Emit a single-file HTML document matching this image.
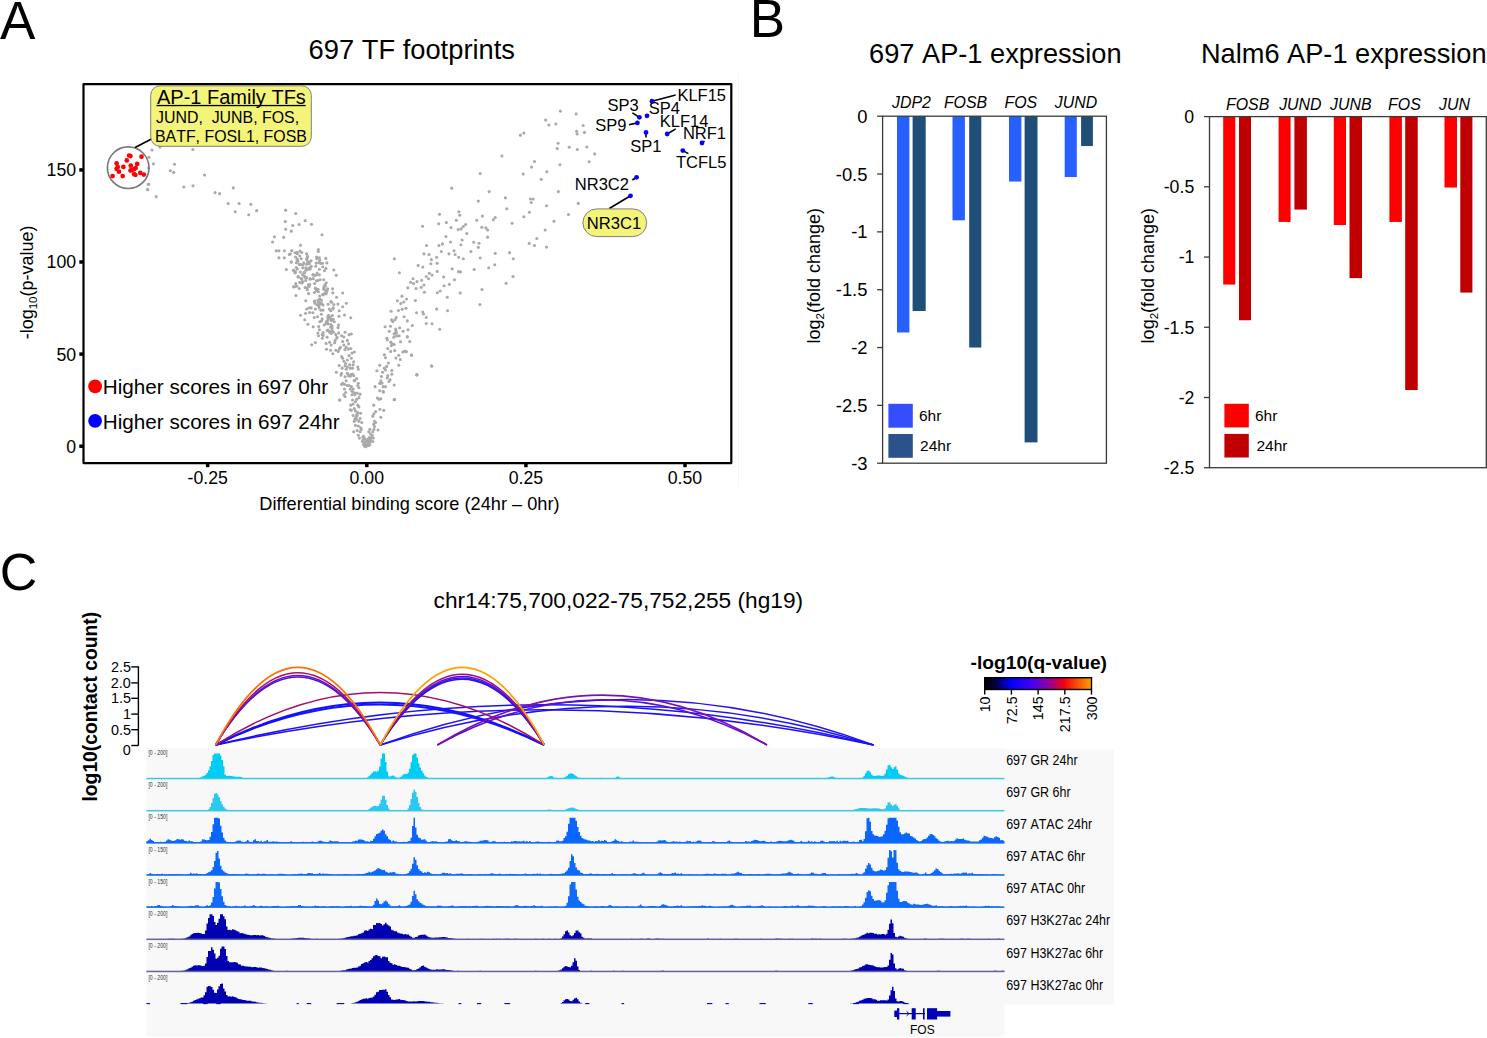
<!DOCTYPE html>
<html><head><meta charset="utf-8"><title>Figure</title><style>html,body{margin:0;padding:0;background:#fff;overflow:hidden;width:1487px;height:1038px}svg{display:block}text{font-family:"Liberation Sans",sans-serif;font-kerning:none}</style></head><body>
<svg width="1487" height="1038" viewBox="0 0 1487 1038">
<rect width="1487" height="1038" fill="#fff"/>
<text x="-0.10" y="38.80" font-size="53" fill="#000">A</text>
<text x="308.61" y="59.10" font-size="27.3" fill="#000">697 TF footprints</text>
<circle cx="326.58" cy="349.28" r="1.55" fill="#a9a9a9"/>
<circle cx="329.61" cy="342.29" r="1.55" fill="#a9a9a9"/>
<circle cx="323.09" cy="332.50" r="1.55" fill="#a9a9a9"/>
<circle cx="322.37" cy="338.25" r="1.55" fill="#a9a9a9"/>
<circle cx="337.97" cy="327.58" r="1.55" fill="#a9a9a9"/>
<circle cx="319.40" cy="329.68" r="1.55" fill="#a9a9a9"/>
<circle cx="326.08" cy="343.40" r="1.55" fill="#a9a9a9"/>
<circle cx="318.49" cy="335.69" r="1.55" fill="#a9a9a9"/>
<circle cx="329.27" cy="332.09" r="1.55" fill="#a9a9a9"/>
<circle cx="322.18" cy="334.46" r="1.55" fill="#a9a9a9"/>
<circle cx="327.11" cy="337.13" r="1.55" fill="#a9a9a9"/>
<circle cx="317.88" cy="332.94" r="1.55" fill="#a9a9a9"/>
<circle cx="323.23" cy="335.42" r="1.55" fill="#a9a9a9"/>
<circle cx="332.13" cy="328.42" r="1.55" fill="#a9a9a9"/>
<circle cx="330.79" cy="327.33" r="1.55" fill="#a9a9a9"/>
<circle cx="329.77" cy="331.36" r="1.55" fill="#a9a9a9"/>
<circle cx="315.33" cy="342.57" r="1.55" fill="#a9a9a9"/>
<circle cx="327.03" cy="330.43" r="1.55" fill="#a9a9a9"/>
<circle cx="327.97" cy="329.95" r="1.55" fill="#a9a9a9"/>
<circle cx="317.57" cy="316.81" r="1.55" fill="#a9a9a9"/>
<circle cx="318.74" cy="326.54" r="1.55" fill="#a9a9a9"/>
<circle cx="328.28" cy="324.01" r="1.55" fill="#a9a9a9"/>
<circle cx="326.47" cy="321.50" r="1.55" fill="#a9a9a9"/>
<circle cx="320.91" cy="310.30" r="1.55" fill="#a9a9a9"/>
<circle cx="315.27" cy="308.98" r="1.55" fill="#a9a9a9"/>
<circle cx="304.77" cy="319.71" r="1.55" fill="#a9a9a9"/>
<circle cx="311.20" cy="307.88" r="1.55" fill="#a9a9a9"/>
<circle cx="321.59" cy="320.87" r="1.55" fill="#a9a9a9"/>
<circle cx="332.04" cy="325.94" r="1.55" fill="#a9a9a9"/>
<circle cx="319.86" cy="321.79" r="1.55" fill="#a9a9a9"/>
<circle cx="328.04" cy="318.20" r="1.55" fill="#a9a9a9"/>
<circle cx="330.75" cy="310.82" r="1.55" fill="#a9a9a9"/>
<circle cx="344.46" cy="315.11" r="1.55" fill="#a9a9a9"/>
<circle cx="309.56" cy="312.43" r="1.55" fill="#a9a9a9"/>
<circle cx="305.59" cy="313.37" r="1.55" fill="#a9a9a9"/>
<circle cx="331.41" cy="320.66" r="1.55" fill="#a9a9a9"/>
<circle cx="329.23" cy="309.08" r="1.55" fill="#a9a9a9"/>
<circle cx="334.30" cy="321.82" r="1.55" fill="#a9a9a9"/>
<circle cx="319.19" cy="308.05" r="1.55" fill="#a9a9a9"/>
<circle cx="338.96" cy="316.20" r="1.55" fill="#a9a9a9"/>
<circle cx="330.96" cy="324.63" r="1.55" fill="#a9a9a9"/>
<circle cx="330.43" cy="317.00" r="1.55" fill="#a9a9a9"/>
<circle cx="332.70" cy="309.06" r="1.55" fill="#a9a9a9"/>
<circle cx="327.03" cy="322.53" r="1.55" fill="#a9a9a9"/>
<circle cx="332.08" cy="320.02" r="1.55" fill="#a9a9a9"/>
<circle cx="327.99" cy="316.95" r="1.55" fill="#a9a9a9"/>
<circle cx="312.91" cy="312.80" r="1.55" fill="#a9a9a9"/>
<circle cx="330.98" cy="319.52" r="1.55" fill="#a9a9a9"/>
<circle cx="324.18" cy="325.07" r="1.55" fill="#a9a9a9"/>
<circle cx="350.75" cy="317.69" r="1.55" fill="#a9a9a9"/>
<circle cx="323.05" cy="310.10" r="1.55" fill="#a9a9a9"/>
<circle cx="333.18" cy="319.30" r="1.55" fill="#a9a9a9"/>
<circle cx="333.31" cy="307.92" r="1.55" fill="#a9a9a9"/>
<circle cx="313.17" cy="326.81" r="1.55" fill="#a9a9a9"/>
<circle cx="306.74" cy="308.98" r="1.55" fill="#a9a9a9"/>
<circle cx="327.70" cy="320.41" r="1.55" fill="#a9a9a9"/>
<circle cx="339.21" cy="310.81" r="1.55" fill="#a9a9a9"/>
<circle cx="307.90" cy="324.24" r="1.55" fill="#a9a9a9"/>
<circle cx="314.23" cy="317.52" r="1.55" fill="#a9a9a9"/>
<circle cx="300.58" cy="315.23" r="1.55" fill="#a9a9a9"/>
<circle cx="322.16" cy="318.88" r="1.55" fill="#a9a9a9"/>
<circle cx="326.03" cy="323.42" r="1.55" fill="#a9a9a9"/>
<circle cx="321.38" cy="314.24" r="1.55" fill="#a9a9a9"/>
<circle cx="328.41" cy="315.31" r="1.55" fill="#a9a9a9"/>
<circle cx="338.50" cy="325.04" r="1.55" fill="#a9a9a9"/>
<circle cx="330.72" cy="319.07" r="1.55" fill="#a9a9a9"/>
<circle cx="332.33" cy="315.50" r="1.55" fill="#a9a9a9"/>
<circle cx="315.85" cy="289.11" r="1.55" fill="#a9a9a9"/>
<circle cx="307.28" cy="289.82" r="1.55" fill="#a9a9a9"/>
<circle cx="316.50" cy="289.20" r="1.55" fill="#a9a9a9"/>
<circle cx="331.46" cy="302.20" r="1.55" fill="#a9a9a9"/>
<circle cx="319.70" cy="299.11" r="1.55" fill="#a9a9a9"/>
<circle cx="323.93" cy="293.72" r="1.55" fill="#a9a9a9"/>
<circle cx="314.67" cy="301.08" r="1.55" fill="#a9a9a9"/>
<circle cx="323.10" cy="294.83" r="1.55" fill="#a9a9a9"/>
<circle cx="336.56" cy="297.31" r="1.55" fill="#a9a9a9"/>
<circle cx="307.07" cy="288.06" r="1.55" fill="#a9a9a9"/>
<circle cx="337.96" cy="304.09" r="1.55" fill="#a9a9a9"/>
<circle cx="331.00" cy="301.48" r="1.55" fill="#a9a9a9"/>
<circle cx="315.01" cy="303.37" r="1.55" fill="#a9a9a9"/>
<circle cx="322.74" cy="294.48" r="1.55" fill="#a9a9a9"/>
<circle cx="316.96" cy="304.69" r="1.55" fill="#a9a9a9"/>
<circle cx="322.99" cy="304.95" r="1.55" fill="#a9a9a9"/>
<circle cx="316.80" cy="290.80" r="1.55" fill="#a9a9a9"/>
<circle cx="342.74" cy="293.00" r="1.55" fill="#a9a9a9"/>
<circle cx="318.67" cy="305.16" r="1.55" fill="#a9a9a9"/>
<circle cx="332.79" cy="292.83" r="1.55" fill="#a9a9a9"/>
<circle cx="321.43" cy="300.19" r="1.55" fill="#a9a9a9"/>
<circle cx="328.14" cy="304.32" r="1.55" fill="#a9a9a9"/>
<circle cx="315.39" cy="288.14" r="1.55" fill="#a9a9a9"/>
<circle cx="318.04" cy="289.36" r="1.55" fill="#a9a9a9"/>
<circle cx="326.26" cy="291.42" r="1.55" fill="#a9a9a9"/>
<circle cx="309.25" cy="307.85" r="1.55" fill="#a9a9a9"/>
<circle cx="320.81" cy="303.87" r="1.55" fill="#a9a9a9"/>
<circle cx="327.12" cy="290.68" r="1.55" fill="#a9a9a9"/>
<circle cx="318.39" cy="291.75" r="1.55" fill="#a9a9a9"/>
<circle cx="342.71" cy="306.82" r="1.55" fill="#a9a9a9"/>
<circle cx="326.09" cy="293.85" r="1.55" fill="#a9a9a9"/>
<circle cx="314.37" cy="301.45" r="1.55" fill="#a9a9a9"/>
<circle cx="346.44" cy="303.19" r="1.55" fill="#a9a9a9"/>
<circle cx="318.26" cy="302.18" r="1.55" fill="#a9a9a9"/>
<circle cx="316.40" cy="289.94" r="1.55" fill="#a9a9a9"/>
<circle cx="323.59" cy="289.09" r="1.55" fill="#a9a9a9"/>
<circle cx="316.49" cy="289.77" r="1.55" fill="#a9a9a9"/>
<circle cx="317.99" cy="300.26" r="1.55" fill="#a9a9a9"/>
<circle cx="327.56" cy="288.80" r="1.55" fill="#a9a9a9"/>
<circle cx="314.45" cy="292.49" r="1.55" fill="#a9a9a9"/>
<circle cx="295.94" cy="295.51" r="1.55" fill="#a9a9a9"/>
<circle cx="305.79" cy="300.77" r="1.55" fill="#a9a9a9"/>
<circle cx="333.81" cy="304.56" r="1.55" fill="#a9a9a9"/>
<circle cx="321.45" cy="303.16" r="1.55" fill="#a9a9a9"/>
<circle cx="319.53" cy="302.45" r="1.55" fill="#a9a9a9"/>
<circle cx="324.57" cy="289.50" r="1.55" fill="#a9a9a9"/>
<circle cx="318.86" cy="306.07" r="1.55" fill="#a9a9a9"/>
<circle cx="308.59" cy="293.64" r="1.55" fill="#a9a9a9"/>
<circle cx="319.61" cy="295.94" r="1.55" fill="#a9a9a9"/>
<circle cx="325.91" cy="292.28" r="1.55" fill="#a9a9a9"/>
<circle cx="295.40" cy="271.61" r="1.55" fill="#a9a9a9"/>
<circle cx="297.98" cy="276.63" r="1.55" fill="#a9a9a9"/>
<circle cx="326.24" cy="282.79" r="1.55" fill="#a9a9a9"/>
<circle cx="324.94" cy="284.74" r="1.55" fill="#a9a9a9"/>
<circle cx="302.12" cy="281.46" r="1.55" fill="#a9a9a9"/>
<circle cx="313.27" cy="278.67" r="1.55" fill="#a9a9a9"/>
<circle cx="325.96" cy="268.38" r="1.55" fill="#a9a9a9"/>
<circle cx="320.09" cy="279.81" r="1.55" fill="#a9a9a9"/>
<circle cx="294.67" cy="286.82" r="1.55" fill="#a9a9a9"/>
<circle cx="325.42" cy="285.90" r="1.55" fill="#a9a9a9"/>
<circle cx="333.83" cy="270.07" r="1.55" fill="#a9a9a9"/>
<circle cx="300.26" cy="272.10" r="1.55" fill="#a9a9a9"/>
<circle cx="310.00" cy="269.24" r="1.55" fill="#a9a9a9"/>
<circle cx="304.66" cy="276.41" r="1.55" fill="#a9a9a9"/>
<circle cx="308.41" cy="284.72" r="1.55" fill="#a9a9a9"/>
<circle cx="299.69" cy="282.56" r="1.55" fill="#a9a9a9"/>
<circle cx="305.11" cy="287.44" r="1.55" fill="#a9a9a9"/>
<circle cx="313.28" cy="274.52" r="1.55" fill="#a9a9a9"/>
<circle cx="317.12" cy="272.99" r="1.55" fill="#a9a9a9"/>
<circle cx="323.75" cy="286.90" r="1.55" fill="#a9a9a9"/>
<circle cx="316.36" cy="275.04" r="1.55" fill="#a9a9a9"/>
<circle cx="309.76" cy="284.46" r="1.55" fill="#a9a9a9"/>
<circle cx="301.70" cy="283.06" r="1.55" fill="#a9a9a9"/>
<circle cx="302.87" cy="281.90" r="1.55" fill="#a9a9a9"/>
<circle cx="304.04" cy="272.57" r="1.55" fill="#a9a9a9"/>
<circle cx="317.95" cy="280.50" r="1.55" fill="#a9a9a9"/>
<circle cx="332.57" cy="288.69" r="1.55" fill="#a9a9a9"/>
<circle cx="316.45" cy="280.71" r="1.55" fill="#a9a9a9"/>
<circle cx="301.12" cy="278.57" r="1.55" fill="#a9a9a9"/>
<circle cx="299.24" cy="288.54" r="1.55" fill="#a9a9a9"/>
<circle cx="309.07" cy="286.55" r="1.55" fill="#a9a9a9"/>
<circle cx="305.78" cy="280.52" r="1.55" fill="#a9a9a9"/>
<circle cx="310.66" cy="278.95" r="1.55" fill="#a9a9a9"/>
<circle cx="293.50" cy="286.87" r="1.55" fill="#a9a9a9"/>
<circle cx="314.64" cy="283.50" r="1.55" fill="#a9a9a9"/>
<circle cx="319.38" cy="269.19" r="1.55" fill="#a9a9a9"/>
<circle cx="305.74" cy="270.18" r="1.55" fill="#a9a9a9"/>
<circle cx="293.44" cy="270.14" r="1.55" fill="#a9a9a9"/>
<circle cx="295.03" cy="272.51" r="1.55" fill="#a9a9a9"/>
<circle cx="323.65" cy="279.68" r="1.55" fill="#a9a9a9"/>
<circle cx="295.77" cy="283.65" r="1.55" fill="#a9a9a9"/>
<circle cx="306.67" cy="277.65" r="1.55" fill="#a9a9a9"/>
<circle cx="312.88" cy="275.02" r="1.55" fill="#a9a9a9"/>
<circle cx="296.77" cy="286.30" r="1.55" fill="#a9a9a9"/>
<circle cx="297.23" cy="259.02" r="1.55" fill="#a9a9a9"/>
<circle cx="291.09" cy="262.02" r="1.55" fill="#a9a9a9"/>
<circle cx="300.88" cy="264.54" r="1.55" fill="#a9a9a9"/>
<circle cx="299.27" cy="264.19" r="1.55" fill="#a9a9a9"/>
<circle cx="297.36" cy="268.98" r="1.55" fill="#a9a9a9"/>
<circle cx="306.64" cy="264.18" r="1.55" fill="#a9a9a9"/>
<circle cx="322.41" cy="263.32" r="1.55" fill="#a9a9a9"/>
<circle cx="309.29" cy="263.66" r="1.55" fill="#a9a9a9"/>
<circle cx="310.03" cy="267.88" r="1.55" fill="#a9a9a9"/>
<circle cx="318.95" cy="262.55" r="1.55" fill="#a9a9a9"/>
<circle cx="307.69" cy="261.49" r="1.55" fill="#a9a9a9"/>
<circle cx="316.30" cy="263.13" r="1.55" fill="#a9a9a9"/>
<circle cx="307.13" cy="257.81" r="1.55" fill="#a9a9a9"/>
<circle cx="319.76" cy="260.20" r="1.55" fill="#a9a9a9"/>
<circle cx="305.82" cy="267.83" r="1.55" fill="#a9a9a9"/>
<circle cx="326.86" cy="262.92" r="1.55" fill="#a9a9a9"/>
<circle cx="297.85" cy="261.19" r="1.55" fill="#a9a9a9"/>
<circle cx="296.37" cy="267.60" r="1.55" fill="#a9a9a9"/>
<circle cx="316.89" cy="258.69" r="1.55" fill="#a9a9a9"/>
<circle cx="311.06" cy="260.87" r="1.55" fill="#a9a9a9"/>
<circle cx="315.75" cy="266.23" r="1.55" fill="#a9a9a9"/>
<circle cx="303.80" cy="262.80" r="1.55" fill="#a9a9a9"/>
<circle cx="308.93" cy="268.10" r="1.55" fill="#a9a9a9"/>
<circle cx="309.13" cy="262.09" r="1.55" fill="#a9a9a9"/>
<circle cx="302.68" cy="267.80" r="1.55" fill="#a9a9a9"/>
<circle cx="291.40" cy="262.11" r="1.55" fill="#a9a9a9"/>
<circle cx="320.55" cy="263.38" r="1.55" fill="#a9a9a9"/>
<circle cx="316.63" cy="256.95" r="1.55" fill="#a9a9a9"/>
<circle cx="299.99" cy="251.15" r="1.55" fill="#a9a9a9"/>
<circle cx="291.76" cy="250.61" r="1.55" fill="#a9a9a9"/>
<circle cx="297.30" cy="253.82" r="1.55" fill="#a9a9a9"/>
<circle cx="318.26" cy="251.56" r="1.55" fill="#a9a9a9"/>
<circle cx="306.56" cy="253.85" r="1.55" fill="#a9a9a9"/>
<circle cx="296.82" cy="252.32" r="1.55" fill="#a9a9a9"/>
<circle cx="295.56" cy="257.03" r="1.55" fill="#a9a9a9"/>
<circle cx="290.34" cy="253.86" r="1.55" fill="#a9a9a9"/>
<circle cx="307.51" cy="256.40" r="1.55" fill="#a9a9a9"/>
<circle cx="301.75" cy="252.49" r="1.55" fill="#a9a9a9"/>
<circle cx="395.90" cy="330.58" r="1.55" fill="#a9a9a9"/>
<circle cx="394.16" cy="334.05" r="1.55" fill="#a9a9a9"/>
<circle cx="396.47" cy="332.89" r="1.55" fill="#a9a9a9"/>
<circle cx="399.13" cy="335.78" r="1.55" fill="#a9a9a9"/>
<circle cx="393.82" cy="337.17" r="1.55" fill="#a9a9a9"/>
<circle cx="407.23" cy="336.94" r="1.55" fill="#a9a9a9"/>
<circle cx="409.77" cy="341.56" r="1.55" fill="#a9a9a9"/>
<circle cx="400.52" cy="341.79" r="1.55" fill="#a9a9a9"/>
<circle cx="387.23" cy="339.83" r="1.55" fill="#a9a9a9"/>
<circle cx="390.69" cy="342.14" r="1.55" fill="#a9a9a9"/>
<circle cx="392.43" cy="343.87" r="1.55" fill="#a9a9a9"/>
<circle cx="391.27" cy="345.61" r="1.55" fill="#a9a9a9"/>
<circle cx="394.16" cy="344.45" r="1.55" fill="#a9a9a9"/>
<circle cx="387.80" cy="348.50" r="1.55" fill="#a9a9a9"/>
<circle cx="390.69" cy="351.39" r="1.55" fill="#a9a9a9"/>
<circle cx="394.74" cy="350.58" r="1.55" fill="#a9a9a9"/>
<circle cx="402.83" cy="351.97" r="1.55" fill="#a9a9a9"/>
<circle cx="406.30" cy="351.73" r="1.55" fill="#a9a9a9"/>
<circle cx="411.50" cy="355.20" r="1.55" fill="#a9a9a9"/>
<circle cx="398.79" cy="355.20" r="1.55" fill="#a9a9a9"/>
<circle cx="395.90" cy="357.98" r="1.55" fill="#a9a9a9"/>
<circle cx="400.29" cy="359.48" r="1.55" fill="#a9a9a9"/>
<circle cx="384.34" cy="354.86" r="1.55" fill="#a9a9a9"/>
<circle cx="385.49" cy="357.75" r="1.55" fill="#a9a9a9"/>
<circle cx="388.38" cy="362.95" r="1.55" fill="#a9a9a9"/>
<circle cx="379.71" cy="365.26" r="1.55" fill="#a9a9a9"/>
<circle cx="398.79" cy="365.26" r="1.55" fill="#a9a9a9"/>
<circle cx="386.65" cy="366.42" r="1.55" fill="#a9a9a9"/>
<circle cx="384.34" cy="368.15" r="1.55" fill="#a9a9a9"/>
<circle cx="385.49" cy="369.88" r="1.55" fill="#a9a9a9"/>
<circle cx="382.60" cy="372.20" r="1.55" fill="#a9a9a9"/>
<circle cx="376.82" cy="370.69" r="1.55" fill="#a9a9a9"/>
<circle cx="391.85" cy="370.46" r="1.55" fill="#a9a9a9"/>
<circle cx="391.85" cy="374.16" r="1.55" fill="#a9a9a9"/>
<circle cx="381.45" cy="376.47" r="1.55" fill="#a9a9a9"/>
<circle cx="387.80" cy="375.66" r="1.55" fill="#a9a9a9"/>
<circle cx="387.23" cy="377.98" r="1.55" fill="#a9a9a9"/>
<circle cx="390.12" cy="379.71" r="1.55" fill="#a9a9a9"/>
<circle cx="388.96" cy="381.45" r="1.55" fill="#a9a9a9"/>
<circle cx="380.87" cy="380.87" r="1.55" fill="#a9a9a9"/>
<circle cx="382.02" cy="383.18" r="1.55" fill="#a9a9a9"/>
<circle cx="379.71" cy="383.41" r="1.55" fill="#a9a9a9"/>
<circle cx="383.18" cy="386.65" r="1.55" fill="#a9a9a9"/>
<circle cx="385.49" cy="386.65" r="1.55" fill="#a9a9a9"/>
<circle cx="375.09" cy="386.65" r="1.55" fill="#a9a9a9"/>
<circle cx="394.16" cy="385.03" r="1.55" fill="#a9a9a9"/>
<circle cx="379.71" cy="390.69" r="1.55" fill="#a9a9a9"/>
<circle cx="383.18" cy="391.27" r="1.55" fill="#a9a9a9"/>
<circle cx="383.41" cy="392.20" r="1.55" fill="#a9a9a9"/>
<circle cx="377.40" cy="397.98" r="1.55" fill="#a9a9a9"/>
<circle cx="379.13" cy="399.36" r="1.55" fill="#a9a9a9"/>
<circle cx="380.87" cy="398.79" r="1.55" fill="#a9a9a9"/>
<circle cx="394.16" cy="399.71" r="1.55" fill="#a9a9a9"/>
<circle cx="373.70" cy="405.14" r="1.55" fill="#a9a9a9"/>
<circle cx="379.94" cy="409.19" r="1.55" fill="#a9a9a9"/>
<circle cx="383.76" cy="410.35" r="1.55" fill="#a9a9a9"/>
<circle cx="375.66" cy="411.50" r="1.55" fill="#a9a9a9"/>
<circle cx="373.93" cy="413.82" r="1.55" fill="#a9a9a9"/>
<circle cx="372.77" cy="416.13" r="1.55" fill="#a9a9a9"/>
<circle cx="380.87" cy="417.28" r="1.55" fill="#a9a9a9"/>
<circle cx="374.51" cy="421.33" r="1.55" fill="#a9a9a9"/>
<circle cx="375.66" cy="422.49" r="1.55" fill="#a9a9a9"/>
<circle cx="373.70" cy="424.22" r="1.55" fill="#a9a9a9"/>
<circle cx="374.51" cy="426.53" r="1.55" fill="#a9a9a9"/>
<circle cx="377.98" cy="430.00" r="1.55" fill="#a9a9a9"/>
<circle cx="373.93" cy="429.42" r="1.55" fill="#a9a9a9"/>
<circle cx="372.77" cy="431.73" r="1.55" fill="#a9a9a9"/>
<circle cx="369.88" cy="429.42" r="1.55" fill="#a9a9a9"/>
<circle cx="368.73" cy="431.73" r="1.55" fill="#a9a9a9"/>
<circle cx="370.46" cy="434.05" r="1.55" fill="#a9a9a9"/>
<circle cx="372.20" cy="435.20" r="1.55" fill="#a9a9a9"/>
<circle cx="373.35" cy="438.09" r="1.55" fill="#a9a9a9"/>
<circle cx="369.31" cy="437.51" r="1.55" fill="#a9a9a9"/>
<circle cx="369.88" cy="439.25" r="1.55" fill="#a9a9a9"/>
<circle cx="371.04" cy="440.98" r="1.55" fill="#a9a9a9"/>
<circle cx="372.77" cy="441.56" r="1.55" fill="#a9a9a9"/>
<circle cx="368.15" cy="440.98" r="1.55" fill="#a9a9a9"/>
<circle cx="431.73" cy="366.18" r="1.55" fill="#a9a9a9"/>
<circle cx="416.94" cy="374.74" r="1.55" fill="#a9a9a9"/>
<circle cx="363.53" cy="436.36" r="1.55" fill="#a9a9a9"/>
<circle cx="364.68" cy="438.67" r="1.55" fill="#a9a9a9"/>
<circle cx="365.84" cy="440.98" r="1.55" fill="#a9a9a9"/>
<circle cx="364.10" cy="442.72" r="1.55" fill="#a9a9a9"/>
<circle cx="365.26" cy="444.45" r="1.55" fill="#a9a9a9"/>
<circle cx="366.99" cy="445.61" r="1.55" fill="#a9a9a9"/>
<circle cx="368.15" cy="443.87" r="1.55" fill="#a9a9a9"/>
<circle cx="369.31" cy="442.14" r="1.55" fill="#a9a9a9"/>
<circle cx="362.95" cy="439.83" r="1.55" fill="#a9a9a9"/>
<circle cx="364.68" cy="446.18" r="1.55" fill="#a9a9a9"/>
<circle cx="366.42" cy="443.29" r="1.55" fill="#a9a9a9"/>
<circle cx="370.46" cy="438.67" r="1.55" fill="#a9a9a9"/>
<circle cx="371.62" cy="437.51" r="1.55" fill="#a9a9a9"/>
<circle cx="367.57" cy="439.25" r="1.55" fill="#a9a9a9"/>
<circle cx="363.53" cy="444.45" r="1.55" fill="#a9a9a9"/>
<circle cx="362.37" cy="441.56" r="1.55" fill="#a9a9a9"/>
<circle cx="369.88" cy="444.45" r="1.55" fill="#a9a9a9"/>
<circle cx="368.73" cy="445.61" r="1.55" fill="#a9a9a9"/>
<circle cx="365.84" cy="446.76" r="1.55" fill="#a9a9a9"/>
<circle cx="331.16" cy="333.47" r="1.55" fill="#a9a9a9"/>
<circle cx="333.47" cy="332.31" r="1.55" fill="#a9a9a9"/>
<circle cx="335.78" cy="334.62" r="1.55" fill="#a9a9a9"/>
<circle cx="336.94" cy="338.09" r="1.55" fill="#a9a9a9"/>
<circle cx="335.20" cy="340.40" r="1.55" fill="#a9a9a9"/>
<circle cx="331.16" cy="345.03" r="1.55" fill="#a9a9a9"/>
<circle cx="330.58" cy="350.23" r="1.55" fill="#a9a9a9"/>
<circle cx="332.89" cy="353.70" r="1.55" fill="#a9a9a9"/>
<circle cx="336.94" cy="336.94" r="1.55" fill="#a9a9a9"/>
<circle cx="341.56" cy="335.78" r="1.55" fill="#a9a9a9"/>
<circle cx="343.87" cy="336.94" r="1.55" fill="#a9a9a9"/>
<circle cx="342.72" cy="341.56" r="1.55" fill="#a9a9a9"/>
<circle cx="347.34" cy="340.40" r="1.55" fill="#a9a9a9"/>
<circle cx="348.50" cy="343.87" r="1.55" fill="#a9a9a9"/>
<circle cx="346.18" cy="347.34" r="1.55" fill="#a9a9a9"/>
<circle cx="345.03" cy="349.65" r="1.55" fill="#a9a9a9"/>
<circle cx="348.50" cy="349.08" r="1.55" fill="#a9a9a9"/>
<circle cx="350.81" cy="348.50" r="1.55" fill="#a9a9a9"/>
<circle cx="354.28" cy="351.97" r="1.55" fill="#a9a9a9"/>
<circle cx="339.25" cy="349.08" r="1.55" fill="#a9a9a9"/>
<circle cx="338.09" cy="351.39" r="1.55" fill="#a9a9a9"/>
<circle cx="335.78" cy="350.23" r="1.55" fill="#a9a9a9"/>
<circle cx="340.40" cy="347.34" r="1.55" fill="#a9a9a9"/>
<circle cx="341.56" cy="356.59" r="1.55" fill="#a9a9a9"/>
<circle cx="342.72" cy="358.32" r="1.55" fill="#a9a9a9"/>
<circle cx="349.08" cy="355.66" r="1.55" fill="#a9a9a9"/>
<circle cx="351.39" cy="358.32" r="1.55" fill="#a9a9a9"/>
<circle cx="353.70" cy="361.79" r="1.55" fill="#a9a9a9"/>
<circle cx="339.25" cy="365.61" r="1.55" fill="#a9a9a9"/>
<circle cx="345.61" cy="363.53" r="1.55" fill="#a9a9a9"/>
<circle cx="345.03" cy="365.84" r="1.55" fill="#a9a9a9"/>
<circle cx="347.34" cy="366.99" r="1.55" fill="#a9a9a9"/>
<circle cx="346.18" cy="369.31" r="1.55" fill="#a9a9a9"/>
<circle cx="350.23" cy="368.15" r="1.55" fill="#a9a9a9"/>
<circle cx="352.54" cy="368.15" r="1.55" fill="#a9a9a9"/>
<circle cx="357.75" cy="366.99" r="1.55" fill="#a9a9a9"/>
<circle cx="358.32" cy="369.31" r="1.55" fill="#a9a9a9"/>
<circle cx="336.36" cy="372.20" r="1.55" fill="#a9a9a9"/>
<circle cx="341.56" cy="373.35" r="1.55" fill="#a9a9a9"/>
<circle cx="340.98" cy="375.09" r="1.55" fill="#a9a9a9"/>
<circle cx="345.03" cy="376.82" r="1.55" fill="#a9a9a9"/>
<circle cx="348.50" cy="375.66" r="1.55" fill="#a9a9a9"/>
<circle cx="350.81" cy="374.51" r="1.55" fill="#a9a9a9"/>
<circle cx="352.54" cy="373.93" r="1.55" fill="#a9a9a9"/>
<circle cx="353.70" cy="375.66" r="1.55" fill="#a9a9a9"/>
<circle cx="350.23" cy="376.24" r="1.55" fill="#a9a9a9"/>
<circle cx="347.34" cy="373.35" r="1.55" fill="#a9a9a9"/>
<circle cx="354.28" cy="380.29" r="1.55" fill="#a9a9a9"/>
<circle cx="354.86" cy="380.87" r="1.55" fill="#a9a9a9"/>
<circle cx="341.56" cy="384.34" r="1.55" fill="#a9a9a9"/>
<circle cx="342.72" cy="383.18" r="1.55" fill="#a9a9a9"/>
<circle cx="347.34" cy="385.49" r="1.55" fill="#a9a9a9"/>
<circle cx="349.08" cy="385.49" r="1.55" fill="#a9a9a9"/>
<circle cx="351.39" cy="386.65" r="1.55" fill="#a9a9a9"/>
<circle cx="350.23" cy="388.96" r="1.55" fill="#a9a9a9"/>
<circle cx="353.12" cy="388.96" r="1.55" fill="#a9a9a9"/>
<circle cx="351.97" cy="391.27" r="1.55" fill="#a9a9a9"/>
<circle cx="353.70" cy="392.43" r="1.55" fill="#a9a9a9"/>
<circle cx="354.86" cy="393.58" r="1.55" fill="#a9a9a9"/>
<circle cx="357.17" cy="393.01" r="1.55" fill="#a9a9a9"/>
<circle cx="358.32" cy="383.18" r="1.55" fill="#a9a9a9"/>
<circle cx="357.75" cy="385.49" r="1.55" fill="#a9a9a9"/>
<circle cx="358.90" cy="387.80" r="1.55" fill="#a9a9a9"/>
<circle cx="344.45" cy="388.96" r="1.55" fill="#a9a9a9"/>
<circle cx="345.61" cy="392.43" r="1.55" fill="#a9a9a9"/>
<circle cx="343.87" cy="394.74" r="1.55" fill="#a9a9a9"/>
<circle cx="345.03" cy="396.47" r="1.55" fill="#a9a9a9"/>
<circle cx="351.97" cy="394.74" r="1.55" fill="#a9a9a9"/>
<circle cx="354.86" cy="394.74" r="1.55" fill="#a9a9a9"/>
<circle cx="360.06" cy="394.16" r="1.55" fill="#a9a9a9"/>
<circle cx="358.90" cy="397.63" r="1.55" fill="#a9a9a9"/>
<circle cx="339.83" cy="399.94" r="1.55" fill="#a9a9a9"/>
<circle cx="355.43" cy="401.68" r="1.55" fill="#a9a9a9"/>
<circle cx="353.12" cy="403.99" r="1.55" fill="#a9a9a9"/>
<circle cx="357.75" cy="405.14" r="1.55" fill="#a9a9a9"/>
<circle cx="358.90" cy="406.88" r="1.55" fill="#a9a9a9"/>
<circle cx="354.28" cy="408.61" r="1.55" fill="#a9a9a9"/>
<circle cx="350.23" cy="409.77" r="1.55" fill="#a9a9a9"/>
<circle cx="351.39" cy="410.35" r="1.55" fill="#a9a9a9"/>
<circle cx="357.75" cy="412.66" r="1.55" fill="#a9a9a9"/>
<circle cx="357.17" cy="415.55" r="1.55" fill="#a9a9a9"/>
<circle cx="356.01" cy="416.71" r="1.55" fill="#a9a9a9"/>
<circle cx="354.86" cy="419.02" r="1.55" fill="#a9a9a9"/>
<circle cx="356.59" cy="419.60" r="1.55" fill="#a9a9a9"/>
<circle cx="360.06" cy="418.44" r="1.55" fill="#a9a9a9"/>
<circle cx="358.90" cy="421.33" r="1.55" fill="#a9a9a9"/>
<circle cx="361.79" cy="422.49" r="1.55" fill="#a9a9a9"/>
<circle cx="355.43" cy="425.38" r="1.55" fill="#a9a9a9"/>
<circle cx="360.64" cy="427.69" r="1.55" fill="#a9a9a9"/>
<circle cx="361.21" cy="429.42" r="1.55" fill="#a9a9a9"/>
<circle cx="360.06" cy="431.73" r="1.55" fill="#a9a9a9"/>
<circle cx="353.70" cy="431.73" r="1.55" fill="#a9a9a9"/>
<circle cx="358.32" cy="435.20" r="1.55" fill="#a9a9a9"/>
<circle cx="359.48" cy="438.09" r="1.55" fill="#a9a9a9"/>
<circle cx="362.95" cy="436.94" r="1.55" fill="#a9a9a9"/>
<circle cx="356.01" cy="417.86" r="1.55" fill="#a9a9a9"/>
<circle cx="354.28" cy="421.33" r="1.55" fill="#a9a9a9"/>
<circle cx="356.82" cy="414.39" r="1.55" fill="#a9a9a9"/>
<circle cx="332.31" cy="331.16" r="1.55" fill="#a9a9a9"/>
<circle cx="338.67" cy="332.89" r="1.55" fill="#a9a9a9"/>
<circle cx="345.03" cy="332.31" r="1.55" fill="#a9a9a9"/>
<circle cx="349.08" cy="334.62" r="1.55" fill="#a9a9a9"/>
<circle cx="351.39" cy="334.05" r="1.55" fill="#a9a9a9"/>
<circle cx="334.62" cy="342.72" r="1.55" fill="#a9a9a9"/>
<circle cx="343.87" cy="345.03" r="1.55" fill="#a9a9a9"/>
<circle cx="351.97" cy="353.12" r="1.55" fill="#a9a9a9"/>
<circle cx="347.34" cy="360.06" r="1.55" fill="#a9a9a9"/>
<circle cx="343.87" cy="361.21" r="1.55" fill="#a9a9a9"/>
<circle cx="349.65" cy="364.68" r="1.55" fill="#a9a9a9"/>
<circle cx="342.14" cy="368.15" r="1.55" fill="#a9a9a9"/>
<circle cx="353.12" cy="364.68" r="1.55" fill="#a9a9a9"/>
<circle cx="356.59" cy="378.55" r="1.55" fill="#a9a9a9"/>
<circle cx="346.18" cy="380.87" r="1.55" fill="#a9a9a9"/>
<circle cx="344.45" cy="384.34" r="1.55" fill="#a9a9a9"/>
<circle cx="356.59" cy="399.36" r="1.55" fill="#a9a9a9"/>
<circle cx="352.54" cy="399.94" r="1.55" fill="#a9a9a9"/>
<circle cx="350.81" cy="405.14" r="1.55" fill="#a9a9a9"/>
<circle cx="355.43" cy="410.92" r="1.55" fill="#a9a9a9"/>
<circle cx="360.64" cy="413.24" r="1.55" fill="#a9a9a9"/>
<circle cx="353.12" cy="415.55" r="1.55" fill="#a9a9a9"/>
<circle cx="358.32" cy="425.95" r="1.55" fill="#a9a9a9"/>
<circle cx="357.17" cy="430.58" r="1.55" fill="#a9a9a9"/>
<circle cx="560.43" cy="111.10" r="1.55" fill="#a9a9a9"/>
<circle cx="576.16" cy="113.88" r="1.55" fill="#a9a9a9"/>
<circle cx="545.63" cy="120.12" r="1.55" fill="#a9a9a9"/>
<circle cx="548.86" cy="124.98" r="1.55" fill="#a9a9a9"/>
<circle cx="555.80" cy="124.06" r="1.55" fill="#a9a9a9"/>
<circle cx="583.10" cy="125.45" r="1.55" fill="#a9a9a9"/>
<circle cx="576.62" cy="131.23" r="1.55" fill="#a9a9a9"/>
<circle cx="584.49" cy="132.38" r="1.55" fill="#a9a9a9"/>
<circle cx="577.09" cy="134.00" r="1.55" fill="#a9a9a9"/>
<circle cx="523.88" cy="133.08" r="1.55" fill="#a9a9a9"/>
<circle cx="520.41" cy="135.16" r="1.55" fill="#a9a9a9"/>
<circle cx="558.12" cy="143.26" r="1.55" fill="#a9a9a9"/>
<circle cx="557.19" cy="148.58" r="1.55" fill="#a9a9a9"/>
<circle cx="569.22" cy="147.19" r="1.55" fill="#a9a9a9"/>
<circle cx="577.32" cy="149.50" r="1.55" fill="#a9a9a9"/>
<circle cx="586.80" cy="146.96" r="1.55" fill="#a9a9a9"/>
<circle cx="594.67" cy="153.90" r="1.55" fill="#a9a9a9"/>
<circle cx="589.11" cy="161.76" r="1.55" fill="#a9a9a9"/>
<circle cx="559.97" cy="164.77" r="1.55" fill="#a9a9a9"/>
<circle cx="534.52" cy="161.53" r="1.55" fill="#a9a9a9"/>
<circle cx="531.52" cy="167.08" r="1.55" fill="#a9a9a9"/>
<circle cx="501.91" cy="155.98" r="1.55" fill="#a9a9a9"/>
<circle cx="523.19" cy="174.02" r="1.55" fill="#a9a9a9"/>
<circle cx="546.78" cy="171.71" r="1.55" fill="#a9a9a9"/>
<circle cx="541.23" cy="179.34" r="1.55" fill="#a9a9a9"/>
<circle cx="480.16" cy="173.56" r="1.55" fill="#a9a9a9"/>
<circle cx="451.71" cy="188.13" r="1.55" fill="#a9a9a9"/>
<circle cx="489.18" cy="191.60" r="1.55" fill="#a9a9a9"/>
<circle cx="478.31" cy="201.09" r="1.55" fill="#a9a9a9"/>
<circle cx="505.38" cy="197.85" r="1.55" fill="#a9a9a9"/>
<circle cx="558.35" cy="191.60" r="1.55" fill="#a9a9a9"/>
<circle cx="578.24" cy="203.40" r="1.55" fill="#a9a9a9"/>
<circle cx="530.36" cy="199.01" r="1.55" fill="#a9a9a9"/>
<circle cx="533.13" cy="199.01" r="1.55" fill="#a9a9a9"/>
<circle cx="531.28" cy="202.48" r="1.55" fill="#a9a9a9"/>
<circle cx="506.76" cy="208.72" r="1.55" fill="#a9a9a9"/>
<circle cx="529.43" cy="212.19" r="1.55" fill="#a9a9a9"/>
<circle cx="523.88" cy="216.82" r="1.55" fill="#a9a9a9"/>
<circle cx="546.55" cy="205.71" r="1.55" fill="#a9a9a9"/>
<circle cx="568.53" cy="214.50" r="1.55" fill="#a9a9a9"/>
<circle cx="553.95" cy="221.21" r="1.55" fill="#a9a9a9"/>
<circle cx="512.08" cy="223.29" r="1.55" fill="#a9a9a9"/>
<circle cx="545.16" cy="230.00" r="1.55" fill="#a9a9a9"/>
<circle cx="536.84" cy="238.56" r="1.55" fill="#a9a9a9"/>
<circle cx="529.20" cy="243.42" r="1.55" fill="#a9a9a9"/>
<circle cx="534.52" cy="245.50" r="1.55" fill="#a9a9a9"/>
<circle cx="546.55" cy="247.12" r="1.55" fill="#a9a9a9"/>
<circle cx="458.88" cy="211.73" r="1.55" fill="#a9a9a9"/>
<circle cx="439.45" cy="214.27" r="1.55" fill="#a9a9a9"/>
<circle cx="459.81" cy="215.20" r="1.55" fill="#a9a9a9"/>
<circle cx="495.20" cy="217.51" r="1.55" fill="#a9a9a9"/>
<circle cx="493.35" cy="219.82" r="1.55" fill="#a9a9a9"/>
<circle cx="482.48" cy="216.12" r="1.55" fill="#a9a9a9"/>
<circle cx="476.69" cy="220.29" r="1.55" fill="#a9a9a9"/>
<circle cx="456.34" cy="220.29" r="1.55" fill="#a9a9a9"/>
<circle cx="446.39" cy="222.60" r="1.55" fill="#a9a9a9"/>
<circle cx="438.76" cy="223.76" r="1.55" fill="#a9a9a9"/>
<circle cx="465.59" cy="224.45" r="1.55" fill="#a9a9a9"/>
<circle cx="463.28" cy="226.53" r="1.55" fill="#a9a9a9"/>
<circle cx="451.02" cy="227.46" r="1.55" fill="#a9a9a9"/>
<circle cx="461.19" cy="228.85" r="1.55" fill="#a9a9a9"/>
<circle cx="481.78" cy="227.23" r="1.55" fill="#a9a9a9"/>
<circle cx="485.94" cy="227.92" r="1.55" fill="#a9a9a9"/>
<circle cx="487.56" cy="230.00" r="1.55" fill="#a9a9a9"/>
<circle cx="466.75" cy="233.47" r="1.55" fill="#a9a9a9"/>
<circle cx="458.19" cy="229.54" r="1.55" fill="#a9a9a9"/>
<circle cx="422.56" cy="226.30" r="1.55" fill="#a9a9a9"/>
<circle cx="445.93" cy="236.48" r="1.55" fill="#a9a9a9"/>
<circle cx="487.56" cy="237.17" r="1.55" fill="#a9a9a9"/>
<circle cx="462.12" cy="239.95" r="1.55" fill="#a9a9a9"/>
<circle cx="450.55" cy="242.03" r="1.55" fill="#a9a9a9"/>
<circle cx="473.68" cy="242.26" r="1.55" fill="#a9a9a9"/>
<circle cx="479.01" cy="243.19" r="1.55" fill="#a9a9a9"/>
<circle cx="442.46" cy="243.88" r="1.55" fill="#a9a9a9"/>
<circle cx="438.99" cy="245.50" r="1.55" fill="#a9a9a9"/>
<circle cx="426.50" cy="245.50" r="1.55" fill="#a9a9a9"/>
<circle cx="460.96" cy="244.81" r="1.55" fill="#a9a9a9"/>
<circle cx="478.31" cy="247.35" r="1.55" fill="#a9a9a9"/>
<circle cx="454.02" cy="250.82" r="1.55" fill="#a9a9a9"/>
<circle cx="448.93" cy="253.83" r="1.55" fill="#a9a9a9"/>
<circle cx="441.30" cy="251.52" r="1.55" fill="#a9a9a9"/>
<circle cx="423.95" cy="253.83" r="1.55" fill="#a9a9a9"/>
<circle cx="429.04" cy="254.52" r="1.55" fill="#a9a9a9"/>
<circle cx="455.18" cy="254.52" r="1.55" fill="#a9a9a9"/>
<circle cx="470.91" cy="251.52" r="1.55" fill="#a9a9a9"/>
<circle cx="495.20" cy="253.37" r="1.55" fill="#a9a9a9"/>
<circle cx="509.54" cy="252.67" r="1.55" fill="#a9a9a9"/>
<circle cx="513.24" cy="258.69" r="1.55" fill="#a9a9a9"/>
<circle cx="480.16" cy="257.99" r="1.55" fill="#a9a9a9"/>
<circle cx="463.28" cy="258.69" r="1.55" fill="#a9a9a9"/>
<circle cx="458.65" cy="257.30" r="1.55" fill="#a9a9a9"/>
<circle cx="436.67" cy="257.30" r="1.55" fill="#a9a9a9"/>
<circle cx="431.35" cy="259.61" r="1.55" fill="#a9a9a9"/>
<circle cx="394.34" cy="258.69" r="1.55" fill="#a9a9a9"/>
<circle cx="437.14" cy="263.31" r="1.55" fill="#a9a9a9"/>
<circle cx="430.89" cy="263.78" r="1.55" fill="#a9a9a9"/>
<circle cx="418.17" cy="265.39" r="1.55" fill="#a9a9a9"/>
<circle cx="422.79" cy="267.01" r="1.55" fill="#a9a9a9"/>
<circle cx="452.17" cy="268.86" r="1.55" fill="#a9a9a9"/>
<circle cx="458.65" cy="271.64" r="1.55" fill="#a9a9a9"/>
<circle cx="460.50" cy="271.87" r="1.55" fill="#a9a9a9"/>
<circle cx="474.15" cy="269.56" r="1.55" fill="#a9a9a9"/>
<circle cx="488.72" cy="267.71" r="1.55" fill="#a9a9a9"/>
<circle cx="494.74" cy="264.70" r="1.55" fill="#a9a9a9"/>
<circle cx="399.43" cy="272.80" r="1.55" fill="#a9a9a9"/>
<circle cx="429.27" cy="273.26" r="1.55" fill="#a9a9a9"/>
<circle cx="437.14" cy="271.41" r="1.55" fill="#a9a9a9"/>
<circle cx="432.05" cy="275.11" r="1.55" fill="#a9a9a9"/>
<circle cx="426.26" cy="276.50" r="1.55" fill="#a9a9a9"/>
<circle cx="443.61" cy="276.96" r="1.55" fill="#a9a9a9"/>
<circle cx="413.08" cy="278.81" r="1.55" fill="#a9a9a9"/>
<circle cx="410.53" cy="282.28" r="1.55" fill="#a9a9a9"/>
<circle cx="413.54" cy="283.44" r="1.55" fill="#a9a9a9"/>
<circle cx="417.01" cy="281.59" r="1.55" fill="#a9a9a9"/>
<circle cx="421.64" cy="280.20" r="1.55" fill="#a9a9a9"/>
<circle cx="428.58" cy="278.81" r="1.55" fill="#a9a9a9"/>
<circle cx="454.49" cy="279.74" r="1.55" fill="#a9a9a9"/>
<circle cx="449.40" cy="284.36" r="1.55" fill="#a9a9a9"/>
<circle cx="444.08" cy="285.75" r="1.55" fill="#a9a9a9"/>
<circle cx="423.95" cy="285.06" r="1.55" fill="#a9a9a9"/>
<circle cx="421.18" cy="287.37" r="1.55" fill="#a9a9a9"/>
<circle cx="416.09" cy="288.53" r="1.55" fill="#a9a9a9"/>
<circle cx="407.76" cy="287.83" r="1.55" fill="#a9a9a9"/>
<circle cx="424.41" cy="292.23" r="1.55" fill="#a9a9a9"/>
<circle cx="440.14" cy="291.07" r="1.55" fill="#a9a9a9"/>
<circle cx="437.37" cy="292.69" r="1.55" fill="#a9a9a9"/>
<circle cx="460.27" cy="292.92" r="1.55" fill="#a9a9a9"/>
<circle cx="482.01" cy="289.45" r="1.55" fill="#a9a9a9"/>
<circle cx="513.01" cy="276.50" r="1.55" fill="#a9a9a9"/>
<circle cx="506.07" cy="283.21" r="1.55" fill="#a9a9a9"/>
<circle cx="447.31" cy="297.32" r="1.55" fill="#a9a9a9"/>
<circle cx="401.98" cy="296.16" r="1.55" fill="#a9a9a9"/>
<circle cx="397.35" cy="300.79" r="1.55" fill="#a9a9a9"/>
<circle cx="406.60" cy="298.94" r="1.55" fill="#a9a9a9"/>
<circle cx="403.83" cy="301.94" r="1.55" fill="#a9a9a9"/>
<circle cx="400.82" cy="303.56" r="1.55" fill="#a9a9a9"/>
<circle cx="415.39" cy="300.56" r="1.55" fill="#a9a9a9"/>
<circle cx="405.91" cy="308.19" r="1.55" fill="#a9a9a9"/>
<circle cx="402.21" cy="309.35" r="1.55" fill="#a9a9a9"/>
<circle cx="398.51" cy="310.50" r="1.55" fill="#a9a9a9"/>
<circle cx="391.10" cy="311.20" r="1.55" fill="#a9a9a9"/>
<circle cx="404.06" cy="316.75" r="1.55" fill="#a9a9a9"/>
<circle cx="416.55" cy="312.82" r="1.55" fill="#a9a9a9"/>
<circle cx="422.79" cy="312.12" r="1.55" fill="#a9a9a9"/>
<circle cx="423.49" cy="313.97" r="1.55" fill="#a9a9a9"/>
<circle cx="426.26" cy="317.44" r="1.55" fill="#a9a9a9"/>
<circle cx="436.67" cy="309.11" r="1.55" fill="#a9a9a9"/>
<circle cx="447.55" cy="310.73" r="1.55" fill="#a9a9a9"/>
<circle cx="479.93" cy="304.49" r="1.55" fill="#a9a9a9"/>
<circle cx="396.19" cy="317.44" r="1.55" fill="#a9a9a9"/>
<circle cx="391.57" cy="319.75" r="1.55" fill="#a9a9a9"/>
<circle cx="392.72" cy="321.61" r="1.55" fill="#a9a9a9"/>
<circle cx="395.04" cy="319.75" r="1.55" fill="#a9a9a9"/>
<circle cx="407.30" cy="320.91" r="1.55" fill="#a9a9a9"/>
<circle cx="426.26" cy="323.46" r="1.55" fill="#a9a9a9"/>
<circle cx="432.05" cy="323.69" r="1.55" fill="#a9a9a9"/>
<circle cx="385.09" cy="326.69" r="1.55" fill="#a9a9a9"/>
<circle cx="390.41" cy="326.23" r="1.55" fill="#a9a9a9"/>
<circle cx="395.73" cy="329.01" r="1.55" fill="#a9a9a9"/>
<circle cx="407.99" cy="329.70" r="1.55" fill="#a9a9a9"/>
<circle cx="439.68" cy="329.24" r="1.55" fill="#a9a9a9"/>
<circle cx="394.34" cy="333.63" r="1.55" fill="#a9a9a9"/>
<circle cx="396.66" cy="335.95" r="1.55" fill="#a9a9a9"/>
<circle cx="407.30" cy="336.64" r="1.55" fill="#a9a9a9"/>
<circle cx="386.94" cy="338.26" r="1.55" fill="#a9a9a9"/>
<circle cx="389.25" cy="331.32" r="1.55" fill="#a9a9a9"/>
<circle cx="399.66" cy="327.85" r="1.55" fill="#a9a9a9"/>
<circle cx="412.38" cy="325.54" r="1.55" fill="#a9a9a9"/>
<circle cx="403.13" cy="331.32" r="1.55" fill="#a9a9a9"/>
<circle cx="192.87" cy="149.44" r="1.55" fill="#a9a9a9"/>
<circle cx="149.04" cy="157.26" r="1.55" fill="#a9a9a9"/>
<circle cx="153.49" cy="163.87" r="1.55" fill="#a9a9a9"/>
<circle cx="174.52" cy="164.28" r="1.55" fill="#a9a9a9"/>
<circle cx="170.34" cy="170.75" r="1.55" fill="#a9a9a9"/>
<circle cx="173.72" cy="172.37" r="1.55" fill="#a9a9a9"/>
<circle cx="204.60" cy="174.93" r="1.55" fill="#a9a9a9"/>
<circle cx="148.63" cy="184.23" r="1.55" fill="#a9a9a9"/>
<circle cx="147.69" cy="189.76" r="1.55" fill="#a9a9a9"/>
<circle cx="156.18" cy="196.64" r="1.55" fill="#a9a9a9"/>
<circle cx="183.83" cy="187.07" r="1.55" fill="#a9a9a9"/>
<circle cx="193.00" cy="185.85" r="1.55" fill="#a9a9a9"/>
<circle cx="233.32" cy="187.88" r="1.55" fill="#a9a9a9"/>
<circle cx="215.12" cy="192.60" r="1.55" fill="#a9a9a9"/>
<circle cx="219.57" cy="193.67" r="1.55" fill="#a9a9a9"/>
<circle cx="228.20" cy="203.52" r="1.55" fill="#a9a9a9"/>
<circle cx="239.12" cy="203.52" r="1.55" fill="#a9a9a9"/>
<circle cx="250.86" cy="204.33" r="1.55" fill="#a9a9a9"/>
<circle cx="235.21" cy="211.75" r="1.55" fill="#a9a9a9"/>
<circle cx="248.70" cy="214.71" r="1.55" fill="#a9a9a9"/>
<circle cx="256.66" cy="210.67" r="1.55" fill="#a9a9a9"/>
<circle cx="285.65" cy="210.13" r="1.55" fill="#a9a9a9"/>
<circle cx="295.77" cy="213.50" r="1.55" fill="#a9a9a9"/>
<circle cx="285.25" cy="221.59" r="1.55" fill="#a9a9a9"/>
<circle cx="292.80" cy="225.50" r="1.55" fill="#a9a9a9"/>
<circle cx="299.14" cy="224.56" r="1.55" fill="#a9a9a9"/>
<circle cx="305.21" cy="220.65" r="1.55" fill="#a9a9a9"/>
<circle cx="311.54" cy="224.29" r="1.55" fill="#a9a9a9"/>
<circle cx="285.65" cy="229.28" r="1.55" fill="#a9a9a9"/>
<circle cx="291.31" cy="231.17" r="1.55" fill="#a9a9a9"/>
<circle cx="274.46" cy="236.70" r="1.55" fill="#a9a9a9"/>
<circle cx="283.63" cy="237.37" r="1.55" fill="#a9a9a9"/>
<circle cx="272.57" cy="241.96" r="1.55" fill="#a9a9a9"/>
<circle cx="322.06" cy="234.81" r="1.55" fill="#a9a9a9"/>
<circle cx="300.49" cy="245.19" r="1.55" fill="#a9a9a9"/>
<circle cx="276.21" cy="250.86" r="1.55" fill="#a9a9a9"/>
<circle cx="278.91" cy="250.86" r="1.55" fill="#a9a9a9"/>
<circle cx="284.44" cy="250.72" r="1.55" fill="#a9a9a9"/>
<circle cx="289.29" cy="254.50" r="1.55" fill="#a9a9a9"/>
<circle cx="295.09" cy="252.74" r="1.55" fill="#a9a9a9"/>
<circle cx="297.11" cy="253.28" r="1.55" fill="#a9a9a9"/>
<circle cx="318.29" cy="249.51" r="1.55" fill="#a9a9a9"/>
<circle cx="278.91" cy="257.87" r="1.55" fill="#a9a9a9"/>
<circle cx="284.30" cy="257.87" r="1.55" fill="#a9a9a9"/>
<circle cx="299.81" cy="255.98" r="1.55" fill="#a9a9a9"/>
<circle cx="301.16" cy="258.68" r="1.55" fill="#a9a9a9"/>
<circle cx="306.55" cy="259.35" r="1.55" fill="#a9a9a9"/>
<circle cx="297.11" cy="260.03" r="1.55" fill="#a9a9a9"/>
<circle cx="296.44" cy="262.72" r="1.55" fill="#a9a9a9"/>
<circle cx="299.81" cy="264.75" r="1.55" fill="#a9a9a9"/>
<circle cx="303.18" cy="264.75" r="1.55" fill="#a9a9a9"/>
<circle cx="307.90" cy="263.40" r="1.55" fill="#a9a9a9"/>
<circle cx="319.37" cy="257.73" r="1.55" fill="#a9a9a9"/>
<circle cx="325.84" cy="258.41" r="1.55" fill="#a9a9a9"/>
<circle cx="311.27" cy="266.37" r="1.55" fill="#a9a9a9"/>
<circle cx="322.74" cy="266.77" r="1.55" fill="#a9a9a9"/>
<circle cx="286.33" cy="269.47" r="1.55" fill="#a9a9a9"/>
<circle cx="293.74" cy="270.55" r="1.55" fill="#a9a9a9"/>
<circle cx="295.09" cy="272.84" r="1.55" fill="#a9a9a9"/>
<circle cx="307.23" cy="269.47" r="1.55" fill="#a9a9a9"/>
<circle cx="304.53" cy="272.84" r="1.55" fill="#a9a9a9"/>
<circle cx="302.51" cy="274.86" r="1.55" fill="#a9a9a9"/>
<circle cx="324.49" cy="270.82" r="1.55" fill="#a9a9a9"/>
<circle cx="314.65" cy="275.54" r="1.55" fill="#a9a9a9"/>
<circle cx="336.22" cy="275.27" r="1.55" fill="#a9a9a9"/>
<circle cx="298.46" cy="276.88" r="1.55" fill="#a9a9a9"/>
<circle cx="319.37" cy="274.86" r="1.55" fill="#a9a9a9"/>
<circle cx="301.83" cy="278.91" r="1.55" fill="#a9a9a9"/>
<circle cx="305.88" cy="278.23" r="1.55" fill="#a9a9a9"/>
<circle cx="309.93" cy="278.91" r="1.55" fill="#a9a9a9"/>
<circle cx="431.60" cy="365.70" r="1.55" fill="#a9a9a9"/>
<circle cx="417.00" cy="374.80" r="1.55" fill="#a9a9a9"/>
<circle cx="394.60" cy="399.40" r="1.55" fill="#a9a9a9"/>
<circle cx="416.70" cy="374.90" r="1.55" fill="#a9a9a9"/>
<circle cx="411.50" cy="355.00" r="1.55" fill="#a9a9a9"/>
<circle cx="404.20" cy="351.20" r="1.55" fill="#a9a9a9"/>
<circle cx="406.00" cy="351.60" r="1.55" fill="#a9a9a9"/>
<circle cx="339.60" cy="400.00" r="1.55" fill="#a9a9a9"/>
<circle cx="311.70" cy="344.80" r="1.55" fill="#a9a9a9"/>
<circle cx="148.60" cy="168.00" r="1.55" fill="#a9a9a9"/>
<circle cx="148.20" cy="184.30" r="1.55" fill="#a9a9a9"/>
<circle cx="147.50" cy="189.50" r="1.55" fill="#a9a9a9"/>
<circle cx="152.00" cy="150.00" r="1.55" fill="#a9a9a9"/>
<circle cx="160.00" cy="147.00" r="1.55" fill="#a9a9a9"/>
<rect x="83.5" y="84.1" width="647.8" height="379" fill="none" stroke="#000" stroke-width="2.2" stroke-linejoin="round"/>
<rect x="79.30" y="444.45" width="4.50" height="3.50" fill="#000"/>
<text x="66.25" y="452.60" font-size="17.7" fill="#000">0</text>
<rect x="79.30" y="352.35" width="4.50" height="3.50" fill="#000"/>
<text x="56.40" y="360.50" font-size="17.7" fill="#000">50</text>
<rect x="79.30" y="260.25" width="4.50" height="3.50" fill="#000"/>
<text x="46.56" y="268.40" font-size="17.7" fill="#000">100</text>
<rect x="79.30" y="168.15" width="4.50" height="3.50" fill="#000"/>
<text x="46.56" y="176.30" font-size="17.7" fill="#000">150</text>
<rect x="205.95" y="463.00" width="3.50" height="4.20" fill="#000"/>
<text x="187.51" y="483.90" font-size="17.7" fill="#000">-0.25</text>
<rect x="365.05" y="463.00" width="3.50" height="4.20" fill="#000"/>
<text x="349.58" y="483.90" font-size="17.7" fill="#000">0.00</text>
<rect x="524.15" y="463.00" width="3.50" height="4.20" fill="#000"/>
<text x="508.70" y="483.90" font-size="17.7" fill="#000">0.25</text>
<rect x="683.25" y="463.00" width="3.50" height="4.20" fill="#000"/>
<text x="667.78" y="483.90" font-size="17.7" fill="#000">0.50</text>
<text x="259.31" y="509.80" font-size="18.2" fill="#000">Differential binding score (24hr – 0hr)</text>
<g transform="translate(32.6,282.4) rotate(-90)">
<text x="-56.92" y="0" font-size="18">-log<tspan font-size="11.5" dy="4">10</tspan><tspan dy="-4">(p-value)</tspan></text>
</g>
<circle cx="95.10" cy="386.30" r="6.9" fill="#ff0000"/>
<circle cx="95.10" cy="420.80" r="6.9" fill="#0000ff"/>
<text x="102.80" y="393.60" font-size="20.7" fill="#000">Higher scores in 697 0hr</text>
<text x="102.80" y="429.00" font-size="20.7" fill="#000">Higher scores in 697 24hr</text>
<circle cx="128.20" cy="167.70" r="20.8" fill="none" stroke="#7a7a7a" stroke-width="1.7"/>
<circle cx="129.10" cy="155.50" r="2.35" fill="#ff0000"/>
<circle cx="130.50" cy="156.10" r="2.35" fill="#ff0000"/>
<circle cx="141.50" cy="156.70" r="2.35" fill="#ff0000"/>
<circle cx="126.80" cy="160.40" r="2.35" fill="#ff0000"/>
<circle cx="116.60" cy="163.40" r="2.35" fill="#ff0000"/>
<circle cx="137.20" cy="163.90" r="2.35" fill="#ff0000"/>
<circle cx="123.40" cy="166.90" r="2.35" fill="#ff0000"/>
<circle cx="130.80" cy="165.70" r="2.35" fill="#ff0000"/>
<circle cx="117.80" cy="167.10" r="2.35" fill="#ff0000"/>
<circle cx="116.60" cy="168.80" r="2.35" fill="#ff0000"/>
<circle cx="119.00" cy="171.70" r="2.35" fill="#ff0000"/>
<circle cx="135.70" cy="168.00" r="2.35" fill="#ff0000"/>
<circle cx="134.00" cy="169.20" r="2.35" fill="#ff0000"/>
<circle cx="131.70" cy="170.00" r="2.35" fill="#ff0000"/>
<circle cx="130.50" cy="170.60" r="2.35" fill="#ff0000"/>
<circle cx="112.60" cy="176.10" r="2.35" fill="#ff0000"/>
<circle cx="122.70" cy="176.10" r="2.35" fill="#ff0000"/>
<circle cx="134.00" cy="174.00" r="2.35" fill="#ff0000"/>
<circle cx="135.40" cy="175.00" r="2.35" fill="#ff0000"/>
<circle cx="140.30" cy="172.90" r="2.35" fill="#ff0000"/>
<circle cx="143.80" cy="174.60" r="2.35" fill="#ff0000"/>
<line x1="135.10" y1="147.50" x2="151.90" y2="138.80" stroke="#000" stroke-width="1.7"/>
<rect x="150.7" y="85.8" width="160.6" height="60.5" rx="9.5" fill="#f4f47a" stroke="#7f7f7f" stroke-width="1"/>
<text x="156.96" y="104.20" font-size="20.0" fill="#000">AP-1 Family TFs</text>
<rect x="156.50" y="104.90" width="149.20" height="1.30" fill="#000"/>
<text x="156.05" y="123.30" font-size="15.9" fill="#000">JUND,  JUNB, FOS,</text>
<text x="155.00" y="142.30" font-size="15.9" fill="#000">BATF, FOSL1, FOSB</text>
<line x1="652.00" y1="101.20" x2="675.70" y2="94.90" stroke="#000" stroke-width="1.6"/>
<line x1="632.40" y1="112.80" x2="639.40" y2="117.30" stroke="#000" stroke-width="1.6"/>
<line x1="629.00" y1="124.70" x2="637.40" y2="122.90" stroke="#000" stroke-width="1.6"/>
<line x1="646.00" y1="132.50" x2="646.00" y2="137.50" stroke="#000" stroke-width="1.6"/>
<line x1="667.20" y1="134.00" x2="675.70" y2="128.90" stroke="#000" stroke-width="1.6"/>
<line x1="702.00" y1="143.00" x2="704.50" y2="141.00" stroke="#000" stroke-width="1.6"/>
<line x1="682.80" y1="150.60" x2="688.40" y2="153.60" stroke="#000" stroke-width="1.6"/>
<line x1="632.30" y1="180.00" x2="636.60" y2="177.30" stroke="#000" stroke-width="1.6"/>
<line x1="630.50" y1="195.80" x2="609.30" y2="208.50" stroke="#000" stroke-width="1.6"/>
<circle cx="652.00" cy="101.20" r="2.4" fill="#0000ff"/>
<circle cx="647.00" cy="115.80" r="2.4" fill="#0000ff"/>
<circle cx="639.40" cy="117.30" r="2.4" fill="#0000ff"/>
<circle cx="637.40" cy="122.90" r="2.4" fill="#0000ff"/>
<circle cx="646.00" cy="132.50" r="2.4" fill="#0000ff"/>
<circle cx="667.20" cy="134.00" r="2.4" fill="#0000ff"/>
<circle cx="702.00" cy="143.00" r="2.4" fill="#0000ff"/>
<circle cx="682.80" cy="150.60" r="2.4" fill="#0000ff"/>
<circle cx="636.60" cy="177.30" r="2.4" fill="#0000ff"/>
<circle cx="630.50" cy="195.80" r="2.4" fill="#0000ff"/>
<text x="677.45" y="100.70" font-size="16.5" fill="#000">KLF15</text>
<text x="648.75" y="113.80" font-size="16.5" fill="#000">SP4</text>
<text x="607.45" y="110.80" font-size="16.5" fill="#000">SP3</text>
<text x="595.25" y="131.40" font-size="16.5" fill="#000">SP9</text>
<text x="630.15" y="151.60" font-size="16.5" fill="#000">SP1</text>
<text x="659.75" y="126.90" font-size="16.5" fill="#000">KLF14</text>
<text x="682.95" y="138.50" font-size="16.5" fill="#000">NRF1</text>
<text x="675.93" y="168.30" font-size="16.5" fill="#000">TCFL5</text>
<text x="574.85" y="190.40" font-size="16.5" fill="#000">NR3C2</text>
<rect x="582.9" y="208.9" width="63.8" height="27.7" rx="13.85" fill="#f4f47a" stroke="#7f7f7f" stroke-width="1"/>
<text x="586.74" y="228.60" font-size="16.6" fill="#000">NR3C1</text>
<rect x="738.00" y="74.00" width="1.00" height="412.00" fill="#f4f4f4"/>
<text x="749.65" y="36.60" font-size="53" fill="#000">B</text>
<text x="869.12" y="63.20" font-size="27.2" fill="#000">697 AP-1 expression</text>
<text x="892.04" y="107.60" font-size="15.9" font-style="italic" fill="#000">JDP2</text>
<text x="943.91" y="107.60" font-size="15.9" font-style="italic" fill="#000">FOSB</text>
<text x="1004.51" y="107.60" font-size="15.9" font-style="italic" fill="#000">FOS</text>
<text x="1054.74" y="107.60" font-size="15.9" font-style="italic" fill="#000">JUND</text>
<rect x="897.00" y="116.20" width="12.40" height="216.30" fill="#2760ff"/>
<rect x="912.60" y="116.20" width="13.10" height="194.79" fill="#1f4e79"/>
<rect x="952.50" y="116.20" width="12.40" height="104.10" fill="#2760ff"/>
<rect x="969.20" y="116.20" width="12.10" height="231.34" fill="#1f4e79"/>
<rect x="1009.00" y="116.20" width="12.40" height="65.35" fill="#2760ff"/>
<rect x="1024.60" y="116.20" width="12.90" height="326.19" fill="#1f4e79"/>
<rect x="1064.70" y="116.20" width="12.10" height="60.84" fill="#2760ff"/>
<rect x="1081.10" y="116.20" width="11.80" height="29.84" fill="#1f4e79"/>
<rect x="888.40" y="403.80" width="24.40" height="23.90" fill="#344eff"/>
<rect x="888.40" y="434.00" width="24.40" height="23.80" fill="#2c528c"/>
<text x="918.91" y="421.25" font-size="15.5" fill="#000">6hr</text>
<text x="920.12" y="451.40" font-size="15.5" fill="#000">24hr</text>
<rect x="882.60" y="116.20" width="223.80" height="347.00" fill="none" stroke="#3a3a3a" stroke-width="1.3"/>
<line x1="877.10" y1="116.20" x2="882.60" y2="116.20" stroke="#3a3a3a" stroke-width="1.3"/>
<text x="857.19" y="122.70" font-size="18.4" fill="#000">0</text>
<line x1="877.10" y1="174.03" x2="882.60" y2="174.03" stroke="#3a3a3a" stroke-width="1.3"/>
<text x="835.77" y="180.53" font-size="18.4" fill="#000">-0.5</text>
<line x1="877.10" y1="231.87" x2="882.60" y2="231.87" stroke="#3a3a3a" stroke-width="1.3"/>
<text x="851.24" y="238.37" font-size="18.4" fill="#000">-1</text>
<line x1="877.10" y1="289.70" x2="882.60" y2="289.70" stroke="#3a3a3a" stroke-width="1.3"/>
<text x="835.77" y="296.20" font-size="18.4" fill="#000">-1.5</text>
<line x1="877.10" y1="347.54" x2="882.60" y2="347.54" stroke="#3a3a3a" stroke-width="1.3"/>
<text x="851.26" y="354.04" font-size="18.4" fill="#000">-2</text>
<line x1="877.10" y1="405.38" x2="882.60" y2="405.38" stroke="#3a3a3a" stroke-width="1.3"/>
<text x="835.77" y="411.88" font-size="18.4" fill="#000">-2.5</text>
<line x1="877.10" y1="463.21" x2="882.60" y2="463.21" stroke="#3a3a3a" stroke-width="1.3"/>
<text x="851.15" y="469.71" font-size="18.4" fill="#000">-3</text>
<g transform="translate(820.40,275.75) rotate(-90)">
<text x="-67.74" y="0" font-size="18">log<tspan font-size="11.5" dy="4">2</tspan><tspan dy="-4">(fold change)</tspan></text>
</g>
<text x="1200.97" y="62.60" font-size="27.2" fill="#000">Nalm6 AP-1 expression</text>
<text x="1226.01" y="109.80" font-size="15.9" font-style="italic" fill="#000">FOSB</text>
<text x="1279.14" y="109.80" font-size="15.9" font-style="italic" fill="#000">JUND</text>
<text x="1330.04" y="109.80" font-size="15.9" font-style="italic" fill="#000">JUNB</text>
<text x="1388.11" y="109.80" font-size="15.9" font-style="italic" fill="#000">FOS</text>
<text x="1439.04" y="109.80" font-size="15.9" font-style="italic" fill="#000">JUN</text>
<rect x="1223.20" y="116.60" width="12.10" height="167.98" fill="#ff0000"/>
<rect x="1239.00" y="116.60" width="12.00" height="203.65" fill="#c00000"/>
<rect x="1278.60" y="116.60" width="12.00" height="105.34" fill="#ff0000"/>
<rect x="1294.40" y="116.60" width="12.50" height="92.98" fill="#c00000"/>
<rect x="1333.80" y="116.60" width="12.20" height="108.43" fill="#ff0000"/>
<rect x="1349.50" y="116.60" width="12.50" height="161.52" fill="#c00000"/>
<rect x="1389.40" y="116.60" width="12.50" height="105.34" fill="#ff0000"/>
<rect x="1405.20" y="116.60" width="12.50" height="273.46" fill="#c00000"/>
<rect x="1444.50" y="116.60" width="12.50" height="70.93" fill="#ff0000"/>
<rect x="1460.30" y="116.60" width="12.10" height="175.98" fill="#c00000"/>
<rect x="1224.40" y="403.80" width="24.40" height="23.60" fill="#ff0000"/>
<rect x="1224.40" y="433.90" width="24.40" height="23.60" fill="#c00000"/>
<text x="1255.01" y="421.10" font-size="15.5" fill="#000">6hr</text>
<text x="1256.42" y="451.20" font-size="15.5" fill="#000">24hr</text>
<rect x="1209.50" y="116.60" width="276.80" height="351.10" fill="none" stroke="#3a3a3a" stroke-width="1.3"/>
<line x1="1204.00" y1="116.60" x2="1209.50" y2="116.60" stroke="#3a3a3a" stroke-width="1.3"/>
<text x="1184.35" y="122.85" font-size="17.7" fill="#000">0</text>
<line x1="1204.00" y1="186.82" x2="1209.50" y2="186.82" stroke="#3a3a3a" stroke-width="1.3"/>
<text x="1163.74" y="193.08" font-size="17.7" fill="#000">-0.5</text>
<line x1="1204.00" y1="257.05" x2="1209.50" y2="257.05" stroke="#3a3a3a" stroke-width="1.3"/>
<text x="1178.63" y="263.30" font-size="17.7" fill="#000">-1</text>
<line x1="1204.00" y1="327.27" x2="1209.50" y2="327.27" stroke="#3a3a3a" stroke-width="1.3"/>
<text x="1163.74" y="333.53" font-size="17.7" fill="#000">-1.5</text>
<line x1="1204.00" y1="397.50" x2="1209.50" y2="397.50" stroke="#3a3a3a" stroke-width="1.3"/>
<text x="1178.65" y="403.75" font-size="17.7" fill="#000">-2</text>
<line x1="1204.00" y1="467.73" x2="1209.50" y2="467.73" stroke="#3a3a3a" stroke-width="1.3"/>
<text x="1163.74" y="473.98" font-size="17.7" fill="#000">-2.5</text>
<g transform="translate(1154.30,275.65) rotate(-90)">
<text x="-67.74" y="0" font-size="18">log<tspan font-size="11.5" dy="4">2</tspan><tspan dy="-4">(fold change)</tspan></text>
</g>
<text x="-0.24" y="589.70" font-size="52" fill="#000">C</text>
<text x="433.54" y="608.20" font-size="22.7" fill="#000">chr14:75,700,022-75,752,255 (hg19)</text>
<line x1="138.40" y1="666.30" x2="138.40" y2="745.50" stroke="#000" stroke-width="1.4"/>
<line x1="131.30" y1="666.90" x2="138.40" y2="666.90" stroke="#000" stroke-width="1.4"/>
<text x="110.89" y="672.00" font-size="14.4" fill="#000">2.5</text>
<line x1="131.30" y1="682.90" x2="138.40" y2="682.90" stroke="#000" stroke-width="1.4"/>
<text x="110.84" y="688.00" font-size="14.4" fill="#000">2.0</text>
<line x1="131.30" y1="698.30" x2="138.40" y2="698.30" stroke="#000" stroke-width="1.4"/>
<text x="110.89" y="703.40" font-size="14.4" fill="#000">1.5</text>
<line x1="131.30" y1="714.10" x2="138.40" y2="714.10" stroke="#000" stroke-width="1.4"/>
<text x="122.99" y="719.20" font-size="14.4" fill="#000">1</text>
<line x1="131.30" y1="729.70" x2="138.40" y2="729.70" stroke="#000" stroke-width="1.4"/>
<text x="110.89" y="734.80" font-size="14.4" fill="#000">0.5</text>
<line x1="131.30" y1="745.50" x2="138.40" y2="745.50" stroke="#000" stroke-width="1.4"/>
<text x="122.85" y="754.50" font-size="14.4" fill="#000">0</text>
<g transform="translate(96.5,706.45) rotate(-90)">
<text x="-95.09" y="0.00" font-size="19.3" font-weight="bold" fill="#000">log10(contact count)</text>
</g>
<text x="970.55" y="668.50" font-size="19.2" font-weight="bold" fill="#000">-log10(q-value)</text>
<defs><linearGradient id="qg" x1="0" x2="1" y1="0" y2="0"><stop offset="0" stop-color="#000000"/><stop offset="0.1" stop-color="#000040"/><stop offset="0.25" stop-color="#0000ff"/><stop offset="0.45" stop-color="#4a00f0"/><stop offset="0.6" stop-color="#9000a0"/><stop offset="0.74" stop-color="#f00010"/><stop offset="1" stop-color="#ffa000"/></linearGradient></defs>
<rect x="984.7" y="677.7" width="106.8" height="11.8" fill="url(#qg)" stroke="#000" stroke-width="1.4"/>
<line x1="984.70" y1="689.50" x2="984.70" y2="694.60" stroke="#000" stroke-width="1.4"/>
<g transform="translate(989.80,697.0) rotate(-90)">
<text x="-15.35" y="0.00" font-size="14.3" fill="#000">10</text>
</g>
<line x1="1011.40" y1="689.50" x2="1011.40" y2="694.60" stroke="#000" stroke-width="1.4"/>
<g transform="translate(1016.50,697.0) rotate(-90)">
<text x="-27.23" y="0.00" font-size="14.3" fill="#000">72.5</text>
</g>
<line x1="1038.10" y1="689.50" x2="1038.10" y2="694.60" stroke="#000" stroke-width="1.4"/>
<g transform="translate(1043.20,697.0) rotate(-90)">
<text x="-23.26" y="0.00" font-size="14.3" fill="#000">145</text>
</g>
<line x1="1064.80" y1="689.50" x2="1064.80" y2="694.60" stroke="#000" stroke-width="1.4"/>
<g transform="translate(1069.90,697.0) rotate(-90)">
<text x="-35.18" y="0.00" font-size="14.3" fill="#000">217.5</text>
</g>
<line x1="1091.50" y1="689.50" x2="1091.50" y2="694.60" stroke="#000" stroke-width="1.4"/>
<g transform="translate(1096.60,697.0) rotate(-90)">
<text x="-23.30" y="0.00" font-size="14.3" fill="#000">300</text>
</g>
<path d="M215.6 745.0 Q379.9 664.0 544.3 745.0" fill="none" stroke="#1414ff" stroke-width="2.0"/>
<path d="M215.6 745.0 Q379.9 660.0 544.3 745.0" fill="none" stroke="#1010ff" stroke-width="2.0"/>
<path d="M215.6 745.0 Q544.5 664.4 873.5 745.0" fill="none" stroke="#1a12ff" stroke-width="1.5"/>
<path d="M215.6 745.0 Q544.5 674.6 873.5 745.0" fill="none" stroke="#2010f5" stroke-width="1.5"/>
<path d="M380.3 745.0 Q626.9 653.8 873.5 745.0" fill="none" stroke="#2a10f0" stroke-width="1.5"/>
<path d="M380.3 745.0 Q626.9 667.6 873.5 745.0" fill="none" stroke="#1a12ff" stroke-width="1.5"/>
<path d="M437.3 745.0 Q602.1 654.6 767.0 745.0" fill="none" stroke="#5a10d0" stroke-width="1.6"/>
<path d="M437.3 745.0 Q602.1 645.2 767.0 745.0" fill="none" stroke="#7a10b0" stroke-width="1.6"/>
<path d="M215.6 745.0 Q379.9 639.8 544.3 745.0" fill="none" stroke="#a2106a" stroke-width="1.5"/>
<path d="M215.6 745.0 Q297.9 609.0 380.3 745.0" fill="none" stroke="#4a10e0" stroke-width="1.5"/>
<path d="M215.6 745.0 Q297.9 606.0 380.3 745.0" fill="none" stroke="#6a12c0" stroke-width="1.6"/>
<path d="M215.6 745.0 Q297.9 600.6 380.3 745.0" fill="none" stroke="#a0136e" stroke-width="1.6"/>
<path d="M215.6 745.0 Q297.9 589.8 380.3 745.0" fill="none" stroke="#ff7000" stroke-width="1.7"/>
<path d="M380.3 745.0 Q462.3 613.4 544.3 745.0" fill="none" stroke="#2a10f0" stroke-width="1.5"/>
<path d="M380.3 745.0 Q462.3 611.0 544.3 745.0" fill="none" stroke="#3a10e8" stroke-width="1.5"/>
<path d="M380.3 745.0 Q462.3 608.2 544.3 745.0" fill="none" stroke="#5a10d0" stroke-width="1.5"/>
<path d="M380.3 745.0 Q462.3 603.4 544.3 745.0" fill="none" stroke="#9a1080" stroke-width="1.6"/>
<path d="M380.3 745.0 Q462.3 589.8 544.3 745.0" fill="none" stroke="#ffa000" stroke-width="1.7"/>
<rect x="146.50" y="748.00" width="858.00" height="288.50" fill="#f8f8f8"/>
<rect x="1004.50" y="749.50" width="109.50" height="255.00" fill="#f8f8f8"/>
<path d="M146.5 778.50L146.5 778.32L148.0 778.32L148.0 778.19L149.5 778.19L149.5 778.19L151.0 778.19L151.0 778.21L152.5 778.21L152.5 778.31L154.0 778.31L154.0 778.38L155.5 778.38L155.5 778.38L157.0 778.38L157.0 778.37L158.5 778.37L158.5 778.20L160.0 778.20L160.0 778.32L161.5 778.32L161.5 778.40L163.0 778.40L163.0 778.49L164.5 778.49L164.5 778.39L166.0 778.39L166.0 778.30L167.5 778.30L167.5 778.31L169.0 778.31L169.0 778.27L170.5 778.27L170.5 778.18L172.0 778.18L172.0 777.92L173.5 777.92L173.5 778.08L175.0 778.08L175.0 778.34L176.5 778.34L176.5 778.46L178.0 778.46L178.0 778.47L179.5 778.47L179.5 778.48L181.0 778.48L181.0 778.46L182.5 778.46L182.5 778.49L184.0 778.49L184.0 778.49L185.5 778.49L185.5 778.46L187.0 778.46L187.0 778.44L188.5 778.44L188.5 778.26L190.0 778.26L190.0 778.24L191.5 778.24L191.5 778.17L193.0 778.17L193.0 778.28L194.5 778.28L194.5 778.22L196.0 778.22L196.0 778.23L197.5 778.23L197.5 778.17L199.0 778.17L199.0 777.85L200.5 777.85L200.5 777.25L202.0 777.25L202.0 776.36L203.5 776.36L203.5 775.64L205.0 775.64L205.0 774.68L206.5 774.68L206.5 772.98L208.0 772.98L208.0 770.22L209.5 770.22L209.5 766.22L211.0 766.22L211.0 760.98L212.5 760.98L212.5 755.04L214.0 755.04L214.0 753.50L215.5 753.50L215.5 753.50L217.0 753.50L217.0 753.50L218.5 753.50L218.5 753.50L220.0 753.50L220.0 755.58L221.5 755.58L221.5 760.09L223.0 760.09L223.0 766.22L224.5 766.22L224.5 774.79L226.0 774.79L226.0 776.09L227.5 776.09L227.5 775.89L229.0 775.89L229.0 775.82L230.5 775.82L230.5 776.02L232.0 776.02L232.0 776.24L233.5 776.24L233.5 776.46L235.0 776.46L235.0 776.68L236.5 776.68L236.5 776.71L238.0 776.71L238.0 776.66L239.5 776.66L239.5 776.75L241.0 776.75L241.0 777.29L242.5 777.29L242.5 777.91L244.0 777.91L244.0 778.28L245.5 778.28L245.5 778.42L247.0 778.42L247.0 778.42L248.5 778.42L248.5 778.42L250.0 778.42L250.0 778.32L251.5 778.32L251.5 778.40L253.0 778.40L253.0 778.39L254.5 778.39L254.5 778.36L256.0 778.36L256.0 778.42L257.5 778.42L257.5 778.32L259.0 778.32L259.0 778.44L260.5 778.44L260.5 778.40L262.0 778.40L262.0 778.46L263.5 778.46L263.5 778.44L265.0 778.44L265.0 778.34L266.5 778.34L266.5 778.16L268.0 778.16L268.0 778.14L269.5 778.14L269.5 778.17L271.0 778.17L271.0 778.35L272.5 778.35L272.5 778.33L274.0 778.33L274.0 778.34L275.5 778.34L275.5 778.21L277.0 778.21L277.0 778.30L278.5 778.30L278.5 778.26L280.0 778.26L280.0 778.37L281.5 778.37L281.5 778.34L283.0 778.34L283.0 778.38L284.5 778.38L284.5 778.36L286.0 778.36L286.0 778.35L287.5 778.35L287.5 778.47L289.0 778.47L289.0 778.49L290.5 778.49L290.5 778.46L292.0 778.46L292.0 778.44L293.5 778.44L293.5 778.34L295.0 778.34L295.0 778.39L296.5 778.39L296.5 778.34L298.0 778.34L298.0 778.25L299.5 778.25L299.5 778.21L301.0 778.21L301.0 778.17L302.5 778.17L302.5 778.20L304.0 778.20L304.0 778.29L305.5 778.29L305.5 778.39L307.0 778.39L307.0 778.38L308.5 778.38L308.5 778.21L310.0 778.21L310.0 778.18L311.5 778.18L311.5 778.38L313.0 778.38L313.0 778.40L314.5 778.40L314.5 778.22L316.0 778.22L316.0 778.22L317.5 778.22L317.5 778.14L319.0 778.14L319.0 778.16L320.5 778.16L320.5 777.99L322.0 777.99L322.0 778.20L323.5 778.20L323.5 778.41L325.0 778.41L325.0 778.48L326.5 778.48L326.5 778.41L328.0 778.41L328.0 778.39L329.5 778.39L329.5 778.21L331.0 778.21L331.0 778.39L332.5 778.39L332.5 778.24L334.0 778.24L334.0 778.28L335.5 778.28L335.5 778.27L337.0 778.27L337.0 778.42L338.5 778.42L338.5 778.40L340.0 778.40L340.0 778.43L341.5 778.43L341.5 778.43L343.0 778.43L343.0 778.45L344.5 778.45L344.5 778.29L346.0 778.29L346.0 778.16L347.5 778.16L347.5 778.26L349.0 778.26L349.0 778.24L350.5 778.24L350.5 778.35L352.0 778.35L352.0 778.41L353.5 778.41L353.5 778.49L355.0 778.49L355.0 778.46L356.5 778.46L356.5 778.46L358.0 778.46L358.0 778.47L359.5 778.47L359.5 778.48L361.0 778.48L361.0 778.40L362.5 778.40L362.5 778.39L364.0 778.39L364.0 778.30L365.5 778.30L365.5 777.99L367.0 777.99L367.0 777.13L368.5 777.13L368.5 775.91L370.0 775.91L370.0 774.40L371.5 774.40L371.5 772.77L373.0 772.77L373.0 771.60L374.5 771.60L374.5 771.37L376.0 771.37L376.0 771.67L377.5 771.67L377.5 770.81L379.0 770.81L379.0 766.49L380.5 766.49L380.5 758.42L382.0 758.42L382.0 753.50L383.5 753.50L383.5 753.50L385.0 753.50L385.0 761.97L386.5 761.97L386.5 771.58L388.0 771.58L388.0 776.26L389.5 776.26L389.5 776.52L391.0 776.52L391.0 775.68L392.5 775.68L392.5 775.38L394.0 775.38L394.0 776.54L395.5 776.54L395.5 777.44L397.0 777.44L397.0 777.81L398.5 777.81L398.5 777.67L400.0 777.67L400.0 776.97L401.5 776.97L401.5 775.56L403.0 775.56L403.0 774.37L404.5 774.37L404.5 773.87L406.0 773.87L406.0 773.91L407.5 773.91L407.5 772.60L409.0 772.60L409.0 768.79L410.5 768.79L410.5 762.14L412.0 762.14L412.0 755.07L413.5 755.07L413.5 753.50L415.0 753.50L415.0 753.50L416.5 753.50L416.5 757.62L418.0 757.62L418.0 763.28L419.5 763.28L419.5 767.51L421.0 767.51L421.0 770.51L422.5 770.51L422.5 773.17L424.0 773.17L424.0 775.53L425.5 775.53L425.5 776.90L427.0 776.90L427.0 777.62L428.5 777.62L428.5 778.12L430.0 778.12L430.0 778.22L431.5 778.22L431.5 778.27L433.0 778.27L433.0 778.25L434.5 778.25L434.5 778.22L436.0 778.22L436.0 778.36L437.5 778.36L437.5 778.28L439.0 778.28L439.0 778.45L440.5 778.45L440.5 778.35L442.0 778.35L442.0 778.41L443.5 778.41L443.5 778.37L445.0 778.37L445.0 778.35L446.5 778.35L446.5 778.34L448.0 778.34L448.0 778.24L449.5 778.24L449.5 778.16L451.0 778.16L451.0 778.24L452.5 778.24L452.5 778.40L454.0 778.40L454.0 778.48L455.5 778.48L455.5 778.43L457.0 778.43L457.0 778.40L458.5 778.40L458.5 778.42L460.0 778.42L460.0 778.38L461.5 778.38L461.5 778.26L463.0 778.26L463.0 778.17L464.5 778.17L464.5 778.17L466.0 778.17L466.0 778.28L467.5 778.28L467.5 778.21L469.0 778.21L469.0 778.40L470.5 778.40L470.5 778.37L472.0 778.37L472.0 778.34L473.5 778.34L473.5 778.12L475.0 778.12L475.0 777.92L476.5 777.92L476.5 778.10L478.0 778.10L478.0 778.22L479.5 778.22L479.5 778.38L481.0 778.38L481.0 778.42L482.5 778.42L482.5 778.44L484.0 778.44L484.0 778.33L485.5 778.33L485.5 778.10L487.0 778.10L487.0 778.01L488.5 778.01L488.5 777.96L490.0 777.96L490.0 778.19L491.5 778.19L491.5 778.35L493.0 778.35L493.0 778.44L494.5 778.44L494.5 778.44L496.0 778.44L496.0 778.44L497.5 778.44L497.5 778.44L499.0 778.44L499.0 778.38L500.5 778.38L500.5 778.32L502.0 778.32L502.0 778.34L503.5 778.34L503.5 778.29L505.0 778.29L505.0 778.12L506.5 778.12L506.5 778.07L508.0 778.07L508.0 778.32L509.5 778.32L509.5 778.48L511.0 778.48L511.0 778.43L512.5 778.43L512.5 778.44L514.0 778.44L514.0 778.29L515.5 778.29L515.5 778.37L517.0 778.37L517.0 778.30L518.5 778.30L518.5 778.28L520.0 778.28L520.0 778.41L521.5 778.41L521.5 778.44L523.0 778.44L523.0 778.48L524.5 778.48L524.5 778.48L526.0 778.48L526.0 778.37L527.5 778.37L527.5 778.41L529.0 778.41L529.0 778.39L530.5 778.39L530.5 778.49L532.0 778.49L532.0 778.45L533.5 778.45L533.5 778.41L535.0 778.41L535.0 778.27L536.5 778.27L536.5 778.26L538.0 778.26L538.0 778.14L539.5 778.14L539.5 778.00L541.0 778.00L541.0 777.98L542.5 777.98L542.5 778.20L544.0 778.20L544.0 778.22L545.5 778.22L545.5 777.95L547.0 777.95L547.0 777.25L548.5 777.25L548.5 776.38L550.0 776.38L550.0 775.89L551.5 775.89L551.5 776.27L553.0 776.27L553.0 777.18L554.5 777.18L554.5 777.96L556.0 777.96L556.0 778.23L557.5 778.23L557.5 778.28L559.0 778.28L559.0 778.20L560.5 778.20L560.5 778.13L562.0 778.13L562.0 777.99L563.5 777.99L563.5 777.52L565.0 777.52L565.0 776.68L566.5 776.68L566.5 775.64L568.0 775.64L568.0 774.32L569.5 774.32L569.5 773.46L571.0 773.46L571.0 773.30L572.5 773.30L572.5 774.12L574.0 774.12L574.0 775.36L575.5 775.36L575.5 776.37L577.0 776.37L577.0 777.31L578.5 777.31L578.5 777.86L580.0 777.86L580.0 778.11L581.5 778.11L581.5 778.04L583.0 778.04L583.0 777.90L584.5 777.90L584.5 778.09L586.0 778.09L586.0 778.15L587.5 778.15L587.5 778.37L589.0 778.37L589.0 778.31L590.5 778.31L590.5 778.26L592.0 778.26L592.0 778.10L593.5 778.10L593.5 778.10L595.0 778.10L595.0 778.31L596.5 778.31L596.5 778.23L598.0 778.23L598.0 778.14L599.5 778.14L599.5 777.78L601.0 777.78L601.0 777.97L602.5 777.97L602.5 778.05L604.0 778.05L604.0 778.29L605.5 778.29L605.5 778.16L607.0 778.16L607.0 778.14L608.5 778.14L608.5 778.13L610.0 778.13L610.0 778.38L611.5 778.38L611.5 778.44L613.0 778.44L613.0 778.36L614.5 778.36L614.5 777.75L616.0 777.75L616.0 776.64L617.5 776.64L617.5 776.48L619.0 776.48L619.0 777.55L620.5 777.55L620.5 778.31L622.0 778.31L622.0 778.27L623.5 778.27L623.5 778.42L625.0 778.42L625.0 778.37L626.5 778.37L626.5 778.37L628.0 778.37L628.0 778.38L629.5 778.38L629.5 778.42L631.0 778.42L631.0 778.46L632.5 778.46L632.5 778.35L634.0 778.35L634.0 778.14L635.5 778.14L635.5 778.07L637.0 778.07L637.0 777.98L638.5 777.98L638.5 778.12L640.0 778.12L640.0 778.02L641.5 778.02L641.5 778.32L643.0 778.32L643.0 778.38L644.5 778.38L644.5 778.45L646.0 778.45L646.0 778.42L647.5 778.42L647.5 778.31L649.0 778.31L649.0 778.28L650.5 778.28L650.5 778.21L652.0 778.21L652.0 778.17L653.5 778.17L653.5 778.20L655.0 778.20L655.0 778.27L656.5 778.27L656.5 778.38L658.0 778.38L658.0 778.32L659.5 778.32L659.5 778.12L661.0 778.12L661.0 778.19L662.5 778.19L662.5 778.19L664.0 778.19L664.0 778.16L665.5 778.16L665.5 778.04L667.0 778.04L667.0 778.15L668.5 778.15L668.5 778.37L670.0 778.37L670.0 778.37L671.5 778.37L671.5 778.39L673.0 778.39L673.0 778.29L674.5 778.29L674.5 778.41L676.0 778.41L676.0 778.30L677.5 778.30L677.5 778.32L679.0 778.32L679.0 778.21L680.5 778.21L680.5 778.27L682.0 778.27L682.0 778.25L683.5 778.25L683.5 778.22L685.0 778.22L685.0 778.26L686.5 778.26L686.5 778.38L688.0 778.38L688.0 778.37L689.5 778.37L689.5 778.43L691.0 778.43L691.0 778.20L692.5 778.20L692.5 778.06L694.0 778.06L694.0 778.12L695.5 778.12L695.5 778.28L697.0 778.28L697.0 778.45L698.5 778.45L698.5 778.42L700.0 778.42L700.0 778.36L701.5 778.36L701.5 778.12L703.0 778.12L703.0 778.10L704.5 778.10L704.5 778.27L706.0 778.27L706.0 778.43L707.5 778.43L707.5 778.41L709.0 778.41L709.0 778.26L710.5 778.26L710.5 778.28L712.0 778.28L712.0 778.23L713.5 778.23L713.5 778.44L715.0 778.44L715.0 778.43L716.5 778.43L716.5 778.49L718.0 778.49L718.0 778.41L719.5 778.41L719.5 778.39L721.0 778.39L721.0 778.36L722.5 778.36L722.5 778.37L724.0 778.37L724.0 778.42L725.5 778.42L725.5 778.34L727.0 778.34L727.0 778.43L728.5 778.43L728.5 778.36L730.0 778.36L730.0 778.45L731.5 778.45L731.5 778.43L733.0 778.43L733.0 778.43L734.5 778.43L734.5 778.40L736.0 778.40L736.0 778.36L737.5 778.36L737.5 778.39L739.0 778.39L739.0 778.37L740.5 778.37L740.5 778.41L742.0 778.41L742.0 778.44L743.5 778.44L743.5 778.43L745.0 778.43L745.0 778.33L746.5 778.33L746.5 778.24L748.0 778.24L748.0 778.17L749.5 778.17L749.5 778.17L751.0 778.17L751.0 778.05L752.5 778.05L752.5 778.27L754.0 778.27L754.0 778.23L755.5 778.23L755.5 778.25L757.0 778.25L757.0 777.99L758.5 777.99L758.5 778.16L760.0 778.16L760.0 778.32L761.5 778.32L761.5 778.31L763.0 778.31L763.0 778.34L764.5 778.34L764.5 778.12L766.0 778.12L766.0 778.13L767.5 778.13L767.5 778.16L769.0 778.16L769.0 778.38L770.5 778.38L770.5 778.41L772.0 778.41L772.0 778.39L773.5 778.39L773.5 778.41L775.0 778.41L775.0 778.40L776.5 778.40L776.5 778.36L778.0 778.36L778.0 778.16L779.5 778.16L779.5 778.36L781.0 778.36L781.0 778.37L782.5 778.37L782.5 778.39L784.0 778.39L784.0 778.41L785.5 778.41L785.5 778.44L787.0 778.44L787.0 778.44L788.5 778.44L788.5 778.24L790.0 778.24L790.0 777.93L791.5 777.93L791.5 778.17L793.0 778.17L793.0 778.30L794.5 778.30L794.5 778.36L796.0 778.36L796.0 778.25L797.5 778.25L797.5 778.19L799.0 778.19L799.0 778.36L800.5 778.36L800.5 778.44L802.0 778.44L802.0 778.49L803.5 778.49L803.5 778.50L805.0 778.50L805.0 778.47L806.5 778.47L806.5 778.41L808.0 778.41L808.0 778.29L809.5 778.29L809.5 778.39L811.0 778.39L811.0 778.44L812.5 778.44L812.5 778.48L814.0 778.48L814.0 778.39L815.5 778.39L815.5 778.16L817.0 778.16L817.0 777.84L818.5 777.84L818.5 778.17L820.0 778.17L820.0 778.41L821.5 778.41L821.5 778.40L823.0 778.40L823.0 778.28L824.5 778.28L824.5 777.93L826.0 777.93L826.0 777.86L827.5 777.86L827.5 777.40L829.0 777.40L829.0 776.93L830.5 776.93L830.5 776.57L832.0 776.57L832.0 776.61L833.5 776.61L833.5 777.15L835.0 777.15L835.0 777.63L836.5 777.63L836.5 777.98L838.0 777.98L838.0 778.14L839.5 778.14L839.5 778.30L841.0 778.30L841.0 778.35L842.5 778.35L842.5 778.30L844.0 778.30L844.0 778.36L845.5 778.36L845.5 778.46L847.0 778.46L847.0 778.45L848.5 778.45L848.5 778.47L850.0 778.47L850.0 778.35L851.5 778.35L851.5 778.27L853.0 778.27L853.0 778.01L854.5 778.01L854.5 778.02L856.0 778.02L856.0 778.10L857.5 778.10L857.5 778.21L859.0 778.21L859.0 778.26L860.5 778.26L860.5 778.15L862.0 778.15L862.0 777.40L863.5 777.40L863.5 775.80L865.0 775.80L865.0 773.34L866.5 773.34L866.5 770.97L868.0 770.97L868.0 770.58L869.5 770.58L869.5 772.14L871.0 772.14L871.0 774.44L872.5 774.44L872.5 775.87L874.0 775.87L874.0 776.08L875.5 776.08L875.5 775.86L877.0 775.86L877.0 775.52L878.5 775.52L878.5 775.54L880.0 775.54L880.0 775.73L881.5 775.73L881.5 775.97L883.0 775.97L883.0 775.47L884.5 775.47L884.5 773.51L886.0 773.51L886.0 769.40L887.5 769.40L887.5 765.37L889.0 765.37L889.0 764.63L890.5 764.63L890.5 767.28L892.0 767.28L892.0 769.00L893.5 769.00L893.5 767.22L895.0 767.22L895.0 766.30L896.5 766.30L896.5 769.38L898.0 769.38L898.0 773.28L899.5 773.28L899.5 774.83L901.0 774.83L901.0 775.19L902.5 775.19L902.5 775.65L904.0 775.65L904.0 776.43L905.5 776.43L905.5 777.35L907.0 777.35L907.0 777.79L908.5 777.79L908.5 778.03L910.0 778.03L910.0 778.00L911.5 778.00L911.5 778.13L913.0 778.13L913.0 777.99L914.5 777.99L914.5 778.25L916.0 778.25L916.0 778.29L917.5 778.29L917.5 778.36L919.0 778.36L919.0 778.30L920.5 778.30L920.5 778.35L922.0 778.35L922.0 778.47L923.5 778.47L923.5 778.47L925.0 778.47L925.0 778.47L926.5 778.47L926.5 778.47L928.0 778.47L928.0 778.46L929.5 778.46L929.5 778.38L931.0 778.38L931.0 778.27L932.5 778.27L932.5 778.19L934.0 778.19L934.0 778.16L935.5 778.16L935.5 778.16L937.0 778.16L937.0 777.95L938.5 777.95L938.5 778.10L940.0 778.10L940.0 777.99L941.5 777.99L941.5 778.32L943.0 778.32L943.0 778.33L944.5 778.33L944.5 778.34L946.0 778.34L946.0 778.35L947.5 778.35L947.5 778.26L949.0 778.26L949.0 778.41L950.5 778.41L950.5 778.31L952.0 778.31L952.0 778.46L953.5 778.46L953.5 778.41L955.0 778.41L955.0 778.38L956.5 778.38L956.5 778.40L958.0 778.40L958.0 778.30L959.5 778.30L959.5 778.34L961.0 778.34L961.0 778.21L962.5 778.21L962.5 778.31L964.0 778.31L964.0 778.33L965.5 778.33L965.5 778.38L967.0 778.38L967.0 778.37L968.5 778.37L968.5 778.33L970.0 778.33L970.0 778.33L971.5 778.33L971.5 778.31L973.0 778.31L973.0 778.37L974.5 778.37L974.5 778.42L976.0 778.42L976.0 778.48L977.5 778.48L977.5 778.49L979.0 778.49L979.0 778.49L980.5 778.49L980.5 778.44L982.0 778.44L982.0 778.37L983.5 778.37L983.5 778.16L985.0 778.16L985.0 778.16L986.5 778.16L986.5 778.27L988.0 778.27L988.0 778.24L989.5 778.24L989.5 778.18L991.0 778.18L991.0 778.17L992.5 778.17L992.5 778.20L994.0 778.20L994.0 778.35L995.5 778.35L995.5 778.24L997.0 778.24L997.0 778.21L998.5 778.21L998.5 778.27L1000.0 778.27L1000.0 778.26L1001.5 778.26L1001.5 778.27L1003.0 778.27L1003.0 778.10L1004.4 778.10L1004.4 778.50Z" fill="#00cdf6"/>
<rect x="146.50" y="777.80" width="857.90" height="1.50" fill="#3fc6e0"/>
<text x="148.4" y="755.10" font-size="6.6" fill="#333" textLength="19" lengthAdjust="spacingAndGlyphs">[0 - 200]</text>
<path d="M146.5 810.65L146.5 810.48L148.0 810.48L148.0 810.46L149.5 810.46L149.5 810.53L151.0 810.53L151.0 810.62L152.5 810.62L152.5 810.64L154.0 810.64L154.0 810.63L155.5 810.63L155.5 810.53L157.0 810.53L157.0 810.46L158.5 810.46L158.5 810.38L160.0 810.38L160.0 810.44L161.5 810.44L161.5 810.45L163.0 810.45L163.0 810.54L164.5 810.54L164.5 810.56L166.0 810.56L166.0 810.62L167.5 810.62L167.5 810.52L169.0 810.52L169.0 810.58L170.5 810.58L170.5 810.46L172.0 810.46L172.0 810.60L173.5 810.60L173.5 810.50L175.0 810.50L175.0 810.58L176.5 810.58L176.5 810.53L178.0 810.53L178.0 810.50L179.5 810.50L179.5 810.56L181.0 810.56L181.0 810.61L182.5 810.61L182.5 810.60L184.0 810.60L184.0 810.52L185.5 810.52L185.5 810.52L187.0 810.52L187.0 810.50L188.5 810.50L188.5 810.40L190.0 810.40L190.0 810.39L191.5 810.39L191.5 810.52L193.0 810.52L193.0 810.63L194.5 810.63L194.5 810.61L196.0 810.61L196.0 810.59L197.5 810.59L197.5 810.58L199.0 810.58L199.0 810.52L200.5 810.52L200.5 810.61L202.0 810.61L202.0 810.60L203.5 810.60L203.5 810.58L205.0 810.58L205.0 810.46L206.5 810.46L206.5 810.14L208.0 810.14L208.0 809.29L209.5 809.29L209.5 807.06L211.0 807.06L211.0 803.01L212.5 803.01L212.5 797.90L214.0 797.90L214.0 793.85L215.5 793.85L215.5 793.12L217.0 793.12L217.0 794.42L218.5 794.42L218.5 797.33L220.0 797.33L220.0 800.94L221.5 800.94L221.5 804.29L223.0 804.29L223.0 806.82L224.5 806.82L224.5 808.49L226.0 808.49L226.0 809.57L227.5 809.57L227.5 810.18L229.0 810.18L229.0 810.47L230.5 810.47L230.5 810.53L232.0 810.53L232.0 810.46L233.5 810.46L233.5 810.44L235.0 810.44L235.0 810.55L236.5 810.55L236.5 810.55L238.0 810.55L238.0 810.56L239.5 810.56L239.5 810.46L241.0 810.46L241.0 810.57L242.5 810.57L242.5 810.57L244.0 810.57L244.0 810.59L245.5 810.59L245.5 810.50L247.0 810.50L247.0 810.56L248.5 810.56L248.5 810.53L250.0 810.53L250.0 810.61L251.5 810.61L251.5 810.53L253.0 810.53L253.0 810.61L254.5 810.61L254.5 810.60L256.0 810.60L256.0 810.63L257.5 810.63L257.5 810.56L259.0 810.56L259.0 810.59L260.5 810.59L260.5 810.58L262.0 810.58L262.0 810.62L263.5 810.62L263.5 810.60L265.0 810.60L265.0 810.60L266.5 810.60L266.5 810.47L268.0 810.47L268.0 810.43L269.5 810.43L269.5 810.28L271.0 810.28L271.0 810.50L272.5 810.50L272.5 810.39L274.0 810.39L274.0 810.53L275.5 810.53L275.5 810.52L277.0 810.52L277.0 810.55L278.5 810.55L278.5 810.44L280.0 810.44L280.0 810.49L281.5 810.49L281.5 810.57L283.0 810.57L283.0 810.59L284.5 810.59L284.5 810.54L286.0 810.54L286.0 810.55L287.5 810.55L287.5 810.63L289.0 810.63L289.0 810.65L290.5 810.65L290.5 810.63L292.0 810.63L292.0 810.49L293.5 810.49L293.5 810.21L295.0 810.21L295.0 810.25L296.5 810.25L296.5 810.51L298.0 810.51L298.0 810.61L299.5 810.61L299.5 810.58L301.0 810.58L301.0 810.42L302.5 810.42L302.5 810.33L304.0 810.33L304.0 810.48L305.5 810.48L305.5 810.54L307.0 810.54L307.0 810.56L308.5 810.56L308.5 810.49L310.0 810.49L310.0 810.54L311.5 810.54L311.5 810.45L313.0 810.45L313.0 810.38L314.5 810.38L314.5 810.40L316.0 810.40L316.0 810.55L317.5 810.55L317.5 810.55L319.0 810.55L319.0 810.53L320.5 810.53L320.5 810.38L322.0 810.38L322.0 810.47L323.5 810.47L323.5 810.36L325.0 810.36L325.0 810.43L326.5 810.43L326.5 810.50L328.0 810.50L328.0 810.57L329.5 810.57L329.5 810.62L331.0 810.62L331.0 810.57L332.5 810.57L332.5 810.49L334.0 810.49L334.0 810.52L335.5 810.52L335.5 810.48L337.0 810.48L337.0 810.53L338.5 810.53L338.5 810.51L340.0 810.51L340.0 810.58L341.5 810.58L341.5 810.49L343.0 810.49L343.0 810.41L344.5 810.41L344.5 810.36L346.0 810.36L346.0 810.37L347.5 810.37L347.5 810.25L349.0 810.25L349.0 810.20L350.5 810.20L350.5 810.36L352.0 810.36L352.0 810.46L353.5 810.46L353.5 810.43L355.0 810.43L355.0 810.32L356.5 810.32L356.5 810.32L358.0 810.32L358.0 810.47L359.5 810.47L359.5 810.55L361.0 810.55L361.0 810.52L362.5 810.52L362.5 810.46L364.0 810.46L364.0 810.48L365.5 810.48L365.5 810.32L367.0 810.32L367.0 809.88L368.5 809.88L368.5 808.97L370.0 808.97L370.0 807.87L371.5 807.87L371.5 806.72L373.0 806.72L373.0 805.97L374.5 805.97L374.5 805.79L376.0 805.79L376.0 806.16L377.5 806.16L377.5 805.95L379.0 805.95L379.0 803.84L380.5 803.84L380.5 799.68L382.0 799.68L382.0 795.86L383.5 795.86L383.5 795.84L385.0 795.84L385.0 799.84L386.5 799.84L386.5 804.99L388.0 804.99L388.0 808.53L389.5 808.53L389.5 810.02L391.0 810.02L391.0 810.44L392.5 810.44L392.5 810.48L394.0 810.48L394.0 810.55L395.5 810.55L395.5 810.59L397.0 810.59L397.0 810.60L398.5 810.60L398.5 810.54L400.0 810.54L400.0 810.58L401.5 810.58L401.5 810.60L403.0 810.60L403.0 810.63L404.5 810.63L404.5 810.50L406.0 810.50L406.0 810.02L407.5 810.02L407.5 808.59L409.0 808.59L409.0 805.06L410.5 805.06L410.5 799.09L412.0 799.09L412.0 792.55L413.5 792.55L413.5 789.61L415.0 789.61L415.0 791.79L416.5 791.79L416.5 797.05L418.0 797.05L418.0 802.74L419.5 802.74L419.5 806.95L421.0 806.95L421.0 809.22L422.5 809.22L422.5 810.20L424.0 810.20L424.0 810.42L425.5 810.42L425.5 810.54L427.0 810.54L427.0 810.55L428.5 810.55L428.5 810.63L430.0 810.63L430.0 810.61L431.5 810.61L431.5 810.61L433.0 810.61L433.0 810.61L434.5 810.61L434.5 810.51L436.0 810.51L436.0 810.49L437.5 810.49L437.5 810.37L439.0 810.37L439.0 810.54L440.5 810.54L440.5 810.55L442.0 810.55L442.0 810.57L443.5 810.57L443.5 810.43L445.0 810.43L445.0 810.48L446.5 810.48L446.5 810.51L448.0 810.51L448.0 810.51L449.5 810.51L449.5 810.36L451.0 810.36L451.0 810.43L452.5 810.43L452.5 810.50L454.0 810.50L454.0 810.51L455.5 810.51L455.5 810.48L457.0 810.48L457.0 810.45L458.5 810.45L458.5 810.47L460.0 810.47L460.0 810.31L461.5 810.31L461.5 810.35L463.0 810.35L463.0 810.34L464.5 810.34L464.5 810.50L466.0 810.50L466.0 810.46L467.5 810.46L467.5 810.54L469.0 810.54L469.0 810.51L470.5 810.51L470.5 810.57L472.0 810.57L472.0 810.57L473.5 810.57L473.5 810.62L475.0 810.62L475.0 810.63L476.5 810.63L476.5 810.61L478.0 810.61L478.0 810.59L479.5 810.59L479.5 810.61L481.0 810.61L481.0 810.58L482.5 810.58L482.5 810.58L484.0 810.58L484.0 810.40L485.5 810.40L485.5 810.45L487.0 810.45L487.0 810.42L488.5 810.42L488.5 810.44L490.0 810.44L490.0 810.36L491.5 810.36L491.5 810.38L493.0 810.38L493.0 810.55L494.5 810.55L494.5 810.59L496.0 810.59L496.0 810.50L497.5 810.50L497.5 810.38L499.0 810.38L499.0 810.34L500.5 810.34L500.5 810.45L502.0 810.45L502.0 810.45L503.5 810.45L503.5 810.56L505.0 810.56L505.0 810.56L506.5 810.56L506.5 810.59L508.0 810.59L508.0 810.57L509.5 810.57L509.5 810.58L511.0 810.58L511.0 810.50L512.5 810.50L512.5 810.54L514.0 810.54L514.0 810.57L515.5 810.57L515.5 810.63L517.0 810.63L517.0 810.53L518.5 810.53L518.5 810.47L520.0 810.47L520.0 810.51L521.5 810.51L521.5 810.54L523.0 810.54L523.0 810.46L524.5 810.46L524.5 810.24L526.0 810.24L526.0 810.39L527.5 810.39L527.5 810.43L529.0 810.43L529.0 810.54L530.5 810.54L530.5 810.57L532.0 810.57L532.0 810.55L533.5 810.55L533.5 810.45L535.0 810.45L535.0 810.43L536.5 810.43L536.5 810.42L538.0 810.42L538.0 810.58L539.5 810.58L539.5 810.56L541.0 810.56L541.0 810.62L542.5 810.62L542.5 810.54L544.0 810.54L544.0 810.40L545.5 810.40L545.5 810.08L547.0 810.08L547.0 809.77L548.5 809.77L548.5 809.58L550.0 809.58L550.0 809.68L551.5 809.68L551.5 809.92L553.0 809.92L553.0 810.13L554.5 810.13L554.5 810.27L556.0 810.27L556.0 810.44L557.5 810.44L557.5 810.51L559.0 810.51L559.0 810.51L560.5 810.51L560.5 810.39L562.0 810.39L562.0 810.28L563.5 810.28L563.5 809.98L565.0 809.98L565.0 809.44L566.5 809.44L566.5 808.82L568.0 808.82L568.0 808.16L569.5 808.16L569.5 807.70L571.0 807.70L571.0 807.47L572.5 807.47L572.5 807.73L574.0 807.73L574.0 808.27L575.5 808.27L575.5 808.96L577.0 808.96L577.0 809.52L578.5 809.52L578.5 810.00L580.0 810.00L580.0 810.19L581.5 810.19L581.5 810.38L583.0 810.38L583.0 810.29L584.5 810.29L584.5 810.38L586.0 810.38L586.0 810.24L587.5 810.24L587.5 810.31L589.0 810.31L589.0 810.39L590.5 810.39L590.5 810.52L592.0 810.52L592.0 810.53L593.5 810.53L593.5 810.46L595.0 810.46L595.0 810.35L596.5 810.35L596.5 810.47L598.0 810.47L598.0 810.59L599.5 810.59L599.5 810.65L601.0 810.65L601.0 810.65L602.5 810.65L602.5 810.65L604.0 810.65L604.0 810.65L605.5 810.65L605.5 810.65L607.0 810.65L607.0 810.64L608.5 810.64L608.5 810.59L610.0 810.59L610.0 810.54L611.5 810.54L611.5 810.33L613.0 810.33L613.0 810.23L614.5 810.23L614.5 810.18L616.0 810.18L616.0 810.19L617.5 810.19L617.5 810.47L619.0 810.47L619.0 810.57L620.5 810.57L620.5 810.57L622.0 810.57L622.0 810.49L623.5 810.49L623.5 810.50L625.0 810.50L625.0 810.53L626.5 810.53L626.5 810.54L628.0 810.54L628.0 810.47L629.5 810.47L629.5 810.56L631.0 810.56L631.0 810.58L632.5 810.58L632.5 810.63L634.0 810.63L634.0 810.60L635.5 810.60L635.5 810.49L637.0 810.49L637.0 810.23L638.5 810.23L638.5 810.17L640.0 810.17L640.0 810.18L641.5 810.18L641.5 810.39L643.0 810.39L643.0 810.50L644.5 810.50L644.5 810.50L646.0 810.50L646.0 810.45L647.5 810.45L647.5 810.35L649.0 810.35L649.0 810.56L650.5 810.56L650.5 810.61L652.0 810.61L652.0 810.62L653.5 810.62L653.5 810.53L655.0 810.53L655.0 810.39L656.5 810.39L656.5 810.31L658.0 810.31L658.0 810.42L659.5 810.42L659.5 810.52L661.0 810.52L661.0 810.50L662.5 810.50L662.5 810.34L664.0 810.34L664.0 810.30L665.5 810.30L665.5 810.48L667.0 810.48L667.0 810.55L668.5 810.55L668.5 810.55L670.0 810.55L670.0 810.52L671.5 810.52L671.5 810.58L673.0 810.58L673.0 810.60L674.5 810.60L674.5 810.57L676.0 810.57L676.0 810.58L677.5 810.58L677.5 810.56L679.0 810.56L679.0 810.50L680.5 810.50L680.5 810.34L682.0 810.34L682.0 810.42L683.5 810.42L683.5 810.54L685.0 810.54L685.0 810.62L686.5 810.62L686.5 810.56L688.0 810.56L688.0 810.52L689.5 810.52L689.5 810.51L691.0 810.51L691.0 810.55L692.5 810.55L692.5 810.55L694.0 810.55L694.0 810.47L695.5 810.47L695.5 810.51L697.0 810.51L697.0 810.56L698.5 810.56L698.5 810.59L700.0 810.59L700.0 810.49L701.5 810.49L701.5 810.48L703.0 810.48L703.0 810.45L704.5 810.45L704.5 810.56L706.0 810.56L706.0 810.58L707.5 810.58L707.5 810.59L709.0 810.59L709.0 810.62L710.5 810.62L710.5 810.60L712.0 810.60L712.0 810.61L713.5 810.61L713.5 810.59L715.0 810.59L715.0 810.49L716.5 810.49L716.5 810.50L718.0 810.50L718.0 810.51L719.5 810.51L719.5 810.56L721.0 810.56L721.0 810.54L722.5 810.54L722.5 810.51L724.0 810.51L724.0 810.51L725.5 810.51L725.5 810.56L727.0 810.56L727.0 810.54L728.5 810.54L728.5 810.61L730.0 810.61L730.0 810.59L731.5 810.59L731.5 810.58L733.0 810.58L733.0 810.39L734.5 810.39L734.5 810.26L736.0 810.26L736.0 810.45L737.5 810.45L737.5 810.56L739.0 810.56L739.0 810.61L740.5 810.61L740.5 810.51L742.0 810.51L742.0 810.55L743.5 810.55L743.5 810.56L745.0 810.56L745.0 810.59L746.5 810.59L746.5 810.52L748.0 810.52L748.0 810.44L749.5 810.44L749.5 810.48L751.0 810.48L751.0 810.40L752.5 810.40L752.5 810.43L754.0 810.43L754.0 810.30L755.5 810.30L755.5 810.46L757.0 810.46L757.0 810.46L758.5 810.46L758.5 810.57L760.0 810.57L760.0 810.51L761.5 810.51L761.5 810.45L763.0 810.45L763.0 810.48L764.5 810.48L764.5 810.52L766.0 810.52L766.0 810.52L767.5 810.52L767.5 810.47L769.0 810.47L769.0 810.43L770.5 810.43L770.5 810.46L772.0 810.46L772.0 810.41L773.5 810.41L773.5 810.48L775.0 810.48L775.0 810.54L776.5 810.54L776.5 810.63L778.0 810.63L778.0 810.57L779.5 810.57L779.5 810.48L781.0 810.48L781.0 810.38L782.5 810.38L782.5 810.36L784.0 810.36L784.0 810.33L785.5 810.33L785.5 810.40L787.0 810.40L787.0 810.43L788.5 810.43L788.5 810.54L790.0 810.54L790.0 810.51L791.5 810.51L791.5 810.60L793.0 810.60L793.0 810.60L794.5 810.60L794.5 810.62L796.0 810.62L796.0 810.64L797.5 810.64L797.5 810.65L799.0 810.65L799.0 810.64L800.5 810.64L800.5 810.63L802.0 810.63L802.0 810.63L803.5 810.63L803.5 810.58L805.0 810.58L805.0 810.55L806.5 810.55L806.5 810.48L808.0 810.48L808.0 810.52L809.5 810.52L809.5 810.40L811.0 810.40L811.0 810.48L812.5 810.48L812.5 810.55L814.0 810.55L814.0 810.56L815.5 810.56L815.5 810.40L817.0 810.40L817.0 810.17L818.5 810.17L818.5 810.29L820.0 810.29L820.0 810.45L821.5 810.45L821.5 810.59L823.0 810.59L823.0 810.53L824.5 810.53L824.5 810.44L826.0 810.44L826.0 810.34L827.5 810.34L827.5 810.37L829.0 810.37L829.0 810.50L830.5 810.50L830.5 810.50L832.0 810.50L832.0 810.48L833.5 810.48L833.5 810.51L835.0 810.51L835.0 810.49L836.5 810.49L836.5 810.61L838.0 810.61L838.0 810.49L839.5 810.49L839.5 810.44L841.0 810.44L841.0 810.30L842.5 810.30L842.5 810.41L844.0 810.41L844.0 810.56L845.5 810.56L845.5 810.55L847.0 810.55L847.0 810.50L848.5 810.50L848.5 810.36L850.0 810.36L850.0 810.28L851.5 810.28L851.5 810.00L853.0 810.00L853.0 809.70L854.5 809.70L854.5 809.26L856.0 809.26L856.0 808.91L857.5 808.91L857.5 808.43L859.0 808.43L859.0 808.11L860.5 808.11L860.5 807.97L862.0 807.97L862.0 807.88L863.5 807.88L863.5 807.95L865.0 807.95L865.0 807.99L866.5 807.99L866.5 808.34L868.0 808.34L868.0 808.40L869.5 808.40L869.5 808.54L871.0 808.54L871.0 808.39L872.5 808.39L872.5 808.26L874.0 808.26L874.0 808.26L875.5 808.26L875.5 808.31L877.0 808.31L877.0 808.46L878.5 808.46L878.5 808.59L880.0 808.59L880.0 808.90L881.5 808.90L881.5 809.23L883.0 809.23L883.0 809.28L884.5 809.28L884.5 808.21L886.0 808.21L886.0 805.62L887.5 805.62L887.5 802.62L889.0 802.62L889.0 802.13L890.5 802.13L890.5 804.45L892.0 804.45L892.0 806.12L893.5 806.12L893.5 805.09L895.0 805.09L895.0 803.97L896.5 803.97L896.5 805.66L898.0 805.66L898.0 808.36L899.5 808.36L899.5 810.09L901.0 810.09L901.0 810.41L902.5 810.41L902.5 810.49L904.0 810.49L904.0 810.48L905.5 810.48L905.5 810.51L907.0 810.51L907.0 810.44L908.5 810.44L908.5 810.19L910.0 810.19L910.0 810.39L911.5 810.39L911.5 810.50L913.0 810.50L913.0 810.56L914.5 810.56L914.5 810.55L916.0 810.55L916.0 810.52L917.5 810.52L917.5 810.51L919.0 810.51L919.0 810.40L920.5 810.40L920.5 810.32L922.0 810.32L922.0 810.31L923.5 810.31L923.5 810.44L925.0 810.44L925.0 810.46L926.5 810.46L926.5 810.52L928.0 810.52L928.0 810.54L929.5 810.54L929.5 810.63L931.0 810.63L931.0 810.62L932.5 810.62L932.5 810.60L934.0 810.60L934.0 810.59L935.5 810.59L935.5 810.60L937.0 810.60L937.0 810.60L938.5 810.60L938.5 810.57L940.0 810.57L940.0 810.55L941.5 810.55L941.5 810.53L943.0 810.53L943.0 810.49L944.5 810.49L944.5 810.39L946.0 810.39L946.0 810.28L947.5 810.28L947.5 810.35L949.0 810.35L949.0 810.38L950.5 810.38L950.5 810.52L952.0 810.52L952.0 810.37L953.5 810.37L953.5 810.55L955.0 810.55L955.0 810.55L956.5 810.55L956.5 810.55L958.0 810.55L958.0 810.43L959.5 810.43L959.5 810.32L961.0 810.32L961.0 810.51L962.5 810.51L962.5 810.59L964.0 810.59L964.0 810.56L965.5 810.56L965.5 810.58L967.0 810.58L967.0 810.57L968.5 810.57L968.5 810.63L970.0 810.63L970.0 810.53L971.5 810.53L971.5 810.42L973.0 810.42L973.0 810.25L974.5 810.25L974.5 810.26L976.0 810.26L976.0 810.34L977.5 810.34L977.5 810.37L979.0 810.37L979.0 810.49L980.5 810.49L980.5 810.56L982.0 810.56L982.0 810.55L983.5 810.55L983.5 810.43L985.0 810.43L985.0 810.25L986.5 810.25L986.5 810.40L988.0 810.40L988.0 810.55L989.5 810.55L989.5 810.61L991.0 810.61L991.0 810.64L992.5 810.64L992.5 810.64L994.0 810.64L994.0 810.63L995.5 810.63L995.5 810.53L997.0 810.53L997.0 810.31L998.5 810.31L998.5 810.30L1000.0 810.30L1000.0 810.37L1001.5 810.37L1001.5 810.49L1003.0 810.49L1003.0 810.48L1004.4 810.48L1004.4 810.65Z" fill="#2ac8f2"/>
<rect x="146.50" y="809.95" width="857.90" height="1.50" fill="#3fc6e0"/>
<text x="148.4" y="787.25" font-size="6.6" fill="#333" textLength="19" lengthAdjust="spacingAndGlyphs">[0 - 200]</text>
<path d="M146.5 842.80L146.5 841.08L148.0 841.08L148.0 840.30L149.5 840.30L149.5 838.75L151.0 838.75L151.0 839.91L152.5 839.91L152.5 840.99L154.0 840.99L154.0 842.06L155.5 842.06L155.5 842.37L157.0 842.37L157.0 842.13L158.5 842.13L158.5 842.20L160.0 842.20L160.0 841.78L161.5 841.78L161.5 842.26L163.0 842.26L163.0 841.88L164.5 841.88L164.5 841.63L166.0 841.63L166.0 840.39L167.5 840.39L167.5 839.37L169.0 839.37L169.0 839.84L170.5 839.84L170.5 840.46L172.0 840.46L172.0 840.96L173.5 840.96L173.5 840.65L175.0 840.65L175.0 840.20L176.5 840.20L176.5 838.96L178.0 838.96L178.0 839.35L179.5 839.35L179.5 839.68L181.0 839.68L181.0 839.35L182.5 839.35L182.5 839.47L184.0 839.47L184.0 840.75L185.5 840.75L185.5 840.97L187.0 840.97L187.0 841.56L188.5 841.56L188.5 840.54L190.0 840.54L190.0 841.16L191.5 841.16L191.5 841.27L193.0 841.27L193.0 841.93L194.5 841.93L194.5 842.10L196.0 842.10L196.0 842.24L197.5 842.24L197.5 842.48L199.0 842.48L199.0 842.07L200.5 842.07L200.5 841.30L202.0 841.30L202.0 839.13L203.5 839.13L203.5 839.49L205.0 839.49L205.0 840.03L206.5 840.03L206.5 840.16L208.0 840.16L208.0 839.93L209.5 839.93L209.5 836.79L211.0 836.79L211.0 831.89L212.5 831.89L212.5 824.35L214.0 824.35L214.0 817.80L215.5 817.80L215.5 817.80L217.0 817.80L217.0 817.80L218.5 817.80L218.5 818.52L220.0 818.52L220.0 825.80L221.5 825.80L221.5 832.44L223.0 832.44L223.0 837.68L224.5 837.68L224.5 840.49L226.0 840.49L226.0 841.85L227.5 841.85L227.5 842.21L229.0 842.21L229.0 842.57L230.5 842.57L230.5 842.52L232.0 842.52L232.0 842.63L233.5 842.63L233.5 842.26L235.0 842.26L235.0 841.41L236.5 841.41L236.5 840.76L238.0 840.76L238.0 840.61L239.5 840.61L239.5 840.66L241.0 840.66L241.0 841.38L242.5 841.38L242.5 842.23L244.0 842.23L244.0 842.36L245.5 842.36L245.5 841.20L247.0 841.20L247.0 840.06L248.5 840.06L248.5 841.48L250.0 841.48L250.0 842.12L251.5 842.12L251.5 841.80L253.0 841.80L253.0 840.35L254.5 840.35L254.5 839.28L256.0 839.28L256.0 840.99L257.5 840.99L257.5 841.05L259.0 841.05L259.0 841.82L260.5 841.82L260.5 840.87L262.0 840.87L262.0 842.10L263.5 842.10L263.5 841.13L265.0 841.13L265.0 841.34L266.5 841.34L266.5 840.02L268.0 840.02L268.0 841.65L269.5 841.65L269.5 841.63L271.0 841.63L271.0 841.85L272.5 841.85L272.5 841.20L274.0 841.20L274.0 841.66L275.5 841.66L275.5 841.41L277.0 841.41L277.0 841.82L278.5 841.82L278.5 841.92L280.0 841.92L280.0 842.53L281.5 842.53L281.5 842.20L283.0 842.20L283.0 842.39L284.5 842.39L284.5 842.33L286.0 842.33L286.0 842.74L287.5 842.74L287.5 842.41L289.0 842.41L289.0 842.05L290.5 842.05L290.5 841.29L292.0 841.29L292.0 842.21L293.5 842.21L293.5 842.33L295.0 842.33L295.0 842.51L296.5 842.51L296.5 842.47L298.0 842.47L298.0 842.73L299.5 842.73L299.5 842.26L301.0 842.26L301.0 842.23L302.5 842.23L302.5 841.83L304.0 841.83L304.0 842.60L305.5 842.60L305.5 842.17L307.0 842.17L307.0 842.41L308.5 842.41L308.5 842.20L310.0 842.20L310.0 842.43L311.5 842.43L311.5 841.42L313.0 841.42L313.0 842.13L314.5 842.13L314.5 842.16L316.0 842.16L316.0 842.50L317.5 842.50L317.5 841.17L319.0 841.17L319.0 840.79L320.5 840.79L320.5 840.84L322.0 840.84L322.0 841.44L323.5 841.44L323.5 841.80L325.0 841.80L325.0 842.36L326.5 842.36L326.5 842.50L328.0 842.50L328.0 841.80L329.5 841.80L329.5 840.40L331.0 840.40L331.0 840.95L332.5 840.95L332.5 841.40L334.0 841.40L334.0 841.19L335.5 841.19L335.5 841.19L337.0 841.19L337.0 841.37L338.5 841.37L338.5 842.13L340.0 842.13L340.0 842.15L341.5 842.15L341.5 842.46L343.0 842.46L343.0 842.57L344.5 842.57L344.5 842.49L346.0 842.49L346.0 842.65L347.5 842.65L347.5 842.52L349.0 842.52L349.0 842.64L350.5 842.64L350.5 841.93L352.0 841.93L352.0 841.46L353.5 841.46L353.5 841.25L355.0 841.25L355.0 840.75L356.5 840.75L356.5 840.68L358.0 840.68L358.0 839.59L359.5 839.59L359.5 839.62L361.0 839.62L361.0 839.49L362.5 839.49L362.5 840.11L364.0 840.11L364.0 840.78L365.5 840.78L365.5 841.51L367.0 841.51L367.0 841.27L368.5 841.27L368.5 841.92L370.0 841.92L370.0 840.78L371.5 840.78L371.5 841.00L373.0 841.00L373.0 838.74L374.5 838.74L374.5 836.24L376.0 836.24L376.0 834.02L377.5 834.02L377.5 833.46L379.0 833.46L379.0 832.86L380.5 832.86L380.5 830.79L382.0 830.79L382.0 829.57L383.5 829.57L383.5 830.72L385.0 830.72L385.0 834.14L386.5 834.14L386.5 836.26L388.0 836.26L388.0 838.91L389.5 838.91L389.5 839.88L391.0 839.88L391.0 841.39L392.5 841.39L392.5 840.54L394.0 840.54L394.0 841.22L395.5 841.22L395.5 841.60L397.0 841.60L397.0 842.61L398.5 842.61L398.5 842.75L400.0 842.75L400.0 842.23L401.5 842.23L401.5 842.05L403.0 842.05L403.0 841.70L404.5 841.70L404.5 842.29L406.0 842.29L406.0 841.96L407.5 841.96L407.5 841.26L409.0 841.26L409.0 840.97L410.5 840.97L410.5 837.63L412.0 837.63L412.0 826.02L413.5 826.02L413.5 817.80L415.0 817.80L415.0 827.40L416.5 827.40L416.5 834.79L418.0 834.79L418.0 837.45L419.5 837.45L419.5 838.17L421.0 838.17L421.0 839.65L422.5 839.65L422.5 839.61L424.0 839.61L424.0 839.32L425.5 839.32L425.5 840.83L427.0 840.83L427.0 842.10L428.5 842.10L428.5 842.51L430.0 842.51L430.0 841.73L431.5 841.73L431.5 841.01L433.0 841.01L433.0 841.47L434.5 841.47L434.5 841.18L436.0 841.18L436.0 841.62L437.5 841.62L437.5 841.94L439.0 841.94L439.0 842.73L440.5 842.73L440.5 842.79L442.0 842.79L442.0 842.52L443.5 842.52L443.5 842.48L445.0 842.48L445.0 841.63L446.5 841.63L446.5 841.39L448.0 841.39L448.0 839.21L449.5 839.21L449.5 838.91L451.0 838.91L451.0 840.19L452.5 840.19L452.5 841.06L454.0 841.06L454.0 841.01L455.5 841.01L455.5 840.34L457.0 840.34L457.0 841.10L458.5 841.10L458.5 841.24L460.0 841.24L460.0 842.18L461.5 842.18L461.5 842.16L463.0 842.16L463.0 841.84L464.5 841.84L464.5 841.22L466.0 841.22L466.0 841.30L467.5 841.30L467.5 841.67L469.0 841.67L469.0 841.71L470.5 841.71L470.5 842.09L472.0 842.09L472.0 842.71L473.5 842.71L473.5 842.77L475.0 842.77L475.0 842.64L476.5 842.64L476.5 841.67L478.0 841.67L478.0 841.69L479.5 841.69L479.5 840.67L481.0 840.67L481.0 840.86L482.5 840.86L482.5 840.47L484.0 840.47L484.0 840.11L485.5 840.11L485.5 840.34L487.0 840.34L487.0 840.17L488.5 840.17L488.5 841.70L490.0 841.70L490.0 842.13L491.5 842.13L491.5 841.50L493.0 841.50L493.0 840.97L494.5 840.97L494.5 841.49L496.0 841.49L496.0 842.24L497.5 842.24L497.5 842.31L499.0 842.31L499.0 842.31L500.5 842.31L500.5 842.08L502.0 842.08L502.0 842.53L503.5 842.53L503.5 841.82L505.0 841.82L505.0 842.32L506.5 842.32L506.5 842.25L508.0 842.25L508.0 842.47L509.5 842.47L509.5 842.35L511.0 842.35L511.0 841.21L512.5 841.21L512.5 841.39L514.0 841.39L514.0 840.96L515.5 840.96L515.5 841.07L517.0 841.07L517.0 841.60L518.5 841.60L518.5 841.19L520.0 841.19L520.0 841.53L521.5 841.53L521.5 841.13L523.0 841.13L523.0 840.67L524.5 840.67L524.5 841.85L526.0 841.85L526.0 841.09L527.5 841.09L527.5 842.33L529.0 842.33L529.0 841.08L530.5 841.08L530.5 842.21L532.0 842.21L532.0 842.31L533.5 842.31L533.5 842.59L535.0 842.59L535.0 841.74L536.5 841.74L536.5 841.40L538.0 841.40L538.0 841.42L539.5 841.42L539.5 841.93L541.0 841.93L541.0 841.95L542.5 841.95L542.5 841.89L544.0 841.89L544.0 842.54L545.5 842.54L545.5 842.36L547.0 842.36L547.0 842.11L548.5 842.11L548.5 841.63L550.0 841.63L550.0 841.98L551.5 841.98L551.5 842.65L553.0 842.65L553.0 842.38L554.5 842.38L554.5 842.16L556.0 842.16L556.0 840.66L557.5 840.66L557.5 840.56L559.0 840.56L559.0 841.26L560.5 841.26L560.5 841.22L562.0 841.22L562.0 840.66L563.5 840.66L563.5 838.03L565.0 838.03L565.0 836.13L566.5 836.13L566.5 831.87L568.0 831.87L568.0 823.77L569.5 823.77L569.5 817.80L571.0 817.80L571.0 817.80L572.5 817.80L572.5 817.80L574.0 817.80L574.0 817.80L575.5 817.80L575.5 820.86L577.0 820.86L577.0 826.97L578.5 826.97L578.5 832.10L580.0 832.10L580.0 835.63L581.5 835.63L581.5 837.91L583.0 837.91L583.0 838.76L584.5 838.76L584.5 839.59L586.0 839.59L586.0 839.68L587.5 839.68L587.5 840.38L589.0 840.38L589.0 840.47L590.5 840.47L590.5 841.34L592.0 841.34L592.0 840.99L593.5 840.99L593.5 841.73L595.0 841.73L595.0 840.93L596.5 840.93L596.5 841.19L598.0 841.19L598.0 839.93L599.5 839.93L599.5 841.30L601.0 841.30L601.0 840.83L602.5 840.83L602.5 840.92L604.0 840.92L604.0 840.10L605.5 840.10L605.5 840.81L607.0 840.81L607.0 842.21L608.5 842.21L608.5 842.42L610.0 842.42L610.0 842.38L611.5 842.38L611.5 841.35L613.0 841.35L613.0 840.72L614.5 840.72L614.5 839.20L616.0 839.20L616.0 840.23L617.5 840.23L617.5 841.09L619.0 841.09L619.0 841.83L620.5 841.83L620.5 841.32L622.0 841.32L622.0 841.87L623.5 841.87L623.5 842.31L625.0 842.31L625.0 842.73L626.5 842.73L626.5 842.61L628.0 842.61L628.0 842.55L629.5 842.55L629.5 841.56L631.0 841.56L631.0 841.75L632.5 841.75L632.5 840.50L634.0 840.50L634.0 841.81L635.5 841.81L635.5 841.82L637.0 841.82L637.0 841.75L638.5 841.75L638.5 842.05L640.0 842.05L640.0 842.16L641.5 842.16L641.5 842.76L643.0 842.76L643.0 842.77L644.5 842.77L644.5 842.66L646.0 842.66L646.0 842.62L647.5 842.62L647.5 842.56L649.0 842.56L649.0 842.74L650.5 842.74L650.5 842.47L652.0 842.47L652.0 842.55L653.5 842.55L653.5 842.37L655.0 842.37L655.0 842.49L656.5 842.49L656.5 841.40L658.0 841.40L658.0 840.50L659.5 840.50L659.5 840.14L661.0 840.14L661.0 840.59L662.5 840.59L662.5 840.26L664.0 840.26L664.0 839.88L665.5 839.88L665.5 841.16L667.0 841.16L667.0 842.29L668.5 842.29L668.5 842.50L670.0 842.50L670.0 842.14L671.5 842.14L671.5 841.44L673.0 841.44L673.0 841.13L674.5 841.13L674.5 841.75L676.0 841.75L676.0 841.44L677.5 841.44L677.5 842.00L679.0 842.00L679.0 841.62L680.5 841.62L680.5 842.26L682.0 842.26L682.0 842.40L683.5 842.40L683.5 842.24L685.0 842.24L685.0 841.84L686.5 841.84L686.5 840.66L688.0 840.66L688.0 841.29L689.5 841.29L689.5 840.96L691.0 840.96L691.0 842.26L692.5 842.26L692.5 841.77L694.0 841.77L694.0 842.44L695.5 842.44L695.5 841.42L697.0 841.42L697.0 840.79L698.5 840.79L698.5 840.57L700.0 840.57L700.0 840.69L701.5 840.69L701.5 842.03L703.0 842.03L703.0 841.96L704.5 841.96L704.5 842.64L706.0 842.64L706.0 842.49L707.5 842.49L707.5 842.63L709.0 842.63L709.0 842.07L710.5 842.07L710.5 841.89L712.0 841.89L712.0 841.37L713.5 841.37L713.5 841.36L715.0 841.36L715.0 841.92L716.5 841.92L716.5 842.04L718.0 842.04L718.0 842.42L719.5 842.42L719.5 842.60L721.0 842.60L721.0 842.07L722.5 842.07L722.5 842.38L724.0 842.38L724.0 842.28L725.5 842.28L725.5 842.37L727.0 842.37L727.0 841.33L728.5 841.33L728.5 840.60L730.0 840.60L730.0 841.39L731.5 841.39L731.5 842.35L733.0 842.35L733.0 842.67L734.5 842.67L734.5 842.62L736.0 842.62L736.0 842.55L737.5 842.55L737.5 842.43L739.0 842.43L739.0 842.01L740.5 842.01L740.5 842.28L742.0 842.28L742.0 842.02L743.5 842.02L743.5 842.21L745.0 842.21L745.0 841.05L746.5 841.05L746.5 841.54L748.0 841.54L748.0 841.55L749.5 841.55L749.5 841.85L751.0 841.85L751.0 840.89L752.5 840.89L752.5 840.43L754.0 840.43L754.0 839.82L755.5 839.82L755.5 839.90L757.0 839.90L757.0 840.35L758.5 840.35L758.5 841.05L760.0 841.05L760.0 841.15L761.5 841.15L761.5 841.05L763.0 841.05L763.0 840.78L764.5 840.78L764.5 841.15L766.0 841.15L766.0 842.34L767.5 842.34L767.5 842.15L769.0 842.15L769.0 842.19L770.5 842.19L770.5 841.62L772.0 841.62L772.0 842.30L773.5 842.30L773.5 842.04L775.0 842.04L775.0 842.08L776.5 842.08L776.5 841.19L778.0 841.19L778.0 841.12L779.5 841.12L779.5 840.78L781.0 840.78L781.0 840.89L782.5 840.89L782.5 841.21L784.0 841.21L784.0 841.25L785.5 841.25L785.5 841.32L787.0 841.32L787.0 840.73L788.5 840.73L788.5 840.23L790.0 840.23L790.0 839.86L791.5 839.86L791.5 840.29L793.0 840.29L793.0 840.74L794.5 840.74L794.5 842.00L796.0 842.00L796.0 842.37L797.5 842.37L797.5 842.48L799.0 842.48L799.0 842.16L800.5 842.16L800.5 841.11L802.0 841.11L802.0 841.80L803.5 841.80L803.5 842.02L805.0 842.02L805.0 842.21L806.5 842.21L806.5 841.63L808.0 841.63L808.0 840.64L809.5 840.64L809.5 841.76L811.0 841.76L811.0 841.22L812.5 841.22L812.5 841.92L814.0 841.92L814.0 841.23L815.5 841.23L815.5 842.30L817.0 842.30L817.0 842.33L818.5 842.33L818.5 842.06L820.0 842.06L820.0 840.88L821.5 840.88L821.5 840.51L823.0 840.51L823.0 841.33L824.5 841.33L824.5 842.33L826.0 842.33L826.0 842.18L827.5 842.18L827.5 842.15L829.0 842.15L829.0 841.03L830.5 841.03L830.5 841.21L832.0 841.21L832.0 841.30L833.5 841.30L833.5 840.99L835.0 840.99L835.0 841.85L836.5 841.85L836.5 840.83L838.0 840.83L838.0 842.16L839.5 842.16L839.5 840.72L841.0 840.72L841.0 841.47L842.5 841.47L842.5 840.74L844.0 840.74L844.0 840.82L845.5 840.82L845.5 840.98L847.0 840.98L847.0 840.85L848.5 840.85L848.5 842.27L850.0 842.27L850.0 841.91L851.5 841.91L851.5 841.72L853.0 841.72L853.0 841.41L854.5 841.41L854.5 842.35L856.0 842.35L856.0 842.52L857.5 842.52L857.5 841.71L859.0 841.71L859.0 840.10L860.5 840.10L860.5 839.86L862.0 839.86L862.0 841.25L863.5 841.25L863.5 838.98L865.0 838.98L865.0 831.30L866.5 831.30L866.5 818.36L868.0 818.36L868.0 817.80L869.5 817.80L869.5 821.73L871.0 821.73L871.0 831.00L872.5 831.00L872.5 834.26L874.0 834.26L874.0 835.49L875.5 835.49L875.5 835.65L877.0 835.65L877.0 836.08L878.5 836.08L878.5 836.96L880.0 836.96L880.0 836.73L881.5 836.73L881.5 836.30L883.0 836.30L883.0 834.26L884.5 834.26L884.5 830.75L886.0 830.75L886.0 824.76L887.5 824.76L887.5 818.37L889.0 818.37L889.0 817.80L890.5 817.80L890.5 817.80L892.0 817.80L892.0 817.80L893.5 817.80L893.5 817.80L895.0 817.80L895.0 817.80L896.5 817.80L896.5 820.59L898.0 820.59L898.0 826.80L899.5 826.80L899.5 832.21L901.0 832.21L901.0 834.14L902.5 834.14L902.5 834.19L904.0 834.19L904.0 833.59L905.5 833.59L905.5 832.54L907.0 832.54L907.0 833.37L908.5 833.37L908.5 833.43L910.0 833.43L910.0 835.88L911.5 835.88L911.5 836.43L913.0 836.43L913.0 837.62L914.5 837.62L914.5 838.38L916.0 838.38L916.0 839.92L917.5 839.92L917.5 841.08L919.0 841.08L919.0 841.47L920.5 841.47L920.5 840.92L922.0 840.92L922.0 839.81L923.5 839.81L923.5 839.01L925.0 839.01L925.0 839.11L926.5 839.11L926.5 837.41L928.0 837.41L928.0 835.73L929.5 835.73L929.5 834.27L931.0 834.27L931.0 834.02L932.5 834.02L932.5 835.01L934.0 835.01L934.0 836.36L935.5 836.36L935.5 838.34L937.0 838.34L937.0 839.29L938.5 839.29L938.5 840.73L940.0 840.73L940.0 841.43L941.5 841.43L941.5 842.29L943.0 842.29L943.0 841.81L944.5 841.81L944.5 841.20L946.0 841.20L946.0 841.07L947.5 841.07L947.5 840.83L949.0 840.83L949.0 841.23L950.5 841.23L950.5 841.01L952.0 841.01L952.0 841.16L953.5 841.16L953.5 840.65L955.0 840.65L955.0 839.39L956.5 839.39L956.5 838.34L958.0 838.34L958.0 839.01L959.5 839.01L959.5 838.90L961.0 838.90L961.0 838.96L962.5 838.96L962.5 838.46L964.0 838.46L964.0 839.68L965.5 839.68L965.5 840.27L967.0 840.27L967.0 840.38L968.5 840.38L968.5 840.76L970.0 840.76L970.0 841.50L971.5 841.50L971.5 841.53L973.0 841.53L973.0 841.43L974.5 841.43L974.5 841.56L976.0 841.56L976.0 841.38L977.5 841.38L977.5 841.38L979.0 841.38L979.0 840.27L980.5 840.27L980.5 839.59L982.0 839.59L982.0 837.68L983.5 837.68L983.5 835.65L985.0 835.65L985.0 836.29L986.5 836.29L986.5 836.78L988.0 836.78L988.0 837.61L989.5 837.61L989.5 837.90L991.0 837.90L991.0 837.99L992.5 837.99L992.5 838.57L994.0 838.57L994.0 837.37L995.5 837.37L995.5 836.32L997.0 836.32L997.0 836.88L998.5 836.88L998.5 837.83L1000.0 837.83L1000.0 840.18L1001.5 840.18L1001.5 840.07L1003.0 840.07L1003.0 840.81L1004.4 840.81L1004.4 842.80Z" fill="#0b66ff"/>
<rect x="146.50" y="842.10" width="857.90" height="1.50" fill="#0b66ff"/>
<text x="148.4" y="819.40" font-size="6.6" fill="#333" textLength="19" lengthAdjust="spacingAndGlyphs">[0 - 150]</text>
<path d="M146.5 874.95L146.5 874.47L148.0 874.47L148.0 874.23L149.5 874.23L149.5 873.01L151.0 873.01L151.0 873.72L152.5 873.72L152.5 874.22L154.0 874.22L154.0 874.43L155.5 874.43L155.5 874.01L157.0 874.01L157.0 873.95L158.5 873.95L158.5 874.02L160.0 874.02L160.0 874.31L161.5 874.31L161.5 873.73L163.0 873.73L163.0 874.40L164.5 874.40L164.5 874.55L166.0 874.55L166.0 874.45L167.5 874.45L167.5 874.21L169.0 874.21L169.0 874.17L170.5 874.17L170.5 874.27L172.0 874.27L172.0 873.95L173.5 873.95L173.5 874.09L175.0 874.09L175.0 874.36L176.5 874.36L176.5 874.33L178.0 874.33L178.0 874.32L179.5 874.32L179.5 874.21L181.0 874.21L181.0 874.68L182.5 874.68L182.5 874.56L184.0 874.56L184.0 874.87L185.5 874.87L185.5 874.84L187.0 874.84L187.0 874.43L188.5 874.43L188.5 874.09L190.0 874.09L190.0 872.86L191.5 872.86L191.5 873.77L193.0 873.77L193.0 873.46L194.5 873.46L194.5 873.64L196.0 873.64L196.0 873.24L197.5 873.24L197.5 873.98L199.0 873.98L199.0 874.29L200.5 874.29L200.5 874.31L202.0 874.31L202.0 874.17L203.5 874.17L203.5 874.42L205.0 874.42L205.0 873.96L206.5 873.96L206.5 873.12L208.0 873.12L208.0 872.21L209.5 872.21L209.5 871.51L211.0 871.51L211.0 870.20L212.5 870.20L212.5 867.06L214.0 867.06L214.0 861.01L215.5 861.01L215.5 852.74L217.0 852.74L217.0 850.92L218.5 850.92L218.5 858.62L220.0 858.62L220.0 865.82L221.5 865.82L221.5 869.72L223.0 869.72L223.0 871.14L224.5 871.14L224.5 872.49L226.0 872.49L226.0 873.00L227.5 873.00L227.5 874.08L229.0 874.08L229.0 874.21L230.5 874.21L230.5 874.27L232.0 874.27L232.0 873.88L233.5 873.88L233.5 873.95L235.0 873.95L235.0 874.21L236.5 874.21L236.5 874.32L238.0 874.32L238.0 874.17L239.5 874.17L239.5 874.54L241.0 874.54L241.0 874.51L242.5 874.51L242.5 874.76L244.0 874.76L244.0 874.10L245.5 874.10L245.5 873.45L247.0 873.45L247.0 873.71L248.5 873.71L248.5 874.53L250.0 874.53L250.0 874.69L251.5 874.69L251.5 874.28L253.0 874.28L253.0 874.40L254.5 874.40L254.5 874.40L256.0 874.40L256.0 873.99L257.5 873.99L257.5 873.40L259.0 873.40L259.0 873.93L260.5 873.93L260.5 874.36L262.0 874.36L262.0 873.73L263.5 873.73L263.5 873.85L265.0 873.85L265.0 874.18L266.5 874.18L266.5 874.78L268.0 874.78L268.0 874.55L269.5 874.55L269.5 874.41L271.0 874.41L271.0 874.34L272.5 874.34L272.5 874.55L274.0 874.55L274.0 874.82L275.5 874.82L275.5 874.79L277.0 874.79L277.0 874.37L278.5 874.37L278.5 873.70L280.0 873.70L280.0 873.74L281.5 873.74L281.5 873.81L283.0 873.81L283.0 874.10L284.5 874.10L284.5 874.14L286.0 874.14L286.0 874.83L287.5 874.83L287.5 874.90L289.0 874.90L289.0 874.91L290.5 874.91L290.5 874.86L292.0 874.86L292.0 874.39L293.5 874.39L293.5 874.33L295.0 874.33L295.0 874.31L296.5 874.31L296.5 874.55L298.0 874.55L298.0 873.85L299.5 873.85L299.5 873.80L301.0 873.80L301.0 873.56L302.5 873.56L302.5 874.27L304.0 874.27L304.0 873.96L305.5 873.96L305.5 874.16L307.0 874.16L307.0 873.35L308.5 873.35L308.5 873.01L310.0 873.01L310.0 873.17L311.5 873.17L311.5 873.34L313.0 873.34L313.0 873.93L314.5 873.93L314.5 874.08L316.0 874.08L316.0 873.93L317.5 873.93L317.5 873.68L319.0 873.68L319.0 873.04L320.5 873.04L320.5 874.03L322.0 874.03L322.0 873.51L323.5 873.51L323.5 873.75L325.0 873.75L325.0 873.85L326.5 873.85L326.5 873.82L328.0 873.82L328.0 874.01L329.5 874.01L329.5 873.89L331.0 873.89L331.0 874.59L332.5 874.59L332.5 874.81L334.0 874.81L334.0 874.86L335.5 874.86L335.5 874.64L337.0 874.64L337.0 874.61L338.5 874.61L338.5 874.57L340.0 874.57L340.0 874.73L341.5 874.73L341.5 874.44L343.0 874.44L343.0 874.32L344.5 874.32L344.5 873.93L346.0 873.93L346.0 874.27L347.5 874.27L347.5 874.28L349.0 874.28L349.0 874.60L350.5 874.60L350.5 874.69L352.0 874.69L352.0 874.77L353.5 874.77L353.5 874.88L355.0 874.88L355.0 874.57L356.5 874.57L356.5 874.62L358.0 874.62L358.0 874.12L359.5 874.12L359.5 874.57L361.0 874.57L361.0 874.06L362.5 874.06L362.5 873.98L364.0 873.98L364.0 873.67L365.5 873.67L365.5 873.03L367.0 873.03L367.0 872.67L368.5 872.67L368.5 871.85L370.0 871.85L370.0 872.38L371.5 872.38L371.5 871.85L373.0 871.85L373.0 871.27L374.5 871.27L374.5 870.31L376.0 870.31L376.0 869.26L377.5 869.26L377.5 868.08L379.0 868.08L379.0 868.80L380.5 868.80L380.5 869.48L382.0 869.48L382.0 869.97L383.5 869.97L383.5 869.97L385.0 869.97L385.0 871.57L386.5 871.57L386.5 872.35L388.0 872.35L388.0 873.06L389.5 873.06L389.5 872.25L391.0 872.25L391.0 872.56L392.5 872.56L392.5 871.94L394.0 871.94L394.0 872.18L395.5 872.18L395.5 873.70L397.0 873.70L397.0 873.79L398.5 873.79L398.5 874.49L400.0 874.49L400.0 874.42L401.5 874.42L401.5 874.68L403.0 874.68L403.0 874.39L404.5 874.39L404.5 874.26L406.0 874.26L406.0 873.80L407.5 873.80L407.5 872.95L409.0 872.95L409.0 871.32L410.5 871.32L410.5 868.85L412.0 868.85L412.0 863.73L413.5 863.73L413.5 857.33L415.0 857.33L415.0 859.87L416.5 859.87L416.5 865.34L418.0 865.34L418.0 868.95L419.5 868.95L419.5 870.71L421.0 870.71L421.0 871.55L422.5 871.55L422.5 872.96L424.0 872.96L424.0 872.33L425.5 872.33L425.5 872.87L427.0 872.87L427.0 871.73L428.5 871.73L428.5 872.14L430.0 872.14L430.0 873.24L431.5 873.24L431.5 873.94L433.0 873.94L433.0 874.49L434.5 874.49L434.5 873.91L436.0 873.91L436.0 874.38L437.5 874.38L437.5 874.56L439.0 874.56L439.0 874.55L440.5 874.55L440.5 873.67L442.0 873.67L442.0 872.67L443.5 872.67L443.5 872.65L445.0 872.65L445.0 873.19L446.5 873.19L446.5 872.95L448.0 872.95L448.0 873.81L449.5 873.81L449.5 873.22L451.0 873.22L451.0 874.28L452.5 874.28L452.5 874.29L454.0 874.29L454.0 874.58L455.5 874.58L455.5 873.80L457.0 873.80L457.0 873.82L458.5 873.82L458.5 873.67L460.0 873.67L460.0 873.40L461.5 873.40L461.5 873.41L463.0 873.41L463.0 874.09L464.5 874.09L464.5 874.83L466.0 874.83L466.0 874.57L467.5 874.57L467.5 874.33L469.0 874.33L469.0 873.91L470.5 873.91L470.5 874.31L472.0 874.31L472.0 874.62L473.5 874.62L473.5 874.72L475.0 874.72L475.0 874.86L476.5 874.86L476.5 874.80L478.0 874.80L478.0 874.35L479.5 874.35L479.5 874.33L481.0 874.33L481.0 874.49L482.5 874.49L482.5 874.48L484.0 874.48L484.0 874.17L485.5 874.17L485.5 874.24L487.0 874.24L487.0 874.43L488.5 874.43L488.5 874.31L490.0 874.31L490.0 873.50L491.5 873.50L491.5 873.34L493.0 873.34L493.0 873.74L494.5 873.74L494.5 874.27L496.0 874.27L496.0 874.30L497.5 874.30L497.5 874.08L499.0 874.08L499.0 873.40L500.5 873.40L500.5 874.17L502.0 874.17L502.0 874.43L503.5 874.43L503.5 874.44L505.0 874.44L505.0 874.24L506.5 874.24L506.5 873.97L508.0 873.97L508.0 874.23L509.5 874.23L509.5 873.77L511.0 873.77L511.0 874.10L512.5 874.10L512.5 874.07L514.0 874.07L514.0 873.98L515.5 873.98L515.5 874.03L517.0 874.03L517.0 874.38L518.5 874.38L518.5 874.55L520.0 874.55L520.0 874.67L521.5 874.67L521.5 874.04L523.0 874.04L523.0 874.43L524.5 874.43L524.5 873.46L526.0 873.46L526.0 873.93L527.5 873.93L527.5 874.08L529.0 874.08L529.0 874.48L530.5 874.48L530.5 874.34L532.0 874.34L532.0 873.96L533.5 873.96L533.5 873.81L535.0 873.81L535.0 874.20L536.5 874.20L536.5 873.57L538.0 873.57L538.0 874.19L539.5 874.19L539.5 873.62L541.0 873.62L541.0 874.64L542.5 874.64L542.5 874.37L544.0 874.37L544.0 874.85L545.5 874.85L545.5 874.81L547.0 874.81L547.0 874.77L548.5 874.77L548.5 874.04L550.0 874.04L550.0 873.81L551.5 873.81L551.5 874.05L553.0 874.05L553.0 874.49L554.5 874.49L554.5 874.20L556.0 874.20L556.0 874.26L557.5 874.26L557.5 874.37L559.0 874.37L559.0 874.07L560.5 874.07L560.5 873.72L562.0 873.72L562.0 873.51L563.5 873.51L563.5 873.16L565.0 873.16L565.0 871.76L566.5 871.76L566.5 870.23L568.0 870.23L568.0 867.86L569.5 867.86L569.5 861.12L571.0 861.12L571.0 854.32L572.5 854.32L572.5 856.15L574.0 856.15L574.0 863.05L575.5 863.05L575.5 867.60L577.0 867.60L577.0 869.75L578.5 869.75L578.5 870.55L580.0 870.55L580.0 872.40L581.5 872.40L581.5 873.05L583.0 873.05L583.0 873.88L584.5 873.88L584.5 874.30L586.0 874.30L586.0 874.10L587.5 874.10L587.5 874.33L589.0 874.33L589.0 873.53L590.5 873.53L590.5 873.55L592.0 873.55L592.0 874.06L593.5 874.06L593.5 873.99L595.0 873.99L595.0 873.92L596.5 873.92L596.5 873.69L598.0 873.69L598.0 874.01L599.5 874.01L599.5 874.61L601.0 874.61L601.0 874.36L602.5 874.36L602.5 874.19L604.0 874.19L604.0 873.99L605.5 873.99L605.5 874.00L607.0 874.00L607.0 874.61L608.5 874.61L608.5 874.16L610.0 874.16L610.0 874.05L611.5 874.05L611.5 872.96L613.0 872.96L613.0 874.15L614.5 874.15L614.5 874.00L616.0 874.00L616.0 874.69L617.5 874.69L617.5 874.30L619.0 874.30L619.0 874.72L620.5 874.72L620.5 873.96L622.0 873.96L622.0 874.45L623.5 874.45L623.5 874.21L625.0 874.21L625.0 874.60L626.5 874.60L626.5 874.37L628.0 874.37L628.0 874.69L629.5 874.69L629.5 874.55L631.0 874.55L631.0 873.94L632.5 873.94L632.5 873.52L634.0 873.52L634.0 873.12L635.5 873.12L635.5 874.07L637.0 874.07L637.0 874.18L638.5 874.18L638.5 874.59L640.0 874.59L640.0 873.95L641.5 873.95L641.5 873.17L643.0 873.17L643.0 872.84L644.5 872.84L644.5 874.24L646.0 874.24L646.0 874.55L647.5 874.55L647.5 874.88L649.0 874.88L649.0 874.87L650.5 874.87L650.5 874.90L652.0 874.90L652.0 874.82L653.5 874.82L653.5 874.80L655.0 874.80L655.0 874.73L656.5 874.73L656.5 874.30L658.0 874.30L658.0 873.15L659.5 873.15L659.5 872.34L661.0 872.34L661.0 873.06L662.5 873.06L662.5 874.17L664.0 874.17L664.0 874.11L665.5 874.11L665.5 874.11L667.0 874.11L667.0 873.91L668.5 873.91L668.5 874.08L670.0 874.08L670.0 873.91L671.5 873.91L671.5 872.93L673.0 872.93L673.0 873.16L674.5 873.16L674.5 872.40L676.0 872.40L676.0 873.81L677.5 873.81L677.5 873.45L679.0 873.45L679.0 874.03L680.5 874.03L680.5 873.21L682.0 873.21L682.0 874.14L683.5 874.14L683.5 874.45L685.0 874.45L685.0 874.74L686.5 874.74L686.5 874.80L688.0 874.80L688.0 874.27L689.5 874.27L689.5 874.44L691.0 874.44L691.0 874.37L692.5 874.37L692.5 874.64L694.0 874.64L694.0 874.58L695.5 874.58L695.5 874.60L697.0 874.60L697.0 874.82L698.5 874.82L698.5 874.81L700.0 874.81L700.0 874.88L701.5 874.88L701.5 874.65L703.0 874.65L703.0 874.29L704.5 874.29L704.5 873.93L706.0 873.93L706.0 873.71L707.5 873.71L707.5 873.86L709.0 873.86L709.0 873.97L710.5 873.97L710.5 873.89L712.0 873.89L712.0 874.28L713.5 874.28L713.5 873.51L715.0 873.51L715.0 873.73L716.5 873.73L716.5 874.04L718.0 874.04L718.0 873.99L719.5 873.99L719.5 874.42L721.0 874.42L721.0 873.85L722.5 873.85L722.5 873.71L724.0 873.71L724.0 873.67L725.5 873.67L725.5 874.02L727.0 874.02L727.0 874.79L728.5 874.79L728.5 874.50L730.0 874.50L730.0 874.31L731.5 874.31L731.5 873.43L733.0 873.43L733.0 873.80L734.5 873.80L734.5 872.94L736.0 872.94L736.0 872.49L737.5 872.49L737.5 871.82L739.0 871.82L739.0 872.85L740.5 872.85L740.5 872.90L742.0 872.90L742.0 873.92L743.5 873.92L743.5 874.35L745.0 874.35L745.0 874.59L746.5 874.59L746.5 874.76L748.0 874.76L748.0 874.02L749.5 874.02L749.5 874.37L751.0 874.37L751.0 873.92L752.5 873.92L752.5 874.61L754.0 874.61L754.0 874.61L755.5 874.61L755.5 874.52L757.0 874.52L757.0 874.00L758.5 874.00L758.5 874.34L760.0 874.34L760.0 874.52L761.5 874.52L761.5 874.85L763.0 874.85L763.0 874.13L764.5 874.13L764.5 874.02L766.0 874.02L766.0 873.75L767.5 873.75L767.5 873.78L769.0 873.78L769.0 873.86L770.5 873.86L770.5 873.94L772.0 873.94L772.0 874.51L773.5 874.51L773.5 874.62L775.0 874.62L775.0 874.36L776.5 874.36L776.5 874.46L778.0 874.46L778.0 874.19L779.5 874.19L779.5 874.33L781.0 874.33L781.0 873.74L782.5 873.74L782.5 873.39L784.0 873.39L784.0 873.53L785.5 873.53L785.5 873.23L787.0 873.23L787.0 872.85L788.5 872.85L788.5 871.86L790.0 871.86L790.0 872.40L791.5 872.40L791.5 873.34L793.0 873.34L793.0 874.16L794.5 874.16L794.5 873.98L796.0 873.98L796.0 873.95L797.5 873.95L797.5 873.38L799.0 873.38L799.0 874.06L800.5 874.06L800.5 874.19L802.0 874.19L802.0 874.77L803.5 874.77L803.5 874.55L805.0 874.55L805.0 874.61L806.5 874.61L806.5 874.17L808.0 874.17L808.0 874.18L809.5 874.18L809.5 873.43L811.0 873.43L811.0 872.60L812.5 872.60L812.5 872.73L814.0 872.73L814.0 873.75L815.5 873.75L815.5 873.78L817.0 873.78L817.0 874.47L818.5 874.47L818.5 874.30L820.0 874.30L820.0 874.30L821.5 874.30L821.5 873.21L823.0 873.21L823.0 872.88L824.5 872.88L824.5 872.98L826.0 872.98L826.0 874.02L827.5 874.02L827.5 874.58L829.0 874.58L829.0 874.88L830.5 874.88L830.5 874.43L832.0 874.43L832.0 874.42L833.5 874.42L833.5 874.40L835.0 874.40L835.0 874.72L836.5 874.72L836.5 874.61L838.0 874.61L838.0 874.09L839.5 874.09L839.5 874.50L841.0 874.50L841.0 874.59L842.5 874.59L842.5 874.49L844.0 874.49L844.0 874.57L845.5 874.57L845.5 874.46L847.0 874.46L847.0 874.83L848.5 874.83L848.5 874.18L850.0 874.18L850.0 874.04L851.5 874.04L851.5 873.83L853.0 873.83L853.0 873.93L854.5 873.93L854.5 873.52L856.0 873.52L856.0 873.08L857.5 873.08L857.5 874.21L859.0 874.21L859.0 874.26L860.5 874.26L860.5 874.67L862.0 874.67L862.0 873.52L863.5 873.52L863.5 872.24L865.0 872.24L865.0 868.86L866.5 868.86L866.5 865.16L868.0 865.16L868.0 862.97L869.5 862.97L869.5 864.59L871.0 864.59L871.0 867.68L872.5 867.68L872.5 870.51L874.0 870.51L874.0 871.24L875.5 871.24L875.5 871.57L877.0 871.57L877.0 871.07L878.5 871.07L878.5 870.48L880.0 870.48L880.0 869.38L881.5 869.38L881.5 870.10L883.0 870.10L883.0 870.70L884.5 870.70L884.5 870.00L886.0 870.00L886.0 867.36L887.5 867.36L887.5 857.68L889.0 857.68L889.0 849.95L890.5 849.95L890.5 851.33L892.0 851.33L892.0 857.39L893.5 857.39L893.5 849.95L895.0 849.95L895.0 850.24L896.5 850.24L896.5 862.70L898.0 862.70L898.0 869.30L899.5 869.30L899.5 870.96L901.0 870.96L901.0 871.63L902.5 871.63L902.5 871.94L904.0 871.94L904.0 871.52L905.5 871.52L905.5 871.54L907.0 871.54L907.0 871.53L908.5 871.53L908.5 871.73L910.0 871.73L910.0 872.01L911.5 872.01L911.5 872.39L913.0 872.39L913.0 872.73L914.5 872.73L914.5 872.51L916.0 872.51L916.0 872.62L917.5 872.62L917.5 873.44L919.0 873.44L919.0 874.55L920.5 874.55L920.5 874.65L922.0 874.65L922.0 874.32L923.5 874.32L923.5 873.69L925.0 873.69L925.0 872.52L926.5 872.52L926.5 873.88L928.0 873.88L928.0 874.01L929.5 874.01L929.5 873.79L931.0 873.79L931.0 873.00L932.5 873.00L932.5 871.86L934.0 871.86L934.0 870.17L935.5 870.17L935.5 868.61L937.0 868.61L937.0 869.07L938.5 869.07L938.5 870.70L940.0 870.70L940.0 872.02L941.5 872.02L941.5 873.26L943.0 873.26L943.0 873.91L944.5 873.91L944.5 874.45L946.0 874.45L946.0 874.21L947.5 874.21L947.5 874.17L949.0 874.17L949.0 873.90L950.5 873.90L950.5 873.85L952.0 873.85L952.0 874.15L953.5 874.15L953.5 873.48L955.0 873.48L955.0 873.68L956.5 873.68L956.5 873.15L958.0 873.15L958.0 873.61L959.5 873.61L959.5 873.73L961.0 873.73L961.0 873.30L962.5 873.30L962.5 872.54L964.0 872.54L964.0 872.69L965.5 872.69L965.5 872.58L967.0 872.58L967.0 873.86L968.5 873.86L968.5 873.30L970.0 873.30L970.0 873.43L971.5 873.43L971.5 872.72L973.0 872.72L973.0 874.04L974.5 874.04L974.5 874.03L976.0 874.03L976.0 874.32L977.5 874.32L977.5 874.07L979.0 874.07L979.0 873.99L980.5 873.99L980.5 874.32L982.0 874.32L982.0 873.97L983.5 873.97L983.5 874.67L985.0 874.67L985.0 873.89L986.5 873.89L986.5 874.38L988.0 874.38L988.0 874.49L989.5 874.49L989.5 874.75L991.0 874.75L991.0 874.60L992.5 874.60L992.5 873.95L994.0 873.95L994.0 874.20L995.5 874.20L995.5 874.37L997.0 874.37L997.0 874.72L998.5 874.72L998.5 874.54L1000.0 874.54L1000.0 874.65L1001.5 874.65L1001.5 874.45L1003.0 874.45L1003.0 874.61L1004.4 874.61L1004.4 874.95Z" fill="#0e68fc"/>
<rect x="146.50" y="874.25" width="857.90" height="1.50" fill="#0e68fc"/>
<text x="148.4" y="851.55" font-size="6.6" fill="#333" textLength="19" lengthAdjust="spacingAndGlyphs">[0 - 150]</text>
<path d="M146.5 907.10L146.5 906.48L148.0 906.48L148.0 906.23L149.5 906.23L149.5 906.88L151.0 906.88L151.0 906.03L152.5 906.03L152.5 906.73L154.0 906.73L154.0 906.02L155.5 906.02L155.5 906.37L157.0 906.37L157.0 905.23L158.5 905.23L158.5 905.02L160.0 905.02L160.0 905.74L161.5 905.74L161.5 906.37L163.0 906.37L163.0 906.63L164.5 906.63L164.5 906.60L166.0 906.60L166.0 906.66L167.5 906.66L167.5 906.95L169.0 906.95L169.0 906.58L170.5 906.58L170.5 905.92L172.0 905.92L172.0 905.04L173.5 905.04L173.5 906.01L175.0 906.01L175.0 905.94L176.5 905.94L176.5 906.28L178.0 906.28L178.0 906.28L179.5 906.28L179.5 906.70L181.0 906.70L181.0 906.77L182.5 906.77L182.5 906.86L184.0 906.86L184.0 906.79L185.5 906.79L185.5 906.83L187.0 906.83L187.0 906.45L188.5 906.45L188.5 906.05L190.0 906.05L190.0 905.67L191.5 905.67L191.5 905.90L193.0 905.90L193.0 905.98L194.5 905.98L194.5 905.49L196.0 905.49L196.0 905.35L197.5 905.35L197.5 905.21L199.0 905.21L199.0 906.49L200.5 906.49L200.5 906.77L202.0 906.77L202.0 907.08L203.5 907.08L203.5 906.66L205.0 906.66L205.0 906.12L206.5 906.12L206.5 905.31L208.0 905.31L208.0 905.99L209.5 905.99L209.5 905.32L211.0 905.32L211.0 902.49L212.5 902.49L212.5 896.88L214.0 896.88L214.0 888.57L215.5 888.57L215.5 882.10L217.0 882.10L217.0 882.10L218.5 882.10L218.5 882.62L220.0 882.62L220.0 889.06L221.5 889.06L221.5 896.22L223.0 896.22L223.0 901.72L224.5 901.72L224.5 904.90L226.0 904.90L226.0 905.70L227.5 905.70L227.5 906.30L229.0 906.30L229.0 906.37L230.5 906.37L230.5 906.88L232.0 906.88L232.0 906.56L233.5 906.56L233.5 906.49L235.0 906.49L235.0 905.80L236.5 905.80L236.5 906.39L238.0 906.39L238.0 906.26L239.5 906.26L239.5 906.91L241.0 906.91L241.0 906.52L242.5 906.52L242.5 906.15L244.0 906.15L244.0 905.62L245.5 905.62L245.5 906.55L247.0 906.55L247.0 906.78L248.5 906.78L248.5 906.84L250.0 906.84L250.0 906.23L251.5 906.23L251.5 905.67L253.0 905.67L253.0 905.08L254.5 905.08L254.5 905.93L256.0 905.93L256.0 906.79L257.5 906.79L257.5 906.68L259.0 906.68L259.0 906.03L260.5 906.03L260.5 905.87L262.0 905.87L262.0 906.34L263.5 906.34L263.5 906.74L265.0 906.74L265.0 905.93L266.5 905.93L266.5 906.45L268.0 906.45L268.0 906.78L269.5 906.78L269.5 906.86L271.0 906.86L271.0 906.47L272.5 906.47L272.5 906.03L274.0 906.03L274.0 906.11L275.5 906.11L275.5 906.08L277.0 906.08L277.0 905.78L278.5 905.78L278.5 906.41L280.0 906.41L280.0 906.81L281.5 906.81L281.5 907.07L283.0 907.07L283.0 907.06L284.5 907.06L284.5 906.84L286.0 906.84L286.0 906.57L287.5 906.57L287.5 906.56L289.0 906.56L289.0 906.59L290.5 906.59L290.5 906.27L292.0 906.27L292.0 905.98L293.5 905.98L293.5 906.33L295.0 906.33L295.0 906.21L296.5 906.21L296.5 905.96L298.0 905.96L298.0 905.06L299.5 905.06L299.5 904.93L301.0 904.93L301.0 906.12L302.5 906.12L302.5 906.37L304.0 906.37L304.0 906.81L305.5 906.81L305.5 906.53L307.0 906.53L307.0 906.66L308.5 906.66L308.5 906.80L310.0 906.80L310.0 906.88L311.5 906.88L311.5 906.56L313.0 906.56L313.0 906.38L314.5 906.38L314.5 905.54L316.0 905.54L316.0 905.97L317.5 905.97L317.5 905.99L319.0 905.99L319.0 906.61L320.5 906.61L320.5 906.67L322.0 906.67L322.0 906.32L323.5 906.32L323.5 906.30L325.0 906.30L325.0 906.77L326.5 906.77L326.5 907.02L328.0 907.02L328.0 906.78L329.5 906.78L329.5 906.17L331.0 906.17L331.0 906.24L332.5 906.24L332.5 906.27L334.0 906.27L334.0 906.43L335.5 906.43L335.5 906.19L337.0 906.19L337.0 906.12L338.5 906.12L338.5 906.58L340.0 906.58L340.0 906.76L341.5 906.76L341.5 907.02L343.0 907.02L343.0 906.72L344.5 906.72L344.5 906.32L346.0 906.32L346.0 906.16L347.5 906.16L347.5 905.95L349.0 905.95L349.0 906.14L350.5 906.14L350.5 905.75L352.0 905.75L352.0 906.71L353.5 906.71L353.5 906.37L355.0 906.37L355.0 906.86L356.5 906.86L356.5 906.35L358.0 906.35L358.0 906.30L359.5 906.30L359.5 905.66L361.0 905.66L361.0 905.77L362.5 905.77L362.5 906.14L364.0 906.14L364.0 906.03L365.5 906.03L365.5 906.27L367.0 906.27L367.0 906.58L368.5 906.58L368.5 906.73L370.0 906.73L370.0 906.58L371.5 906.58L371.5 906.34L373.0 906.34L373.0 904.68L374.5 904.68L374.5 900.96L376.0 900.96L376.0 898.48L377.5 898.48L377.5 900.61L379.0 900.61L379.0 903.65L380.5 903.65L380.5 904.27L382.0 904.27L382.0 903.13L383.5 903.13L383.5 901.62L385.0 901.62L385.0 900.56L386.5 900.56L386.5 901.82L388.0 901.82L388.0 903.86L389.5 903.86L389.5 905.47L391.0 905.47L391.0 906.38L392.5 906.38L392.5 906.34L394.0 906.34L394.0 906.55L395.5 906.55L395.5 905.89L397.0 905.89L397.0 906.27L398.5 906.27L398.5 905.27L400.0 905.27L400.0 906.37L401.5 906.37L401.5 906.41L403.0 906.41L403.0 906.83L404.5 906.83L404.5 906.32L406.0 906.32L406.0 906.00L407.5 906.00L407.5 904.96L409.0 904.96L409.0 904.38L410.5 904.38L410.5 901.85L412.0 901.85L412.0 895.98L413.5 895.98L413.5 890.71L415.0 890.71L415.0 894.17L416.5 894.17L416.5 899.34L418.0 899.34L418.0 901.17L419.5 901.17L419.5 902.80L421.0 902.80L421.0 903.48L422.5 903.48L422.5 904.67L424.0 904.67L424.0 905.29L425.5 905.29L425.5 906.14L427.0 906.14L427.0 906.26L428.5 906.26L428.5 906.45L430.0 906.45L430.0 906.51L431.5 906.51L431.5 906.41L433.0 906.41L433.0 906.45L434.5 906.45L434.5 906.49L436.0 906.49L436.0 906.15L437.5 906.15L437.5 905.39L439.0 905.39L439.0 905.66L440.5 905.66L440.5 905.63L442.0 905.63L442.0 906.69L443.5 906.69L443.5 906.62L445.0 906.62L445.0 906.66L446.5 906.66L446.5 906.54L448.0 906.54L448.0 906.20L449.5 906.20L449.5 906.09L451.0 906.09L451.0 905.47L452.5 905.47L452.5 905.78L454.0 905.78L454.0 906.77L455.5 906.77L455.5 906.87L457.0 906.87L457.0 906.86L458.5 906.86L458.5 906.24L460.0 906.24L460.0 906.30L461.5 906.30L461.5 905.89L463.0 905.89L463.0 906.35L464.5 906.35L464.5 906.07L466.0 906.07L466.0 906.13L467.5 906.13L467.5 906.39L469.0 906.39L469.0 906.03L470.5 906.03L470.5 906.38L472.0 906.38L472.0 906.02L473.5 906.02L473.5 906.00L475.0 906.00L475.0 905.84L476.5 905.84L476.5 905.78L478.0 905.78L478.0 906.62L479.5 906.62L479.5 906.86L481.0 906.86L481.0 906.70L482.5 906.70L482.5 906.46L484.0 906.46L484.0 905.97L485.5 905.97L485.5 906.05L487.0 906.05L487.0 905.82L488.5 905.82L488.5 906.24L490.0 906.24L490.0 906.04L491.5 906.04L491.5 906.31L493.0 906.31L493.0 906.46L494.5 906.46L494.5 906.45L496.0 906.45L496.0 905.94L497.5 905.94L497.5 906.02L499.0 906.02L499.0 905.99L500.5 905.99L500.5 906.25L502.0 906.25L502.0 906.07L503.5 906.07L503.5 906.41L505.0 906.41L505.0 906.16L506.5 906.16L506.5 906.30L508.0 906.30L508.0 906.20L509.5 906.20L509.5 906.80L511.0 906.80L511.0 906.80L512.5 906.80L512.5 906.59L514.0 906.59L514.0 905.74L515.5 905.74L515.5 904.91L517.0 904.91L517.0 905.19L518.5 905.19L518.5 906.07L520.0 906.07L520.0 906.33L521.5 906.33L521.5 906.50L523.0 906.50L523.0 906.06L524.5 906.06L524.5 905.69L526.0 905.69L526.0 905.89L527.5 905.89L527.5 906.13L529.0 906.13L529.0 906.45L530.5 906.45L530.5 906.08L532.0 906.08L532.0 905.76L533.5 905.76L533.5 905.17L535.0 905.17L535.0 905.92L536.5 905.92L536.5 906.47L538.0 906.47L538.0 906.26L539.5 906.26L539.5 906.20L541.0 906.20L541.0 905.84L542.5 905.84L542.5 906.74L544.0 906.74L544.0 906.89L545.5 906.89L545.5 907.05L547.0 907.05L547.0 906.81L548.5 906.81L548.5 906.75L550.0 906.75L550.0 906.39L551.5 906.39L551.5 906.86L553.0 906.86L553.0 906.52L554.5 906.52L554.5 906.48L556.0 906.48L556.0 906.29L557.5 906.29L557.5 906.69L559.0 906.69L559.0 906.93L560.5 906.93L560.5 906.77L562.0 906.77L562.0 906.70L563.5 906.70L563.5 906.49L565.0 906.49L565.0 905.67L566.5 905.67L566.5 902.68L568.0 902.68L568.0 896.26L569.5 896.26L569.5 884.58L571.0 884.58L571.0 882.10L572.5 882.10L572.5 882.10L574.0 882.10L574.0 882.10L575.5 882.10L575.5 889.47L577.0 889.47L577.0 896.76L578.5 896.76L578.5 900.39L580.0 900.39L580.0 902.11L581.5 902.11L581.5 903.49L583.0 903.49L583.0 904.27L584.5 904.27L584.5 905.65L586.0 905.65L586.0 905.88L587.5 905.88L587.5 906.59L589.0 906.59L589.0 906.49L590.5 906.49L590.5 906.81L592.0 906.81L592.0 906.63L593.5 906.63L593.5 906.44L595.0 906.44L595.0 906.24L596.5 906.24L596.5 906.45L598.0 906.45L598.0 906.65L599.5 906.65L599.5 906.60L601.0 906.60L601.0 905.94L602.5 905.94L602.5 905.91L604.0 905.91L604.0 906.61L605.5 906.61L605.5 906.67L607.0 906.67L607.0 906.18L608.5 906.18L608.5 904.94L610.0 904.94L610.0 905.32L611.5 905.32L611.5 906.01L613.0 906.01L613.0 906.76L614.5 906.76L614.5 906.54L616.0 906.54L616.0 906.52L617.5 906.52L617.5 906.47L619.0 906.47L619.0 906.71L620.5 906.71L620.5 906.94L622.0 906.94L622.0 906.80L623.5 906.80L623.5 906.81L625.0 906.81L625.0 906.13L626.5 906.13L626.5 906.17L628.0 906.17L628.0 906.58L629.5 906.58L629.5 906.89L631.0 906.89L631.0 906.57L632.5 906.57L632.5 906.66L634.0 906.66L634.0 906.80L635.5 906.80L635.5 907.02L637.0 907.02L637.0 906.50L638.5 906.50L638.5 905.61L640.0 905.61L640.0 904.52L641.5 904.52L641.5 906.00L643.0 906.00L643.0 906.43L644.5 906.43L644.5 906.98L646.0 906.98L646.0 906.68L647.5 906.68L647.5 906.42L649.0 906.42L649.0 906.05L650.5 906.05L650.5 905.92L652.0 905.92L652.0 906.06L653.5 906.06L653.5 906.03L655.0 906.03L655.0 906.37L656.5 906.37L656.5 906.75L658.0 906.75L658.0 906.58L659.5 906.58L659.5 905.95L661.0 905.95L661.0 904.78L662.5 904.78L662.5 904.37L664.0 904.37L664.0 904.64L665.5 904.64L665.5 905.22L667.0 905.22L667.0 905.87L668.5 905.87L668.5 906.65L670.0 906.65L670.0 906.53L671.5 906.53L671.5 906.77L673.0 906.77L673.0 905.99L674.5 905.99L674.5 905.91L676.0 905.91L676.0 905.77L677.5 905.77L677.5 905.81L679.0 905.81L679.0 905.94L680.5 905.94L680.5 905.14L682.0 905.14L682.0 906.27L683.5 906.27L683.5 906.71L685.0 906.71L685.0 907.03L686.5 907.03L686.5 906.57L688.0 906.57L688.0 906.59L689.5 906.59L689.5 906.32L691.0 906.32L691.0 906.50L692.5 906.50L692.5 906.35L694.0 906.35L694.0 906.15L695.5 906.15L695.5 906.29L697.0 906.29L697.0 906.31L698.5 906.31L698.5 905.96L700.0 905.96L700.0 905.90L701.5 905.90L701.5 905.37L703.0 905.37L703.0 905.67L704.5 905.67L704.5 905.74L706.0 905.74L706.0 906.43L707.5 906.43L707.5 906.24L709.0 906.24L709.0 905.83L710.5 905.83L710.5 905.92L712.0 905.92L712.0 906.53L713.5 906.53L713.5 906.99L715.0 906.99L715.0 906.98L716.5 906.98L716.5 906.89L718.0 906.89L718.0 906.74L719.5 906.74L719.5 906.74L721.0 906.74L721.0 906.80L722.5 906.80L722.5 906.61L724.0 906.61L724.0 906.61L725.5 906.61L725.5 906.47L727.0 906.47L727.0 906.50L728.5 906.50L728.5 905.68L730.0 905.68L730.0 905.11L731.5 905.11L731.5 904.70L733.0 904.70L733.0 905.50L734.5 905.50L734.5 906.59L736.0 906.59L736.0 906.94L737.5 906.94L737.5 907.02L739.0 907.02L739.0 906.58L740.5 906.58L740.5 906.55L742.0 906.55L742.0 906.15L743.5 906.15L743.5 906.29L745.0 906.29L745.0 906.19L746.5 906.19L746.5 905.61L748.0 905.61L748.0 905.71L749.5 905.71L749.5 905.50L751.0 905.50L751.0 906.52L752.5 906.52L752.5 906.83L754.0 906.83L754.0 906.77L755.5 906.77L755.5 906.57L757.0 906.57L757.0 906.23L758.5 906.23L758.5 906.00L760.0 906.00L760.0 905.68L761.5 905.68L761.5 905.27L763.0 905.27L763.0 906.03L764.5 906.03L764.5 906.65L766.0 906.65L766.0 906.97L767.5 906.97L767.5 906.66L769.0 906.66L769.0 906.52L770.5 906.52L770.5 906.65L772.0 906.65L772.0 907.06L773.5 907.06L773.5 906.71L775.0 906.71L775.0 906.64L776.5 906.64L776.5 906.64L778.0 906.64L778.0 907.00L779.5 907.00L779.5 907.05L781.0 907.05L781.0 906.75L782.5 906.75L782.5 906.48L784.0 906.48L784.0 906.07L785.5 906.07L785.5 906.08L787.0 906.08L787.0 906.72L788.5 906.72L788.5 906.41L790.0 906.41L790.0 906.49L791.5 906.49L791.5 905.60L793.0 905.60L793.0 906.41L794.5 906.41L794.5 906.07L796.0 906.07L796.0 905.76L797.5 905.76L797.5 905.23L799.0 905.23L799.0 906.14L800.5 906.14L800.5 906.61L802.0 906.61L802.0 906.40L803.5 906.40L803.5 906.25L805.0 906.25L805.0 906.22L806.5 906.22L806.5 905.93L808.0 905.93L808.0 905.58L809.5 905.58L809.5 905.80L811.0 905.80L811.0 905.86L812.5 905.86L812.5 905.75L814.0 905.75L814.0 906.22L815.5 906.22L815.5 906.62L817.0 906.62L817.0 906.93L818.5 906.93L818.5 906.77L820.0 906.77L820.0 906.85L821.5 906.85L821.5 906.44L823.0 906.44L823.0 906.11L824.5 906.11L824.5 906.25L826.0 906.25L826.0 906.88L827.5 906.88L827.5 907.05L829.0 907.05L829.0 907.02L830.5 907.02L830.5 906.79L832.0 906.79L832.0 906.53L833.5 906.53L833.5 906.48L835.0 906.48L835.0 906.49L836.5 906.49L836.5 906.65L838.0 906.65L838.0 906.14L839.5 906.14L839.5 906.47L841.0 906.47L841.0 906.41L842.5 906.41L842.5 906.66L844.0 906.66L844.0 906.04L845.5 906.04L845.5 906.00L847.0 906.00L847.0 906.03L848.5 906.03L848.5 906.63L850.0 906.63L850.0 906.89L851.5 906.89L851.5 906.67L853.0 906.67L853.0 906.80L854.5 906.80L854.5 906.12L856.0 906.12L856.0 906.90L857.5 906.90L857.5 906.75L859.0 906.75L859.0 906.85L860.5 906.85L860.5 906.00L862.0 906.00L862.0 904.60L863.5 904.60L863.5 902.37L865.0 902.37L865.0 897.87L866.5 897.87L866.5 892.01L868.0 892.01L868.0 890.21L869.5 890.21L869.5 891.26L871.0 891.26L871.0 895.83L872.5 895.83L872.5 898.91L874.0 898.91L874.0 900.78L875.5 900.78L875.5 900.40L877.0 900.40L877.0 900.27L878.5 900.27L878.5 900.24L880.0 900.24L880.0 900.73L881.5 900.73L881.5 902.40L883.0 902.40L883.0 902.23L884.5 902.23L884.5 900.31L886.0 900.31L886.0 892.77L887.5 892.77L887.5 885.15L889.0 885.15L889.0 882.10L890.5 882.10L890.5 882.10L892.0 882.10L892.0 882.10L893.5 882.10L893.5 882.10L895.0 882.10L895.0 882.10L896.5 882.10L896.5 890.69L898.0 890.69L898.0 898.66L899.5 898.66L899.5 902.07L901.0 902.07L901.0 901.95L902.5 901.95L902.5 901.09L904.0 901.09L904.0 900.95L905.5 900.95L905.5 901.37L907.0 901.37L907.0 902.40L908.5 902.40L908.5 903.58L910.0 903.58L910.0 904.36L911.5 904.36L911.5 904.72L913.0 904.72L913.0 903.75L914.5 903.75L914.5 904.17L916.0 904.17L916.0 904.48L917.5 904.48L917.5 904.40L919.0 904.40L919.0 904.87L920.5 904.87L920.5 904.91L922.0 904.91L922.0 904.85L923.5 904.85L923.5 904.26L925.0 904.26L925.0 904.12L926.5 904.12L926.5 903.71L928.0 903.71L928.0 904.35L929.5 904.35L929.5 904.63L931.0 904.63L931.0 905.38L932.5 905.38L932.5 905.65L934.0 905.65L934.0 905.80L935.5 905.80L935.5 905.35L937.0 905.35L937.0 906.27L938.5 906.27L938.5 906.24L940.0 906.24L940.0 906.36L941.5 906.36L941.5 906.22L943.0 906.22L943.0 906.54L944.5 906.54L944.5 906.76L946.0 906.76L946.0 906.81L947.5 906.81L947.5 906.54L949.0 906.54L949.0 906.19L950.5 906.19L950.5 906.02L952.0 906.02L952.0 906.53L953.5 906.53L953.5 906.57L955.0 906.57L955.0 906.77L956.5 906.77L956.5 906.14L958.0 906.14L958.0 906.60L959.5 906.60L959.5 905.77L961.0 905.77L961.0 906.35L962.5 906.35L962.5 905.68L964.0 905.68L964.0 905.88L965.5 905.88L965.5 905.57L967.0 905.57L967.0 906.60L968.5 906.60L968.5 906.66L970.0 906.66L970.0 906.89L971.5 906.89L971.5 906.42L973.0 906.42L973.0 906.65L974.5 906.65L974.5 906.66L976.0 906.66L976.0 906.98L977.5 906.98L977.5 907.01L979.0 907.01L979.0 907.04L980.5 907.04L980.5 906.99L982.0 906.99L982.0 906.87L983.5 906.87L983.5 906.27L985.0 906.27L985.0 905.63L986.5 905.63L986.5 905.88L988.0 905.88L988.0 905.78L989.5 905.78L989.5 906.31L991.0 906.31L991.0 906.24L992.5 906.24L992.5 906.60L994.0 906.60L994.0 906.38L995.5 906.38L995.5 906.31L997.0 906.31L997.0 906.18L998.5 906.18L998.5 906.58L1000.0 906.58L1000.0 906.79L1001.5 906.79L1001.5 906.96L1003.0 906.96L1003.0 906.93L1004.4 906.93L1004.4 907.10Z" fill="#106afa"/>
<rect x="146.50" y="906.40" width="857.90" height="1.50" fill="#106afa"/>
<text x="148.4" y="883.70" font-size="6.6" fill="#333" textLength="19" lengthAdjust="spacingAndGlyphs">[0 - 150]</text>
<path d="M146.5 939.25L146.5 939.10L148.0 939.10L148.0 939.10L149.5 939.10L149.5 939.08L151.0 939.08L151.0 939.10L152.5 939.10L152.5 939.03L154.0 939.03L154.0 939.08L155.5 939.08L155.5 939.02L157.0 939.02L157.0 939.18L158.5 939.18L158.5 939.17L160.0 939.17L160.0 939.22L161.5 939.22L161.5 939.20L163.0 939.20L163.0 939.11L164.5 939.11L164.5 939.12L166.0 939.12L166.0 938.91L167.5 938.91L167.5 938.81L169.0 938.81L169.0 938.84L170.5 938.84L170.5 938.79L172.0 938.79L172.0 938.86L173.5 938.86L173.5 938.65L175.0 938.65L175.0 939.02L176.5 939.02L176.5 939.10L178.0 939.10L178.0 939.07L179.5 939.07L179.5 938.93L181.0 938.93L181.0 938.87L182.5 938.87L182.5 938.71L184.0 938.71L184.0 938.38L185.5 938.38L185.5 937.82L187.0 937.82L187.0 937.28L188.5 937.28L188.5 936.49L190.0 936.49L190.0 935.19L191.5 935.19L191.5 934.07L193.0 934.07L193.0 933.37L194.5 933.37L194.5 933.09L196.0 933.09L196.0 933.10L197.5 933.10L197.5 932.81L199.0 932.81L199.0 933.04L200.5 933.04L200.5 933.43L202.0 933.43L202.0 933.93L203.5 933.93L203.5 933.94L205.0 933.94L205.0 930.57L206.5 930.57L206.5 923.43L208.0 923.43L208.0 917.97L209.5 917.97L209.5 914.25L211.0 914.25L211.0 914.25L212.5 914.25L212.5 915.99L214.0 915.99L214.0 921.94L215.5 921.94L215.5 924.95L217.0 924.95L217.0 922.76L218.5 922.76L218.5 918.70L220.0 918.70L220.0 914.25L221.5 914.25L221.5 914.29L223.0 914.29L223.0 916.34L224.5 916.34L224.5 919.21L226.0 919.21L226.0 926.38L227.5 926.38L227.5 930.06L229.0 930.06L229.0 929.81L230.5 929.81L230.5 930.13L232.0 930.13L232.0 929.36L233.5 929.36L233.5 929.69L235.0 929.69L235.0 930.28L236.5 930.28L236.5 931.36L238.0 931.36L238.0 931.87L239.5 931.87L239.5 933.13L241.0 933.13L241.0 932.92L242.5 932.92L242.5 933.60L244.0 933.60L244.0 933.69L245.5 933.69L245.5 934.54L247.0 934.54L247.0 934.84L248.5 934.84L248.5 934.91L250.0 934.91L250.0 935.19L251.5 935.19L251.5 935.14L253.0 935.14L253.0 935.08L254.5 935.08L254.5 935.02L256.0 935.02L256.0 935.36L257.5 935.36L257.5 935.07L259.0 935.07L259.0 935.53L260.5 935.53L260.5 935.33L262.0 935.33L262.0 935.23L263.5 935.23L263.5 935.95L265.0 935.95L265.0 936.64L266.5 936.64L266.5 937.21L268.0 937.21L268.0 937.53L269.5 937.53L269.5 938.02L271.0 938.02L271.0 938.41L272.5 938.41L272.5 938.52L274.0 938.52L274.0 938.68L275.5 938.68L275.5 938.93L277.0 938.93L277.0 939.11L278.5 939.11L278.5 939.17L280.0 939.17L280.0 939.15L281.5 939.15L281.5 939.09L283.0 939.09L283.0 938.97L284.5 938.97L284.5 939.09L286.0 939.09L286.0 939.20L287.5 939.20L287.5 939.18L289.0 939.18L289.0 939.05L290.5 939.05L290.5 938.68L292.0 938.68L292.0 938.38L293.5 938.38L293.5 938.38L295.0 938.38L295.0 938.28L296.5 938.28L296.5 938.11L298.0 938.11L298.0 937.87L299.5 937.87L299.5 937.63L301.0 937.63L301.0 937.68L302.5 937.68L302.5 937.81L304.0 937.81L304.0 938.01L305.5 938.01L305.5 938.13L307.0 938.13L307.0 938.28L308.5 938.28L308.5 938.40L310.0 938.40L310.0 938.82L311.5 938.82L311.5 939.08L313.0 939.08L313.0 939.09L314.5 939.09L314.5 938.95L316.0 938.95L316.0 938.65L317.5 938.65L317.5 938.88L319.0 938.88L319.0 939.03L320.5 939.03L320.5 939.21L322.0 939.21L322.0 939.20L323.5 939.20L323.5 939.22L325.0 939.22L325.0 939.21L326.5 939.21L326.5 939.23L328.0 939.23L328.0 939.12L329.5 939.12L329.5 939.07L331.0 939.07L331.0 938.92L332.5 938.92L332.5 939.07L334.0 939.07L334.0 939.00L335.5 939.00L335.5 938.94L337.0 938.94L337.0 938.90L338.5 938.90L338.5 938.81L340.0 938.81L340.0 938.81L341.5 938.81L341.5 938.57L343.0 938.57L343.0 938.25L344.5 938.25L344.5 937.73L346.0 937.73L346.0 937.31L347.5 937.31L347.5 937.05L349.0 937.05L349.0 936.79L350.5 936.79L350.5 936.31L352.0 936.31L352.0 936.19L353.5 936.19L353.5 935.86L355.0 935.86L355.0 935.75L356.5 935.75L356.5 935.21L358.0 935.21L358.0 934.25L359.5 934.25L359.5 933.76L361.0 933.76L361.0 933.20L362.5 933.20L362.5 932.39L364.0 932.39L364.0 930.72L365.5 930.72L365.5 930.28L367.0 930.28L367.0 931.05L368.5 931.05L368.5 929.48L370.0 929.48L370.0 928.86L371.5 928.86L371.5 928.92L373.0 928.92L373.0 925.01L374.5 925.01L374.5 925.06L376.0 925.06L376.0 923.03L377.5 923.03L377.5 923.36L379.0 923.36L379.0 923.02L380.5 923.02L380.5 924.00L382.0 924.00L382.0 925.45L383.5 925.45L383.5 924.16L385.0 924.16L385.0 922.78L386.5 922.78L386.5 924.42L388.0 924.42L388.0 925.41L389.5 925.41L389.5 926.39L391.0 926.39L391.0 929.82L392.5 929.82L392.5 930.47L394.0 930.47L394.0 931.20L395.5 931.20L395.5 931.29L397.0 931.29L397.0 932.56L398.5 932.56L398.5 933.21L400.0 933.21L400.0 933.38L401.5 933.38L401.5 933.77L403.0 933.77L403.0 934.53L404.5 934.53L404.5 934.01L406.0 934.01L406.0 934.53L407.5 934.53L407.5 934.38L409.0 934.38L409.0 935.67L410.5 935.67L410.5 936.85L412.0 936.85L412.0 937.69L413.5 937.69L413.5 937.80L415.0 937.80L415.0 937.02L416.5 937.02L416.5 936.65L418.0 936.65L418.0 935.50L419.5 935.50L419.5 934.91L421.0 934.91L421.0 934.77L422.5 934.77L422.5 934.67L424.0 934.67L424.0 934.43L425.5 934.43L425.5 935.46L427.0 935.46L427.0 936.47L428.5 936.47L428.5 937.17L430.0 937.17L430.0 937.59L431.5 937.59L431.5 937.74L433.0 937.74L433.0 937.68L434.5 937.68L434.5 937.50L436.0 937.50L436.0 937.45L437.5 937.45L437.5 937.45L439.0 937.45L439.0 937.25L440.5 937.25L440.5 937.32L442.0 937.32L442.0 937.07L443.5 937.07L443.5 936.94L445.0 936.94L445.0 937.25L446.5 937.25L446.5 937.50L448.0 937.50L448.0 937.96L449.5 937.96L449.5 938.01L451.0 938.01L451.0 938.29L452.5 938.29L452.5 938.47L454.0 938.47L454.0 938.74L455.5 938.74L455.5 938.90L457.0 938.90L457.0 938.88L458.5 938.88L458.5 938.95L460.0 938.95L460.0 939.04L461.5 939.04L461.5 939.17L463.0 939.17L463.0 939.21L464.5 939.21L464.5 939.09L466.0 939.09L466.0 939.04L467.5 939.04L467.5 938.77L469.0 938.77L469.0 938.93L470.5 938.93L470.5 938.93L472.0 938.93L472.0 938.95L473.5 938.95L473.5 938.96L475.0 938.96L475.0 939.08L476.5 939.08L476.5 939.00L478.0 939.00L478.0 939.07L479.5 939.07L479.5 938.84L481.0 938.84L481.0 939.06L482.5 939.06L482.5 938.83L484.0 938.83L484.0 939.02L485.5 939.02L485.5 939.12L487.0 939.12L487.0 939.25L488.5 939.25L488.5 939.23L490.0 939.23L490.0 939.09L491.5 939.09L491.5 938.96L493.0 938.96L493.0 938.73L494.5 938.73L494.5 939.03L496.0 939.03L496.0 938.82L497.5 938.82L497.5 939.10L499.0 939.10L499.0 938.83L500.5 938.83L500.5 939.11L502.0 939.11L502.0 938.98L503.5 938.98L503.5 939.07L505.0 939.07L505.0 938.76L506.5 938.76L506.5 938.84L508.0 938.84L508.0 938.73L509.5 938.73L509.5 939.09L511.0 939.09L511.0 938.93L512.5 938.93L512.5 939.04L514.0 939.04L514.0 938.86L515.5 938.86L515.5 938.83L517.0 938.83L517.0 938.92L518.5 938.92L518.5 938.89L520.0 938.89L520.0 939.03L521.5 939.03L521.5 939.03L523.0 939.03L523.0 939.15L524.5 939.15L524.5 939.18L526.0 939.18L526.0 939.19L527.5 939.19L527.5 939.09L529.0 939.09L529.0 939.09L530.5 939.09L530.5 939.14L532.0 939.14L532.0 939.12L533.5 939.12L533.5 938.96L535.0 938.96L535.0 938.73L536.5 938.73L536.5 938.91L538.0 938.91L538.0 939.11L539.5 939.11L539.5 939.01L541.0 939.01L541.0 938.96L542.5 938.96L542.5 938.78L544.0 938.78L544.0 939.11L545.5 939.11L545.5 938.99L547.0 938.99L547.0 938.93L548.5 938.93L548.5 938.85L550.0 938.85L550.0 939.04L551.5 939.04L551.5 939.11L553.0 939.11L553.0 938.88L554.5 938.88L554.5 938.64L556.0 938.64L556.0 938.94L557.5 938.94L557.5 939.15L559.0 939.15L559.0 939.00L560.5 939.00L560.5 938.35L562.0 938.35L562.0 936.43L563.5 936.43L563.5 934.35L565.0 934.35L565.0 931.36L566.5 931.36L566.5 930.56L568.0 930.56L568.0 932.39L569.5 932.39L569.5 935.25L571.0 935.25L571.0 936.34L572.5 936.34L572.5 935.31L574.0 935.31L574.0 933.07L575.5 933.07L575.5 930.47L577.0 930.47L577.0 930.55L578.5 930.55L578.5 932.24L580.0 932.24L580.0 933.62L581.5 933.62L581.5 936.64L583.0 936.64L583.0 937.87L584.5 937.87L584.5 938.63L586.0 938.63L586.0 938.61L587.5 938.61L587.5 938.54L589.0 938.54L589.0 938.50L590.5 938.50L590.5 938.54L592.0 938.54L592.0 938.88L593.5 938.88L593.5 939.10L595.0 939.10L595.0 939.18L596.5 939.18L596.5 939.18L598.0 939.18L598.0 939.04L599.5 939.04L599.5 939.12L601.0 939.12L601.0 939.14L602.5 939.14L602.5 939.14L604.0 939.14L604.0 939.17L605.5 939.17L605.5 939.19L607.0 939.19L607.0 939.25L608.5 939.25L608.5 939.25L610.0 939.25L610.0 939.25L611.5 939.25L611.5 939.19L613.0 939.19L613.0 939.14L614.5 939.14L614.5 939.14L616.0 939.14L616.0 939.18L617.5 939.18L617.5 939.17L619.0 939.17L619.0 939.19L620.5 939.19L620.5 939.24L622.0 939.24L622.0 939.24L623.5 939.24L623.5 939.20L625.0 939.20L625.0 939.20L626.5 939.20L626.5 939.17L628.0 939.17L628.0 939.16L629.5 939.16L629.5 938.91L631.0 938.91L631.0 938.83L632.5 938.83L632.5 938.91L634.0 938.91L634.0 939.13L635.5 939.13L635.5 939.21L637.0 939.21L637.0 939.20L638.5 939.20L638.5 939.02L640.0 939.02L640.0 938.69L641.5 938.69L641.5 938.81L643.0 938.81L643.0 938.94L644.5 938.94L644.5 939.01L646.0 939.01L646.0 938.67L647.5 938.67L647.5 938.61L649.0 938.61L649.0 938.68L650.5 938.68L650.5 939.04L652.0 939.04L652.0 939.16L653.5 939.16L653.5 939.09L655.0 939.09L655.0 938.79L656.5 938.79L656.5 938.43L658.0 938.43L658.0 938.78L659.5 938.78L659.5 938.84L661.0 938.84L661.0 938.88L662.5 938.88L662.5 938.86L664.0 938.86L664.0 939.03L665.5 939.03L665.5 939.12L667.0 939.12L667.0 939.08L668.5 939.08L668.5 939.16L670.0 939.16L670.0 939.22L671.5 939.22L671.5 939.15L673.0 939.15L673.0 939.05L674.5 939.05L674.5 938.92L676.0 938.92L676.0 939.06L677.5 939.06L677.5 939.02L679.0 939.02L679.0 938.92L680.5 938.92L680.5 938.94L682.0 938.94L682.0 939.10L683.5 939.10L683.5 939.22L685.0 939.22L685.0 939.24L686.5 939.24L686.5 939.21L688.0 939.21L688.0 939.00L689.5 939.00L689.5 938.91L691.0 938.91L691.0 938.99L692.5 938.99L692.5 939.04L694.0 939.04L694.0 939.10L695.5 939.10L695.5 939.01L697.0 939.01L697.0 939.07L698.5 939.07L698.5 938.94L700.0 938.94L700.0 939.00L701.5 939.00L701.5 939.07L703.0 939.07L703.0 939.21L704.5 939.21L704.5 939.07L706.0 939.07L706.0 938.92L707.5 938.92L707.5 938.50L709.0 938.50L709.0 938.88L710.5 938.88L710.5 938.98L712.0 938.98L712.0 939.10L713.5 939.10L713.5 939.11L715.0 939.11L715.0 939.20L716.5 939.20L716.5 939.11L718.0 939.11L718.0 938.97L719.5 938.97L719.5 938.80L721.0 938.80L721.0 939.08L722.5 939.08L722.5 939.09L724.0 939.09L724.0 938.99L725.5 938.99L725.5 938.97L727.0 938.97L727.0 939.08L728.5 939.08L728.5 939.07L730.0 939.07L730.0 939.05L731.5 939.05L731.5 938.98L733.0 938.98L733.0 938.98L734.5 938.98L734.5 938.79L736.0 938.79L736.0 938.86L737.5 938.86L737.5 939.07L739.0 939.07L739.0 939.18L740.5 939.18L740.5 939.22L742.0 939.22L742.0 939.19L743.5 939.19L743.5 939.21L745.0 939.21L745.0 939.17L746.5 939.17L746.5 939.11L748.0 939.11L748.0 939.12L749.5 939.12L749.5 939.16L751.0 939.16L751.0 939.25L752.5 939.25L752.5 939.20L754.0 939.20L754.0 939.17L755.5 939.17L755.5 939.13L757.0 939.13L757.0 939.15L758.5 939.15L758.5 939.03L760.0 939.03L760.0 938.73L761.5 938.73L761.5 938.94L763.0 938.94L763.0 939.07L764.5 939.07L764.5 939.24L766.0 939.24L766.0 939.21L767.5 939.21L767.5 939.15L769.0 939.15L769.0 939.08L770.5 939.08L770.5 939.05L772.0 939.05L772.0 939.15L773.5 939.15L773.5 938.96L775.0 938.96L775.0 938.80L776.5 938.80L776.5 938.47L778.0 938.47L778.0 938.69L779.5 938.69L779.5 938.64L781.0 938.64L781.0 938.77L782.5 938.77L782.5 938.99L784.0 938.99L784.0 939.18L785.5 939.18L785.5 939.12L787.0 939.12L787.0 938.99L788.5 938.99L788.5 938.72L790.0 938.72L790.0 938.90L791.5 938.90L791.5 938.75L793.0 938.75L793.0 938.98L794.5 938.98L794.5 939.10L796.0 939.10L796.0 939.22L797.5 939.22L797.5 939.14L799.0 939.14L799.0 939.02L800.5 939.02L800.5 938.90L802.0 938.90L802.0 939.08L803.5 939.08L803.5 939.13L805.0 939.13L805.0 939.18L806.5 939.18L806.5 939.19L808.0 939.19L808.0 939.08L809.5 939.08L809.5 938.90L811.0 938.90L811.0 938.55L812.5 938.55L812.5 938.86L814.0 938.86L814.0 938.84L815.5 938.84L815.5 938.83L817.0 938.83L817.0 938.89L818.5 938.89L818.5 938.84L820.0 938.84L820.0 938.84L821.5 938.84L821.5 938.92L823.0 938.92L823.0 939.17L824.5 939.17L824.5 939.25L826.0 939.25L826.0 939.19L827.5 939.19L827.5 939.18L829.0 939.18L829.0 939.17L830.5 939.17L830.5 939.24L832.0 939.24L832.0 939.22L833.5 939.22L833.5 939.20L835.0 939.20L835.0 939.09L836.5 939.09L836.5 939.15L838.0 939.15L838.0 939.05L839.5 939.05L839.5 939.03L841.0 939.03L841.0 938.95L842.5 938.95L842.5 938.83L844.0 938.83L844.0 938.83L845.5 938.83L845.5 938.74L847.0 938.74L847.0 938.97L848.5 938.97L848.5 938.98L850.0 938.98L850.0 938.83L851.5 938.83L851.5 938.65L853.0 938.65L853.0 938.48L854.5 938.48L854.5 938.17L856.0 938.17L856.0 937.87L857.5 937.87L857.5 937.40L859.0 937.40L859.0 936.63L860.5 936.63L860.5 935.82L862.0 935.82L862.0 935.09L863.5 935.09L863.5 934.62L865.0 934.62L865.0 933.73L866.5 933.73L866.5 932.86L868.0 932.86L868.0 933.13L869.5 933.13L869.5 932.72L871.0 932.72L871.0 932.63L872.5 932.63L872.5 933.12L874.0 933.12L874.0 933.65L875.5 933.65L875.5 933.82L877.0 933.82L877.0 934.42L878.5 934.42L878.5 934.24L880.0 934.24L880.0 934.62L881.5 934.62L881.5 934.00L883.0 934.00L883.0 934.00L884.5 934.00L884.5 934.72L886.0 934.72L886.0 933.71L887.5 933.71L887.5 929.70L889.0 929.70L889.0 923.65L890.5 923.65L890.5 919.41L892.0 919.41L892.0 923.17L893.5 923.17L893.5 932.88L895.0 932.88L895.0 936.73L896.5 936.73L896.5 937.30L898.0 937.30L898.0 936.38L899.5 936.38L899.5 935.82L901.0 935.82L901.0 936.13L902.5 936.13L902.5 936.81L904.0 936.81L904.0 937.71L905.5 937.71L905.5 938.57L907.0 938.57L907.0 938.87L908.5 938.87L908.5 939.00L910.0 939.00L910.0 938.90L911.5 938.90L911.5 938.99L913.0 938.99L913.0 939.02L914.5 939.02L914.5 939.11L916.0 939.11L916.0 938.99L917.5 938.99L917.5 938.95L919.0 938.95L919.0 939.02L920.5 939.02L920.5 939.12L922.0 939.12L922.0 938.93L923.5 938.93L923.5 938.71L925.0 938.71L925.0 938.60L926.5 938.60L926.5 938.94L928.0 938.94L928.0 939.01L929.5 939.01L929.5 939.02L931.0 939.02L931.0 939.00L932.5 939.00L932.5 939.03L934.0 939.03L934.0 939.16L935.5 939.16L935.5 939.00L937.0 939.00L937.0 938.95L938.5 938.95L938.5 938.73L940.0 938.73L940.0 938.78L941.5 938.78L941.5 938.73L943.0 938.73L943.0 938.87L944.5 938.87L944.5 938.96L946.0 938.96L946.0 939.14L947.5 939.14L947.5 939.06L949.0 939.06L949.0 939.12L950.5 939.12L950.5 939.00L952.0 939.00L952.0 938.95L953.5 938.95L953.5 938.98L955.0 938.98L955.0 939.09L956.5 939.09L956.5 939.10L958.0 939.10L958.0 939.10L959.5 939.10L959.5 938.84L961.0 938.84L961.0 938.78L962.5 938.78L962.5 938.84L964.0 938.84L964.0 938.98L965.5 938.98L965.5 938.98L967.0 938.98L967.0 938.77L968.5 938.77L968.5 938.73L970.0 938.73L970.0 939.05L971.5 939.05L971.5 939.11L973.0 939.11L973.0 939.07L974.5 939.07L974.5 939.11L976.0 939.11L976.0 939.03L977.5 939.03L977.5 939.16L979.0 939.16L979.0 939.09L980.5 939.09L980.5 939.05L982.0 939.05L982.0 939.04L983.5 939.04L983.5 938.96L985.0 938.96L985.0 938.90L986.5 938.90L986.5 938.93L988.0 938.93L988.0 938.71L989.5 938.71L989.5 939.01L991.0 939.01L991.0 938.90L992.5 938.90L992.5 939.17L994.0 939.17L994.0 938.99L995.5 938.99L995.5 939.03L997.0 939.03L997.0 938.87L998.5 938.87L998.5 938.87L1000.0 938.87L1000.0 938.89L1001.5 938.89L1001.5 939.06L1003.0 939.06L1003.0 939.21L1004.4 939.21L1004.4 939.25Z" fill="#0000b2"/>
<rect x="146.50" y="938.55" width="857.90" height="1.50" fill="#65659c"/>
<text x="148.4" y="915.85" font-size="6.6" fill="#333" textLength="19" lengthAdjust="spacingAndGlyphs">[0 - 200]</text>
<path d="M146.5 971.40L146.5 971.03L148.0 971.03L148.0 970.90L149.5 970.90L149.5 971.01L151.0 971.01L151.0 971.02L152.5 971.02L152.5 971.12L154.0 971.12L154.0 970.98L155.5 970.98L155.5 971.21L157.0 971.21L157.0 971.35L158.5 971.35L158.5 971.38L160.0 971.38L160.0 971.29L161.5 971.29L161.5 971.24L163.0 971.24L163.0 971.20L164.5 971.20L164.5 971.31L166.0 971.31L166.0 971.15L167.5 971.15L167.5 970.99L169.0 970.99L169.0 970.95L170.5 970.95L170.5 970.88L172.0 970.88L172.0 971.21L173.5 971.21L173.5 971.08L175.0 971.08L175.0 971.11L176.5 971.11L176.5 971.06L178.0 971.06L178.0 971.06L179.5 971.06L179.5 971.09L181.0 971.09L181.0 970.67L182.5 970.67L182.5 970.66L184.0 970.66L184.0 970.38L185.5 970.38L185.5 969.86L187.0 969.86L187.0 969.22L188.5 969.22L188.5 968.31L190.0 968.31L190.0 967.69L191.5 967.69L191.5 966.64L193.0 966.64L193.0 965.86L194.5 965.86L194.5 965.14L196.0 965.14L196.0 965.43L197.5 965.43L197.5 965.21L199.0 965.21L199.0 965.16L200.5 965.16L200.5 965.75L202.0 965.75L202.0 965.89L203.5 965.89L203.5 965.75L205.0 965.75L205.0 963.46L206.5 963.46L206.5 957.11L208.0 957.11L208.0 950.92L209.5 950.92L209.5 950.99L211.0 950.99L211.0 947.24L212.5 947.24L212.5 949.85L214.0 949.85L214.0 953.48L215.5 953.48L215.5 958.63L217.0 958.63L217.0 957.75L218.5 957.75L218.5 955.63L220.0 955.63L220.0 948.80L221.5 948.80L221.5 946.40L223.0 946.40L223.0 946.40L224.5 946.40L224.5 949.04L226.0 949.04L226.0 955.93L227.5 955.93L227.5 960.98L229.0 960.98L229.0 962.33L230.5 962.33L230.5 962.20L232.0 962.20L232.0 962.25L233.5 962.25L233.5 962.09L235.0 962.09L235.0 962.14L236.5 962.14L236.5 962.76L238.0 962.76L238.0 964.26L239.5 964.26L239.5 964.48L241.0 964.48L241.0 965.68L242.5 965.68L242.5 965.77L244.0 965.77L244.0 966.37L245.5 966.37L245.5 966.60L247.0 966.60L247.0 966.59L248.5 966.59L248.5 966.77L250.0 966.77L250.0 966.78L251.5 966.78L251.5 967.21L253.0 967.21L253.0 967.06L254.5 967.06L254.5 967.10L256.0 967.10L256.0 967.37L257.5 967.37L257.5 967.72L259.0 967.72L259.0 967.54L260.5 967.54L260.5 967.52L262.0 967.52L262.0 968.08L263.5 968.08L263.5 968.32L265.0 968.32L265.0 968.62L266.5 968.62L266.5 969.09L268.0 969.09L268.0 969.56L269.5 969.56L269.5 969.77L271.0 969.77L271.0 970.17L272.5 970.17L272.5 970.75L274.0 970.75L274.0 971.01L275.5 971.01L275.5 971.18L277.0 971.18L277.0 971.27L278.5 971.27L278.5 971.33L280.0 971.33L280.0 971.26L281.5 971.26L281.5 971.16L283.0 971.16L283.0 970.95L284.5 970.95L284.5 970.91L286.0 970.91L286.0 970.78L287.5 970.78L287.5 971.11L289.0 971.11L289.0 971.11L290.5 971.11L290.5 971.31L292.0 971.31L292.0 971.11L293.5 971.11L293.5 971.14L295.0 971.14L295.0 970.91L296.5 970.91L296.5 971.07L298.0 971.07L298.0 971.29L299.5 971.29L299.5 971.38L301.0 971.38L301.0 971.35L302.5 971.35L302.5 971.33L304.0 971.33L304.0 971.23L305.5 971.23L305.5 971.31L307.0 971.31L307.0 971.33L308.5 971.33L308.5 971.36L310.0 971.36L310.0 971.28L311.5 971.28L311.5 971.20L313.0 971.20L313.0 971.17L314.5 971.17L314.5 971.24L316.0 971.24L316.0 971.22L317.5 971.22L317.5 971.19L319.0 971.19L319.0 971.20L320.5 971.20L320.5 971.06L322.0 971.06L322.0 970.96L323.5 970.96L323.5 971.05L325.0 971.05L325.0 971.26L326.5 971.26L326.5 971.36L328.0 971.36L328.0 971.34L329.5 971.34L329.5 971.37L331.0 971.37L331.0 971.29L332.5 971.29L332.5 971.23L334.0 971.23L334.0 971.10L335.5 971.10L335.5 971.02L337.0 971.02L337.0 971.05L338.5 971.05L338.5 970.91L340.0 970.91L340.0 970.76L341.5 970.76L341.5 970.46L343.0 970.46L343.0 970.21L344.5 970.21L344.5 970.13L346.0 970.13L346.0 969.41L347.5 969.41L347.5 969.07L349.0 969.07L349.0 968.79L350.5 968.79L350.5 968.51L352.0 968.51L352.0 968.03L353.5 968.03L353.5 967.84L355.0 967.84L355.0 967.65L356.5 967.65L356.5 967.44L358.0 967.44L358.0 966.52L359.5 966.52L359.5 965.83L361.0 965.83L361.0 964.03L362.5 964.03L362.5 963.26L364.0 963.26L364.0 962.45L365.5 962.45L365.5 962.02L367.0 962.02L367.0 962.38L368.5 962.38L368.5 961.09L370.0 961.09L370.0 960.08L371.5 960.08L371.5 958.31L373.0 958.31L373.0 956.13L374.5 956.13L374.5 955.18L376.0 955.18L376.0 954.91L377.5 954.91L377.5 956.12L379.0 956.12L379.0 956.15L380.5 956.15L380.5 958.32L382.0 958.32L382.0 956.71L383.5 956.71L383.5 956.42L385.0 956.42L385.0 957.20L386.5 957.20L386.5 957.13L388.0 957.13L388.0 960.88L389.5 960.88L389.5 962.67L391.0 962.67L391.0 963.17L392.5 963.17L392.5 964.72L394.0 964.72L394.0 964.22L395.5 964.22L395.5 964.89L397.0 964.89L397.0 965.79L398.5 965.79L398.5 965.64L400.0 965.64L400.0 966.27L401.5 966.27L401.5 967.06L403.0 967.06L403.0 967.09L404.5 967.09L404.5 967.23L406.0 967.23L406.0 967.62L407.5 967.62L407.5 967.79L409.0 967.79L409.0 968.85L410.5 968.85L410.5 969.53L412.0 969.53L412.0 970.24L413.5 970.24L413.5 970.23L415.0 970.23L415.0 970.05L416.5 970.05L416.5 969.08L418.0 969.08L418.0 968.42L419.5 968.42L419.5 967.28L421.0 967.28L421.0 966.07L422.5 966.07L422.5 965.52L424.0 965.52L424.0 966.79L425.5 966.79L425.5 967.38L427.0 967.38L427.0 968.34L428.5 968.34L428.5 969.01L430.0 969.01L430.0 969.50L431.5 969.50L431.5 969.67L433.0 969.67L433.0 969.80L434.5 969.80L434.5 969.76L436.0 969.76L436.0 969.36L437.5 969.36L437.5 969.51L439.0 969.51L439.0 969.38L440.5 969.38L440.5 969.42L442.0 969.42L442.0 969.31L443.5 969.31L443.5 969.37L445.0 969.37L445.0 969.79L446.5 969.79L446.5 969.93L448.0 969.93L448.0 970.01L449.5 970.01L449.5 970.36L451.0 970.36L451.0 970.50L452.5 970.50L452.5 970.75L454.0 970.75L454.0 970.92L455.5 970.92L455.5 970.88L457.0 970.88L457.0 970.83L458.5 970.83L458.5 970.92L460.0 970.92L460.0 971.18L461.5 971.18L461.5 971.29L463.0 971.29L463.0 971.23L464.5 971.23L464.5 971.23L466.0 971.23L466.0 971.21L467.5 971.21L467.5 971.15L469.0 971.15L469.0 971.22L470.5 971.22L470.5 971.21L472.0 971.21L472.0 971.34L473.5 971.34L473.5 971.27L475.0 971.27L475.0 971.32L476.5 971.32L476.5 971.16L478.0 971.16L478.0 971.03L479.5 971.03L479.5 970.72L481.0 970.72L481.0 970.92L482.5 970.92L482.5 971.04L484.0 971.04L484.0 971.28L485.5 971.28L485.5 971.20L487.0 971.20L487.0 971.16L488.5 971.16L488.5 971.06L490.0 971.06L490.0 971.20L491.5 971.20L491.5 971.20L493.0 971.20L493.0 971.10L494.5 971.10L494.5 970.89L496.0 970.89L496.0 971.09L497.5 971.09L497.5 971.25L499.0 971.25L499.0 971.35L500.5 971.35L500.5 971.37L502.0 971.37L502.0 971.39L503.5 971.39L503.5 971.39L505.0 971.39L505.0 971.37L506.5 971.37L506.5 971.31L508.0 971.31L508.0 971.10L509.5 971.10L509.5 971.14L511.0 971.14L511.0 971.22L512.5 971.22L512.5 971.21L514.0 971.21L514.0 971.29L515.5 971.29L515.5 971.25L517.0 971.25L517.0 971.29L518.5 971.29L518.5 971.23L520.0 971.23L520.0 971.01L521.5 971.01L521.5 971.02L523.0 971.02L523.0 971.02L524.5 971.02L524.5 971.06L526.0 971.06L526.0 970.99L527.5 970.99L527.5 970.90L529.0 970.90L529.0 971.18L530.5 971.18L530.5 971.36L532.0 971.36L532.0 971.31L533.5 971.31L533.5 971.10L535.0 971.10L535.0 970.87L536.5 970.87L536.5 970.89L538.0 970.89L538.0 970.94L539.5 970.94L539.5 971.11L541.0 971.11L541.0 971.27L542.5 971.27L542.5 971.25L544.0 971.25L544.0 971.06L545.5 971.06L545.5 970.97L547.0 970.97L547.0 971.19L548.5 971.19L548.5 971.35L550.0 971.35L550.0 971.36L551.5 971.36L551.5 971.23L553.0 971.23L553.0 971.17L554.5 971.17L554.5 971.14L556.0 971.14L556.0 971.16L557.5 971.16L557.5 970.81L559.0 970.81L559.0 970.29L560.5 970.29L560.5 969.38L562.0 969.38L562.0 968.22L563.5 968.22L563.5 966.76L565.0 966.76L565.0 966.09L566.5 966.09L566.5 966.50L568.0 966.50L568.0 967.00L569.5 967.00L569.5 967.18L571.0 967.18L571.0 965.66L572.5 965.66L572.5 962.24L574.0 962.24L574.0 958.28L575.5 958.28L575.5 960.84L577.0 960.84L577.0 966.57L578.5 966.57L578.5 970.10L580.0 970.10L580.0 970.91L581.5 970.91L581.5 971.10L583.0 971.10L583.0 971.27L584.5 971.27L584.5 971.21L586.0 971.21L586.0 971.31L587.5 971.31L587.5 971.24L589.0 971.24L589.0 971.14L590.5 971.14L590.5 970.83L592.0 970.83L592.0 970.94L593.5 970.94L593.5 971.08L595.0 971.08L595.0 971.18L596.5 971.18L596.5 971.28L598.0 971.28L598.0 971.16L599.5 971.16L599.5 971.12L601.0 971.12L601.0 971.08L602.5 971.08L602.5 971.23L604.0 971.23L604.0 971.30L605.5 971.30L605.5 971.13L607.0 971.13L607.0 971.02L608.5 971.02L608.5 971.11L610.0 971.11L610.0 971.08L611.5 971.08L611.5 970.98L613.0 970.98L613.0 970.66L614.5 970.66L614.5 970.91L616.0 970.91L616.0 971.10L617.5 971.10L617.5 971.24L619.0 971.24L619.0 971.09L620.5 971.09L620.5 971.08L622.0 971.08L622.0 970.84L623.5 970.84L623.5 971.17L625.0 971.17L625.0 971.29L626.5 971.29L626.5 971.36L628.0 971.36L628.0 971.36L629.5 971.36L629.5 971.33L631.0 971.33L631.0 971.38L632.5 971.38L632.5 971.39L634.0 971.39L634.0 971.37L635.5 971.37L635.5 971.37L637.0 971.37L637.0 971.35L638.5 971.35L638.5 971.32L640.0 971.32L640.0 971.29L641.5 971.29L641.5 971.28L643.0 971.28L643.0 971.33L644.5 971.33L644.5 971.33L646.0 971.33L646.0 971.28L647.5 971.28L647.5 971.17L649.0 971.17L649.0 971.24L650.5 971.24L650.5 971.25L652.0 971.25L652.0 971.30L653.5 971.30L653.5 971.04L655.0 971.04L655.0 970.96L656.5 970.96L656.5 971.07L658.0 971.07L658.0 971.18L659.5 971.18L659.5 971.11L661.0 971.11L661.0 970.81L662.5 970.81L662.5 970.73L664.0 970.73L664.0 971.10L665.5 971.10L665.5 971.27L667.0 971.27L667.0 971.33L668.5 971.33L668.5 971.28L670.0 971.28L670.0 971.18L671.5 971.18L671.5 971.18L673.0 971.18L673.0 970.93L674.5 970.93L674.5 971.21L676.0 971.21L676.0 971.11L677.5 971.11L677.5 971.33L679.0 971.33L679.0 971.22L680.5 971.22L680.5 971.35L682.0 971.35L682.0 971.31L683.5 971.31L683.5 971.29L685.0 971.29L685.0 971.05L686.5 971.05L686.5 971.17L688.0 971.17L688.0 971.23L689.5 971.23L689.5 971.38L691.0 971.38L691.0 971.27L692.5 971.27L692.5 971.32L694.0 971.32L694.0 971.30L695.5 971.30L695.5 971.29L697.0 971.29L697.0 971.31L698.5 971.31L698.5 971.13L700.0 971.13L700.0 971.28L701.5 971.28L701.5 970.97L703.0 970.97L703.0 971.24L704.5 971.24L704.5 971.28L706.0 971.28L706.0 971.37L707.5 971.37L707.5 971.34L709.0 971.34L709.0 971.22L710.5 971.22L710.5 971.27L712.0 971.27L712.0 971.26L713.5 971.26L713.5 971.37L715.0 971.37L715.0 971.39L716.5 971.39L716.5 971.40L718.0 971.40L718.0 971.38L719.5 971.38L719.5 971.25L721.0 971.25L721.0 971.08L722.5 971.08L722.5 971.13L724.0 971.13L724.0 971.25L725.5 971.25L725.5 971.19L727.0 971.19L727.0 970.99L728.5 970.99L728.5 971.13L730.0 971.13L730.0 971.17L731.5 971.17L731.5 971.31L733.0 971.31L733.0 971.08L734.5 971.08L734.5 971.05L736.0 971.05L736.0 970.92L737.5 970.92L737.5 971.04L739.0 971.04L739.0 971.02L740.5 971.02L740.5 971.20L742.0 971.20L742.0 971.29L743.5 971.29L743.5 971.39L745.0 971.39L745.0 971.38L746.5 971.38L746.5 971.30L748.0 971.30L748.0 971.16L749.5 971.16L749.5 971.14L751.0 971.14L751.0 971.31L752.5 971.31L752.5 971.33L754.0 971.33L754.0 971.35L755.5 971.35L755.5 971.25L757.0 971.25L757.0 971.26L758.5 971.26L758.5 971.27L760.0 971.27L760.0 971.33L761.5 971.33L761.5 971.32L763.0 971.32L763.0 971.14L764.5 971.14L764.5 971.22L766.0 971.22L766.0 971.27L767.5 971.27L767.5 971.32L769.0 971.32L769.0 971.29L770.5 971.29L770.5 971.31L772.0 971.31L772.0 971.26L773.5 971.26L773.5 971.13L775.0 971.13L775.0 970.83L776.5 970.83L776.5 970.87L778.0 970.87L778.0 971.05L779.5 971.05L779.5 971.06L781.0 971.06L781.0 971.21L782.5 971.21L782.5 971.30L784.0 971.30L784.0 971.38L785.5 971.38L785.5 971.35L787.0 971.35L787.0 971.33L788.5 971.33L788.5 971.29L790.0 971.29L790.0 971.22L791.5 971.22L791.5 971.08L793.0 971.08L793.0 971.17L794.5 971.17L794.5 971.33L796.0 971.33L796.0 971.39L797.5 971.39L797.5 971.40L799.0 971.40L799.0 971.39L800.5 971.39L800.5 971.32L802.0 971.32L802.0 971.11L803.5 971.11L803.5 971.06L805.0 971.06L805.0 971.27L806.5 971.27L806.5 971.32L808.0 971.32L808.0 971.19L809.5 971.19L809.5 971.20L811.0 971.20L811.0 971.18L812.5 971.18L812.5 971.16L814.0 971.16L814.0 971.05L815.5 971.05L815.5 971.07L817.0 971.07L817.0 971.13L818.5 971.13L818.5 971.00L820.0 971.00L820.0 971.16L821.5 971.16L821.5 971.17L823.0 971.17L823.0 971.19L824.5 971.19L824.5 971.02L826.0 971.02L826.0 971.09L827.5 971.09L827.5 971.00L829.0 971.00L829.0 971.03L830.5 971.03L830.5 970.89L832.0 970.89L832.0 971.17L833.5 971.17L833.5 971.31L835.0 971.31L835.0 971.39L836.5 971.39L836.5 971.36L838.0 971.36L838.0 971.24L839.5 971.24L839.5 970.96L841.0 970.96L841.0 971.14L842.5 971.14L842.5 971.29L844.0 971.29L844.0 971.32L845.5 971.32L845.5 971.18L847.0 971.18L847.0 971.01L848.5 971.01L848.5 970.90L850.0 970.90L850.0 970.81L851.5 970.81L851.5 970.48L853.0 970.48L853.0 970.11L854.5 970.11L854.5 969.33L856.0 969.33L856.0 968.88L857.5 968.88L857.5 968.43L859.0 968.43L859.0 967.39L860.5 967.39L860.5 966.89L862.0 966.89L862.0 965.98L863.5 965.98L863.5 965.56L865.0 965.56L865.0 964.58L866.5 964.58L866.5 964.17L868.0 964.17L868.0 964.71L869.5 964.71L869.5 964.88L871.0 964.88L871.0 965.17L872.5 965.17L872.5 965.42L874.0 965.42L874.0 966.36L875.5 966.36L875.5 966.99L877.0 966.99L877.0 967.18L878.5 967.18L878.5 967.23L880.0 967.23L880.0 967.43L881.5 967.43L881.5 967.40L883.0 967.40L883.0 967.20L884.5 967.20L884.5 967.11L886.0 967.11L886.0 967.10L887.5 967.10L887.5 965.44L889.0 965.44L889.0 959.81L890.5 959.81L890.5 953.06L892.0 953.06L892.0 954.56L893.5 954.56L893.5 963.42L895.0 963.42L895.0 968.16L896.5 968.16L896.5 969.45L898.0 969.45L898.0 968.72L899.5 968.72L899.5 968.09L901.0 968.09L901.0 968.46L902.5 968.46L902.5 968.72L904.0 968.72L904.0 970.13L905.5 970.13L905.5 970.63L907.0 970.63L907.0 971.13L908.5 971.13L908.5 971.08L910.0 971.08L910.0 971.21L911.5 971.21L911.5 971.10L913.0 971.10L913.0 971.23L914.5 971.23L914.5 971.26L916.0 971.26L916.0 971.22L917.5 971.22L917.5 971.05L919.0 971.05L919.0 971.21L920.5 971.21L920.5 971.32L922.0 971.32L922.0 971.35L923.5 971.35L923.5 971.32L925.0 971.32L925.0 971.21L926.5 971.21L926.5 971.27L928.0 971.27L928.0 971.32L929.5 971.32L929.5 971.27L931.0 971.27L931.0 971.31L932.5 971.31L932.5 971.25L934.0 971.25L934.0 971.27L935.5 971.27L935.5 971.03L937.0 971.03L937.0 970.79L938.5 970.79L938.5 970.69L940.0 970.69L940.0 970.99L941.5 970.99L941.5 971.21L943.0 971.21L943.0 971.32L944.5 971.32L944.5 971.20L946.0 971.20L946.0 971.06L947.5 971.06L947.5 970.99L949.0 970.99L949.0 971.04L950.5 971.04L950.5 971.19L952.0 971.19L952.0 971.21L953.5 971.21L953.5 971.28L955.0 971.28L955.0 971.08L956.5 971.08L956.5 971.17L958.0 971.17L958.0 971.13L959.5 971.13L959.5 971.21L961.0 971.21L961.0 971.08L962.5 971.08L962.5 970.98L964.0 970.98L964.0 970.93L965.5 970.93L965.5 971.15L967.0 971.15L967.0 971.09L968.5 971.09L968.5 971.29L970.0 971.29L970.0 971.13L971.5 971.13L971.5 971.31L973.0 971.31L973.0 971.29L974.5 971.29L974.5 971.36L976.0 971.36L976.0 971.38L977.5 971.38L977.5 971.36L979.0 971.36L979.0 971.26L980.5 971.26L980.5 971.04L982.0 971.04L982.0 970.97L983.5 970.97L983.5 971.15L985.0 971.15L985.0 971.21L986.5 971.21L986.5 971.23L988.0 971.23L988.0 971.31L989.5 971.31L989.5 971.34L991.0 971.34L991.0 971.23L992.5 971.23L992.5 970.92L994.0 970.92L994.0 970.84L995.5 970.84L995.5 970.86L997.0 970.86L997.0 971.10L998.5 971.10L998.5 971.03L1000.0 971.03L1000.0 971.03L1001.5 971.03L1001.5 970.80L1003.0 970.80L1003.0 970.76L1004.4 970.76L1004.4 971.40Z" fill="#0000b2"/>
<rect x="146.50" y="970.70" width="857.90" height="1.50" fill="#65659c"/>
<text x="148.4" y="948.00" font-size="6.6" fill="#333" textLength="19" lengthAdjust="spacingAndGlyphs">[0 - 200]</text>
<path d="M146.5 1003.55L146.5 1003.55L148.0 1003.55L148.0 1003.55L149.5 1003.55L149.5 1003.55L151.0 1003.55L151.0 1003.55L152.5 1003.55L152.5 1003.55L154.0 1003.55L154.0 1003.55L155.5 1003.55L155.5 1003.55L157.0 1003.55L157.0 1003.55L158.5 1003.55L158.5 1003.55L160.0 1003.55L160.0 1003.55L161.5 1003.55L161.5 1003.55L163.0 1003.55L163.0 1003.55L164.5 1003.55L164.5 1003.55L166.0 1003.55L166.0 1003.55L167.5 1003.55L167.5 1003.55L169.0 1003.55L169.0 1003.55L170.5 1003.55L170.5 1003.55L172.0 1003.55L172.0 1003.55L173.5 1003.55L173.5 1003.55L175.0 1003.55L175.0 1003.55L176.5 1003.55L176.5 1003.55L178.0 1003.55L178.0 1003.54L179.5 1003.54L179.5 1003.54L181.0 1003.54L181.0 1003.52L182.5 1003.52L182.5 1003.48L184.0 1003.48L184.0 1003.41L185.5 1003.41L185.5 1003.28L187.0 1003.28L187.0 1003.07L188.5 1003.07L188.5 1002.75L190.0 1002.75L190.0 1002.34L191.5 1002.34L191.5 1001.82L193.0 1001.82L193.0 1000.85L194.5 1000.85L194.5 1000.03L196.0 1000.03L196.0 999.58L197.5 999.58L197.5 998.78L199.0 998.78L199.0 998.26L200.5 998.26L200.5 997.57L202.0 997.57L202.0 997.46L203.5 997.46L203.5 995.18L205.0 995.18L205.0 992.20L206.5 992.20L206.5 986.85L208.0 986.85L208.0 986.01L209.5 986.01L209.5 986.28L211.0 986.28L211.0 986.91L212.5 986.91L212.5 989.69L214.0 989.69L214.0 992.68L215.5 992.68L215.5 992.97L217.0 992.97L217.0 989.38L218.5 989.38L218.5 986.17L220.0 986.17L220.0 983.89L221.5 983.89L221.5 983.46L223.0 983.46L223.0 988.46L224.5 988.46L224.5 991.49L226.0 991.49L226.0 995.06L227.5 995.06L227.5 996.41L229.0 996.41L229.0 996.17L230.5 996.17L230.5 996.72L232.0 996.72L232.0 996.17L233.5 996.17L233.5 997.04L235.0 997.04L235.0 997.29L236.5 997.29L236.5 998.32L238.0 998.32L238.0 998.90L239.5 998.90L239.5 999.31L241.0 999.31L241.0 999.53L242.5 999.53L242.5 999.94L244.0 999.94L244.0 1000.09L245.5 1000.09L245.5 1000.39L247.0 1000.39L247.0 1000.66L248.5 1000.66L248.5 1000.83L250.0 1000.83L250.0 1000.82L251.5 1000.82L251.5 1001.41L253.0 1001.41L253.0 1001.42L254.5 1001.42L254.5 1001.82L256.0 1001.82L256.0 1002.16L257.5 1002.16L257.5 1002.41L259.0 1002.41L259.0 1002.66L260.5 1002.66L260.5 1002.87L262.0 1002.87L262.0 1003.05L263.5 1003.05L263.5 1003.19L265.0 1003.19L265.0 1003.30L266.5 1003.30L266.5 1003.38L268.0 1003.38L268.0 1003.44L269.5 1003.44L269.5 1003.48L271.0 1003.48L271.0 1003.50L272.5 1003.50L272.5 1003.52L274.0 1003.52L274.0 1003.53L275.5 1003.53L275.5 1003.54L277.0 1003.54L277.0 1003.54L278.5 1003.54L278.5 1003.55L280.0 1003.55L280.0 1003.55L281.5 1003.55L281.5 1003.55L283.0 1003.55L283.0 1003.55L284.5 1003.55L284.5 1003.55L286.0 1003.55L286.0 1003.55L287.5 1003.55L287.5 1003.55L289.0 1003.55L289.0 1003.55L290.5 1003.55L290.5 1003.55L292.0 1003.55L292.0 1003.55L293.5 1003.55L293.5 1003.55L295.0 1003.55L295.0 1003.55L296.5 1003.55L296.5 1003.55L298.0 1003.55L298.0 1003.55L299.5 1003.55L299.5 1003.55L301.0 1003.55L301.0 1003.55L302.5 1003.55L302.5 1003.55L304.0 1003.55L304.0 1003.55L305.5 1003.55L305.5 1003.55L307.0 1003.55L307.0 1003.55L308.5 1003.55L308.5 1003.55L310.0 1003.55L310.0 1003.55L311.5 1003.55L311.5 1003.55L313.0 1003.55L313.0 1003.55L314.5 1003.55L314.5 1003.55L316.0 1003.55L316.0 1003.55L317.5 1003.55L317.5 1003.55L319.0 1003.55L319.0 1003.55L320.5 1003.55L320.5 1003.55L322.0 1003.55L322.0 1003.55L323.5 1003.55L323.5 1003.55L325.0 1003.55L325.0 1003.55L326.5 1003.55L326.5 1003.55L328.0 1003.55L328.0 1003.55L329.5 1003.55L329.5 1003.55L331.0 1003.55L331.0 1003.55L332.5 1003.55L332.5 1003.55L334.0 1003.55L334.0 1003.55L335.5 1003.55L335.5 1003.55L337.0 1003.55L337.0 1003.55L338.5 1003.55L338.5 1003.55L340.0 1003.55L340.0 1003.55L341.5 1003.55L341.5 1003.55L343.0 1003.55L343.0 1003.54L344.5 1003.54L344.5 1003.54L346.0 1003.54L346.0 1003.52L347.5 1003.52L347.5 1003.48L349.0 1003.48L349.0 1003.41L350.5 1003.41L350.5 1003.28L352.0 1003.28L352.0 1003.07L353.5 1003.07L353.5 1002.75L355.0 1002.75L355.0 1002.32L356.5 1002.32L356.5 1001.65L358.0 1001.65L358.0 1000.92L359.5 1000.92L359.5 1000.04L361.0 1000.04L361.0 999.55L362.5 999.55L362.5 998.84L364.0 998.84L364.0 998.80L365.5 998.80L365.5 998.23L367.0 998.23L367.0 998.78L368.5 998.78L368.5 998.07L370.0 998.07L370.0 997.72L371.5 997.72L371.5 997.39L373.0 997.39L373.0 996.47L374.5 996.47L374.5 994.75L376.0 994.75L376.0 992.24L377.5 992.24L377.5 991.84L379.0 991.84L379.0 990.11L380.5 990.11L380.5 990.12L382.0 990.12L382.0 989.64L383.5 989.64L383.5 989.81L385.0 989.81L385.0 989.17L386.5 989.17L386.5 991.84L388.0 991.84L388.0 995.12L389.5 995.12L389.5 997.35L391.0 997.35L391.0 999.44L392.5 999.44L392.5 999.74L394.0 999.74L394.0 1000.05L395.5 1000.05L395.5 999.52L397.0 999.52L397.0 999.48L398.5 999.48L398.5 999.07L400.0 999.07L400.0 999.71L401.5 999.71L401.5 999.99L403.0 999.99L403.0 999.93L404.5 999.93L404.5 1000.42L406.0 1000.42L406.0 1001.03L407.5 1001.03L407.5 1001.40L409.0 1001.40L409.0 1001.43L410.5 1001.43L410.5 1001.50L412.0 1001.50L412.0 1001.50L413.5 1001.50L413.5 1001.27L415.0 1001.27L415.0 1001.42L416.5 1001.42L416.5 1001.21L418.0 1001.21L418.0 1001.03L419.5 1001.03L419.5 1001.05L421.0 1001.05L421.0 1001.09L422.5 1001.09L422.5 1001.08L424.0 1001.08L424.0 1001.36L425.5 1001.36L425.5 1001.40L427.0 1001.40L427.0 1001.73L428.5 1001.73L428.5 1001.87L430.0 1001.87L430.0 1002.15L431.5 1002.15L431.5 1002.30L433.0 1002.30L433.0 1002.56L434.5 1002.56L434.5 1002.68L436.0 1002.68L436.0 1002.85L437.5 1002.85L437.5 1003.01L439.0 1003.01L439.0 1003.14L440.5 1003.14L440.5 1003.24L442.0 1003.24L442.0 1003.33L443.5 1003.33L443.5 1003.39L445.0 1003.39L445.0 1003.44L446.5 1003.44L446.5 1003.48L448.0 1003.48L448.0 1003.50L449.5 1003.50L449.5 1003.52L451.0 1003.52L451.0 1003.53L452.5 1003.53L452.5 1003.54L454.0 1003.54L454.0 1003.54L455.5 1003.54L455.5 1003.55L457.0 1003.55L457.0 1003.55L458.5 1003.55L458.5 1003.55L460.0 1003.55L460.0 1003.55L461.5 1003.55L461.5 1003.55L463.0 1003.55L463.0 1003.55L464.5 1003.55L464.5 1003.55L466.0 1003.55L466.0 1003.55L467.5 1003.55L467.5 1003.55L469.0 1003.55L469.0 1003.55L470.5 1003.55L470.5 1003.55L472.0 1003.55L472.0 1003.55L473.5 1003.55L473.5 1003.55L475.0 1003.55L475.0 1003.55L476.5 1003.55L476.5 1003.55L478.0 1003.55L478.0 1003.55L479.5 1003.55L479.5 1003.55L481.0 1003.55L481.0 1003.55L482.5 1003.55L482.5 1003.55L484.0 1003.55L484.0 1003.55L485.5 1003.55L485.5 1003.55L487.0 1003.55L487.0 1003.55L488.5 1003.55L488.5 1003.55L490.0 1003.55L490.0 1003.55L491.5 1003.55L491.5 1003.55L493.0 1003.55L493.0 1003.55L494.5 1003.55L494.5 1003.55L496.0 1003.55L496.0 1003.55L497.5 1003.55L497.5 1003.55L499.0 1003.55L499.0 1003.55L500.5 1003.55L500.5 1003.55L502.0 1003.55L502.0 1003.55L503.5 1003.55L503.5 1003.55L505.0 1003.55L505.0 1003.55L506.5 1003.55L506.5 1003.55L508.0 1003.55L508.0 1003.55L509.5 1003.55L509.5 1003.55L511.0 1003.55L511.0 1003.55L512.5 1003.55L512.5 1003.55L514.0 1003.55L514.0 1003.55L515.5 1003.55L515.5 1003.55L517.0 1003.55L517.0 1003.55L518.5 1003.55L518.5 1003.55L520.0 1003.55L520.0 1003.55L521.5 1003.55L521.5 1003.55L523.0 1003.55L523.0 1003.55L524.5 1003.55L524.5 1003.55L526.0 1003.55L526.0 1003.55L527.5 1003.55L527.5 1003.55L529.0 1003.55L529.0 1003.55L530.5 1003.55L530.5 1003.55L532.0 1003.55L532.0 1003.55L533.5 1003.55L533.5 1003.55L535.0 1003.55L535.0 1003.55L536.5 1003.55L536.5 1003.55L538.0 1003.55L538.0 1003.55L539.5 1003.55L539.5 1003.55L541.0 1003.55L541.0 1003.55L542.5 1003.55L542.5 1003.55L544.0 1003.55L544.0 1003.55L545.5 1003.55L545.5 1003.55L547.0 1003.55L547.0 1003.55L548.5 1003.55L548.5 1003.55L550.0 1003.55L550.0 1003.55L551.5 1003.55L551.5 1003.55L553.0 1003.55L553.0 1003.55L554.5 1003.55L554.5 1003.55L556.0 1003.55L556.0 1003.55L557.5 1003.55L557.5 1003.53L559.0 1003.53L559.0 1003.45L560.5 1003.45L560.5 1003.11L562.0 1003.11L562.0 1002.05L563.5 1002.05L563.5 1000.30L565.0 1000.30L565.0 999.27L566.5 999.27L566.5 998.92L568.0 998.92L568.0 999.55L569.5 999.55L569.5 1001.01L571.0 1001.01L571.0 1001.19L572.5 1001.19L572.5 999.77L574.0 999.77L574.0 998.42L575.5 998.42L575.5 997.73L577.0 997.73L577.0 999.25L578.5 999.25L578.5 1001.55L580.0 1001.55L580.0 1002.81L581.5 1002.81L581.5 1003.36L583.0 1003.36L583.0 1003.52L584.5 1003.52L584.5 1003.55L586.0 1003.55L586.0 1003.55L587.5 1003.55L587.5 1003.55L589.0 1003.55L589.0 1003.55L590.5 1003.55L590.5 1003.55L592.0 1003.55L592.0 1003.55L593.5 1003.55L593.5 1003.55L595.0 1003.55L595.0 1003.55L596.5 1003.55L596.5 1003.55L598.0 1003.55L598.0 1003.55L599.5 1003.55L599.5 1003.55L601.0 1003.55L601.0 1003.55L602.5 1003.55L602.5 1003.55L604.0 1003.55L604.0 1003.55L605.5 1003.55L605.5 1003.55L607.0 1003.55L607.0 1003.55L608.5 1003.55L608.5 1003.55L610.0 1003.55L610.0 1003.55L611.5 1003.55L611.5 1003.55L613.0 1003.55L613.0 1003.55L614.5 1003.55L614.5 1003.55L616.0 1003.55L616.0 1003.55L617.5 1003.55L617.5 1003.55L619.0 1003.55L619.0 1003.55L620.5 1003.55L620.5 1003.55L622.0 1003.55L622.0 1003.55L623.5 1003.55L623.5 1003.55L625.0 1003.55L625.0 1003.55L626.5 1003.55L626.5 1003.55L628.0 1003.55L628.0 1003.55L629.5 1003.55L629.5 1003.55L631.0 1003.55L631.0 1003.55L632.5 1003.55L632.5 1003.55L634.0 1003.55L634.0 1003.55L635.5 1003.55L635.5 1003.55L637.0 1003.55L637.0 1003.55L638.5 1003.55L638.5 1003.55L640.0 1003.55L640.0 1003.55L641.5 1003.55L641.5 1003.55L643.0 1003.55L643.0 1003.55L644.5 1003.55L644.5 1003.55L646.0 1003.55L646.0 1003.55L647.5 1003.55L647.5 1003.55L649.0 1003.55L649.0 1003.55L650.5 1003.55L650.5 1003.55L652.0 1003.55L652.0 1003.55L653.5 1003.55L653.5 1003.55L655.0 1003.55L655.0 1003.55L656.5 1003.55L656.5 1003.55L658.0 1003.55L658.0 1003.55L659.5 1003.55L659.5 1003.55L661.0 1003.55L661.0 1003.55L662.5 1003.55L662.5 1003.55L664.0 1003.55L664.0 1003.55L665.5 1003.55L665.5 1003.55L667.0 1003.55L667.0 1003.55L668.5 1003.55L668.5 1003.55L670.0 1003.55L670.0 1003.55L671.5 1003.55L671.5 1003.55L673.0 1003.55L673.0 1003.55L674.5 1003.55L674.5 1003.55L676.0 1003.55L676.0 1003.55L677.5 1003.55L677.5 1003.55L679.0 1003.55L679.0 1003.55L680.5 1003.55L680.5 1003.55L682.0 1003.55L682.0 1003.55L683.5 1003.55L683.5 1003.55L685.0 1003.55L685.0 1003.55L686.5 1003.55L686.5 1003.55L688.0 1003.55L688.0 1003.55L689.5 1003.55L689.5 1003.55L691.0 1003.55L691.0 1003.55L692.5 1003.55L692.5 1003.55L694.0 1003.55L694.0 1003.55L695.5 1003.55L695.5 1003.55L697.0 1003.55L697.0 1003.55L698.5 1003.55L698.5 1003.55L700.0 1003.55L700.0 1003.55L701.5 1003.55L701.5 1003.55L703.0 1003.55L703.0 1003.55L704.5 1003.55L704.5 1003.55L706.0 1003.55L706.0 1003.55L707.5 1003.55L707.5 1003.55L709.0 1003.55L709.0 1003.55L710.5 1003.55L710.5 1003.55L712.0 1003.55L712.0 1003.55L713.5 1003.55L713.5 1003.55L715.0 1003.55L715.0 1003.55L716.5 1003.55L716.5 1003.55L718.0 1003.55L718.0 1003.55L719.5 1003.55L719.5 1003.55L721.0 1003.55L721.0 1003.55L722.5 1003.55L722.5 1003.55L724.0 1003.55L724.0 1003.55L725.5 1003.55L725.5 1003.55L727.0 1003.55L727.0 1003.55L728.5 1003.55L728.5 1003.55L730.0 1003.55L730.0 1003.55L731.5 1003.55L731.5 1003.55L733.0 1003.55L733.0 1003.55L734.5 1003.55L734.5 1003.55L736.0 1003.55L736.0 1003.55L737.5 1003.55L737.5 1003.55L739.0 1003.55L739.0 1003.55L740.5 1003.55L740.5 1003.55L742.0 1003.55L742.0 1003.55L743.5 1003.55L743.5 1003.55L745.0 1003.55L745.0 1003.55L746.5 1003.55L746.5 1003.55L748.0 1003.55L748.0 1003.55L749.5 1003.55L749.5 1003.55L751.0 1003.55L751.0 1003.55L752.5 1003.55L752.5 1003.55L754.0 1003.55L754.0 1003.55L755.5 1003.55L755.5 1003.55L757.0 1003.55L757.0 1003.55L758.5 1003.55L758.5 1003.55L760.0 1003.55L760.0 1003.55L761.5 1003.55L761.5 1003.55L763.0 1003.55L763.0 1003.55L764.5 1003.55L764.5 1003.55L766.0 1003.55L766.0 1003.55L767.5 1003.55L767.5 1003.55L769.0 1003.55L769.0 1003.55L770.5 1003.55L770.5 1003.55L772.0 1003.55L772.0 1003.55L773.5 1003.55L773.5 1003.55L775.0 1003.55L775.0 1003.55L776.5 1003.55L776.5 1003.55L778.0 1003.55L778.0 1003.55L779.5 1003.55L779.5 1003.55L781.0 1003.55L781.0 1003.55L782.5 1003.55L782.5 1003.55L784.0 1003.55L784.0 1003.55L785.5 1003.55L785.5 1003.55L787.0 1003.55L787.0 1003.55L788.5 1003.55L788.5 1003.55L790.0 1003.55L790.0 1003.55L791.5 1003.55L791.5 1003.55L793.0 1003.55L793.0 1003.55L794.5 1003.55L794.5 1003.55L796.0 1003.55L796.0 1003.55L797.5 1003.55L797.5 1003.55L799.0 1003.55L799.0 1003.55L800.5 1003.55L800.5 1003.55L802.0 1003.55L802.0 1003.55L803.5 1003.55L803.5 1003.55L805.0 1003.55L805.0 1003.55L806.5 1003.55L806.5 1003.55L808.0 1003.55L808.0 1003.55L809.5 1003.55L809.5 1003.55L811.0 1003.55L811.0 1003.55L812.5 1003.55L812.5 1003.55L814.0 1003.55L814.0 1003.55L815.5 1003.55L815.5 1003.55L817.0 1003.55L817.0 1003.55L818.5 1003.55L818.5 1003.55L820.0 1003.55L820.0 1003.55L821.5 1003.55L821.5 1003.55L823.0 1003.55L823.0 1003.55L824.5 1003.55L824.5 1003.55L826.0 1003.55L826.0 1003.55L827.5 1003.55L827.5 1003.55L829.0 1003.55L829.0 1003.55L830.5 1003.55L830.5 1003.55L832.0 1003.55L832.0 1003.55L833.5 1003.55L833.5 1003.55L835.0 1003.55L835.0 1003.55L836.5 1003.55L836.5 1003.55L838.0 1003.55L838.0 1003.55L839.5 1003.55L839.5 1003.55L841.0 1003.55L841.0 1003.55L842.5 1003.55L842.5 1003.54L844.0 1003.54L844.0 1003.53L845.5 1003.53L845.5 1003.52L847.0 1003.52L847.0 1003.49L848.5 1003.49L848.5 1003.43L850.0 1003.43L850.0 1003.34L851.5 1003.34L851.5 1003.20L853.0 1003.20L853.0 1002.98L854.5 1002.98L854.5 1002.66L856.0 1002.66L856.0 1002.24L857.5 1002.24L857.5 1001.70L859.0 1001.70L859.0 1000.87L860.5 1000.87L860.5 1000.27L862.0 1000.27L862.0 999.71L863.5 999.71L863.5 998.70L865.0 998.70L865.0 998.48L866.5 998.48L866.5 997.88L868.0 997.88L868.0 998.02L869.5 998.02L869.5 998.03L871.0 998.03L871.0 998.32L872.5 998.32L872.5 999.19L874.0 999.19L874.0 999.35L875.5 999.35L875.5 999.83L877.0 999.83L877.0 1000.63L878.5 1000.63L878.5 1000.67L880.0 1000.67L880.0 1000.36L881.5 1000.36L881.5 1000.28L883.0 1000.28L883.0 1000.32L884.5 1000.32L884.5 1000.31L886.0 1000.31L886.0 1000.60L887.5 1000.60L887.5 999.48L889.0 999.48L889.0 995.62L890.5 995.62L890.5 990.35L892.0 990.35L892.0 986.84L893.5 986.84L893.5 990.99L895.0 990.99L895.0 998.39L896.5 998.39L896.5 1001.31L898.0 1001.31L898.0 1001.50L899.5 1001.50L899.5 1001.12L901.0 1001.12L901.0 1001.06L902.5 1001.06L902.5 1001.65L904.0 1001.65L904.0 1002.44L905.5 1002.44L905.5 1003.08L907.0 1003.08L907.0 1003.39L908.5 1003.39L908.5 1003.50L910.0 1003.50L910.0 1003.54L911.5 1003.54L911.5 1003.55L913.0 1003.55L913.0 1003.55L914.5 1003.55L914.5 1003.55L916.0 1003.55L916.0 1003.55L917.5 1003.55L917.5 1003.55L919.0 1003.55L919.0 1003.55L920.5 1003.55L920.5 1003.55L922.0 1003.55L922.0 1003.55L923.5 1003.55L923.5 1003.55L925.0 1003.55L925.0 1003.55L926.5 1003.55L926.5 1003.55L928.0 1003.55L928.0 1003.55L929.5 1003.55L929.5 1003.55L931.0 1003.55L931.0 1003.55L932.5 1003.55L932.5 1003.55L934.0 1003.55L934.0 1003.55L935.5 1003.55L935.5 1003.55L937.0 1003.55L937.0 1003.55L938.5 1003.55L938.5 1003.55L940.0 1003.55L940.0 1003.55L941.5 1003.55L941.5 1003.55L943.0 1003.55L943.0 1003.55L944.5 1003.55L944.5 1003.55L946.0 1003.55L946.0 1003.55L947.5 1003.55L947.5 1003.55L949.0 1003.55L949.0 1003.55L950.5 1003.55L950.5 1003.55L952.0 1003.55L952.0 1003.55L953.5 1003.55L953.5 1003.55L955.0 1003.55L955.0 1003.55L956.5 1003.55L956.5 1003.55L958.0 1003.55L958.0 1003.55L959.5 1003.55L959.5 1003.55L961.0 1003.55L961.0 1003.55L962.5 1003.55L962.5 1003.55L964.0 1003.55L964.0 1003.55L965.5 1003.55L965.5 1003.55L967.0 1003.55L967.0 1003.55L968.5 1003.55L968.5 1003.55L970.0 1003.55L970.0 1003.55L971.5 1003.55L971.5 1003.55L973.0 1003.55L973.0 1003.55L974.5 1003.55L974.5 1003.55L976.0 1003.55L976.0 1003.55L977.5 1003.55L977.5 1003.55L979.0 1003.55L979.0 1003.55L980.5 1003.55L980.5 1003.55L982.0 1003.55L982.0 1003.55L983.5 1003.55L983.5 1003.55L985.0 1003.55L985.0 1003.55L986.5 1003.55L986.5 1003.55L988.0 1003.55L988.0 1003.55L989.5 1003.55L989.5 1003.55L991.0 1003.55L991.0 1003.55L992.5 1003.55L992.5 1003.55L994.0 1003.55L994.0 1003.55L995.5 1003.55L995.5 1003.55L997.0 1003.55L997.0 1003.55L998.5 1003.55L998.5 1003.55L1000.0 1003.55L1000.0 1003.55L1001.5 1003.55L1001.5 1003.55L1003.0 1003.55L1003.0 1003.55L1004.4 1003.55L1004.4 1003.55Z" fill="#0000b2"/>
<rect x="146.50" y="1003.05" width="3.44" height="1.10" fill="#0000b2"/>
<rect x="180.45" y="1003.05" width="6.86" height="1.10" fill="#0000b2"/>
<rect x="203.02" y="1003.05" width="4.61" height="1.10" fill="#0000b2"/>
<rect x="216.26" y="1003.05" width="4.54" height="1.10" fill="#0000b2"/>
<rect x="296.61" y="1003.05" width="2.13" height="1.10" fill="#0000b2"/>
<rect x="306.73" y="1003.05" width="4.45" height="1.10" fill="#0000b2"/>
<rect x="336.64" y="1003.05" width="7.63" height="1.10" fill="#0000b2"/>
<rect x="458.53" y="1003.05" width="2.69" height="1.10" fill="#0000b2"/>
<rect x="476.95" y="1003.05" width="4.27" height="1.10" fill="#0000b2"/>
<rect x="504.40" y="1003.05" width="5.75" height="1.10" fill="#0000b2"/>
<rect x="585.15" y="1003.05" width="4.21" height="1.10" fill="#0000b2"/>
<rect x="621.50" y="1003.05" width="2.65" height="1.10" fill="#0000b2"/>
<rect x="706.97" y="1003.05" width="5.39" height="1.10" fill="#0000b2"/>
<rect x="725.50" y="1003.05" width="3.23" height="1.10" fill="#0000b2"/>
<rect x="759.50" y="1003.05" width="6.24" height="1.10" fill="#0000b2"/>
<rect x="808.32" y="1003.05" width="4.40" height="1.10" fill="#0000b2"/>
<rect x="853.18" y="1003.05" width="5.66" height="1.10" fill="#0000b2"/>
<rect x="903.12" y="1003.05" width="5.42" height="1.10" fill="#0000b2"/>
<text x="148.4" y="980.15" font-size="6.6" fill="#333" textLength="19" lengthAdjust="spacingAndGlyphs">[0 - 200]</text>
<text x="1006.17" y="764.70" font-size="14.4" textLength="71.40" lengthAdjust="spacingAndGlyphs">697 GR 24hr</text>
<text x="1006.17" y="796.85" font-size="14.4" textLength="64.46" lengthAdjust="spacingAndGlyphs">697 GR 6hr</text>
<text x="1006.17" y="829.00" font-size="14.4" textLength="85.95" lengthAdjust="spacingAndGlyphs">697 ATAC 24hr</text>
<text x="1006.17" y="861.15" font-size="14.4" textLength="79.02" lengthAdjust="spacingAndGlyphs">697 ATAC 6hr</text>
<text x="1006.17" y="893.30" font-size="14.4" textLength="79.02" lengthAdjust="spacingAndGlyphs">697 ATAC 0hr</text>
<text x="1006.17" y="925.45" font-size="14.4" textLength="104.00" lengthAdjust="spacingAndGlyphs">697 H3K27ac 24hr</text>
<text x="1006.17" y="957.60" font-size="14.4" textLength="97.06" lengthAdjust="spacingAndGlyphs">697 H3K27ac 6hr</text>
<text x="1006.17" y="989.75" font-size="14.4" textLength="97.06" lengthAdjust="spacingAndGlyphs">697 H3K27ac 0hr</text>
<rect x="894.30" y="1010.60" width="3.00" height="6.40" fill="#0000b4"/>
<rect x="897.00" y="1008.20" width="2.30" height="11.30" fill="#0000b4"/>
<rect x="899.00" y="1013.00" width="26.00" height="1.20" fill="#0000b4"/>
<path d="M906.6 1011.3 L909.0 1013.6 L906.6 1015.9" fill="none" stroke="#0000b4" stroke-width="1"/>
<rect x="911.70" y="1008.20" width="4.00" height="11.30" fill="#0000b4"/>
<rect x="923.00" y="1008.20" width="1.60" height="11.30" fill="#0000b4"/>
<rect x="927.00" y="1008.20" width="10.10" height="11.30" fill="#0000b4"/>
<rect x="937.00" y="1011.00" width="13.40" height="5.60" fill="#0000b4"/>
<text x="910.02" y="1033.60" font-size="12.0" fill="#000">FOS</text>
</svg>
</body></html>
